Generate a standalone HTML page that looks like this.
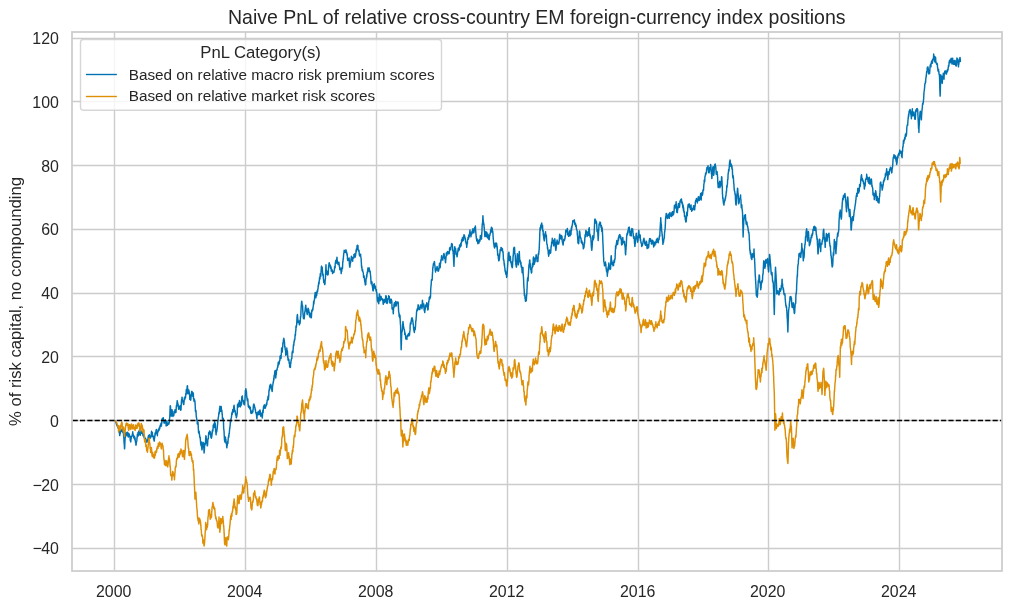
<!DOCTYPE html>
<html lang="en"><head><meta charset="utf-8"><title>Naive PnL</title>
<style>
html,body{margin:0;padding:0;background:#fff;}
body{width:1012px;height:609px;overflow:hidden;}
svg{display:block;}
text{font-family:"Liberation Sans","DejaVu Sans",sans-serif;fill:#262626;}
.tick{font-size:16.67px;}
.leg{font-size:15.31px;}
.legt{font-size:16.67px;}
.ttl{font-size:19.53px;}
.yl{font-size:16.67px;}
</style></head><body>
<svg width="1012" height="609" viewBox="0 0 1012 609">
<rect x="0" y="0" width="1012" height="609" fill="#ffffff"/>

<g stroke="#cccccc" stroke-width="1.39" fill="none">
<line x1="114.50" y1="32.0" x2="114.50" y2="571.0"/>
<line x1="245.50" y1="32.0" x2="245.50" y2="571.0"/>
<line x1="376.50" y1="32.0" x2="376.50" y2="571.0"/>
<line x1="507.50" y1="32.0" x2="507.50" y2="571.0"/>
<line x1="638.50" y1="32.0" x2="638.50" y2="571.0"/>
<line x1="768.50" y1="32.0" x2="768.50" y2="571.0"/>
<line x1="899.50" y1="32.0" x2="899.50" y2="571.0"/>
<line x1="72.0" y1="548.50" x2="1002.0" y2="548.50"/>
<line x1="72.0" y1="484.50" x2="1002.0" y2="484.50"/>
<line x1="72.0" y1="420.50" x2="1002.0" y2="420.50"/>
<line x1="72.0" y1="356.50" x2="1002.0" y2="356.50"/>
<line x1="72.0" y1="293.50" x2="1002.0" y2="293.50"/>
<line x1="72.0" y1="229.50" x2="1002.0" y2="229.50"/>
<line x1="72.0" y1="165.50" x2="1002.0" y2="165.50"/>
<line x1="72.0" y1="101.50" x2="1002.0" y2="101.50"/>
<line x1="72.0" y1="38.50" x2="1002.0" y2="38.50"/>
</g>
<path d="M115.12,420.49 L115.25,420.84 L115.38,421.18 L115.51,421.53 L115.63,421.87 L115.76,422.22 L115.89,422.56 L116.02,422.91 L116.15,423.26 L116.28,423.60 L116.41,423.95 L116.53,424.29 L116.66,424.64 L116.79,424.98 L116.92,425.33 L117.05,425.60 L117.18,425.86 L117.30,426.13 L117.43,426.39 L117.56,426.66 L117.69,426.93 L117.81,427.19 L117.94,427.46 L118.07,427.73 L118.20,427.99 L118.32,428.26 L118.45,428.52 L118.58,428.79 L118.71,428.37 L118.83,428.81 L118.96,429.26 L119.08,432.27 L119.21,430.92 L119.33,430.57 L119.46,433.48 L119.58,434.50 L119.71,435.55 L119.83,435.01 L119.96,432.94 L120.08,433.33 L120.21,433.64 L120.33,432.14 L120.45,431.38 L120.58,431.45 L120.70,430.34 L120.82,430.37 L120.95,430.66 L121.07,430.87 L121.19,429.88 L121.31,430.37 L121.44,431.26 L121.56,431.39 L121.68,429.98 L121.80,430.65 L121.93,429.67 L122.05,430.55 L122.17,428.79 L122.30,430.73 L122.42,431.42 L122.55,430.44 L122.67,430.73 L122.80,431.51 L122.92,432.59 L123.05,431.97 L123.17,431.19 L123.30,432.17 L123.42,432.25 L123.54,434.30 L123.66,437.07 L123.79,436.58 L123.91,438.66 L124.03,442.04 L124.15,443.38 L124.28,444.02 L124.40,446.77 L124.52,448.85 L124.64,448.37 L124.75,446.22 L124.87,442.54 L124.99,440.70 L125.10,438.42 L125.22,437.78 L125.35,437.62 L125.47,435.00 L125.60,432.97 L125.72,433.75 L125.85,434.24 L125.97,432.96 L126.10,432.54 L126.22,432.72 L126.35,432.94 L126.47,433.70 L126.60,433.63 L126.73,433.89 L126.85,433.93 L126.98,435.75 L127.10,433.10 L127.23,433.30 L127.35,433.73 L127.48,432.20 L127.60,433.04 L127.73,432.55 L127.85,434.10 L127.98,434.32 L128.11,435.09 L128.23,436.59 L128.36,436.97 L128.49,435.65 L128.61,433.47 L128.74,435.70 L128.86,435.41 L128.99,434.35 L129.12,434.40 L129.24,434.01 L129.37,435.02 L129.50,435.68 L129.62,436.31 L129.75,435.96 L129.87,437.20 L130.00,436.42 L130.12,437.93 L130.25,440.60 L130.37,439.15 L130.50,436.43 L130.62,437.88 L130.75,441.93 L130.87,440.41 L131.00,438.55 L131.12,439.17 L131.24,437.86 L131.37,437.01 L131.49,436.37 L131.61,436.92 L131.74,436.20 L131.86,436.40 L131.99,436.36 L132.11,435.42 L132.24,435.19 L132.36,434.10 L132.49,434.31 L132.61,432.99 L132.74,431.71 L132.86,433.88 L132.99,434.01 L133.11,434.13 L133.24,435.02 L133.37,435.02 L133.49,435.29 L133.62,436.43 L133.74,437.38 L133.87,436.39 L133.99,438.08 L134.12,437.86 L134.24,437.00 L134.37,436.36 L134.49,436.40 L134.62,439.17 L134.74,438.50 L134.86,439.64 L134.98,437.67 L135.11,438.59 L135.23,440.72 L135.35,441.32 L135.47,441.39 L135.59,442.62 L135.72,442.96 L135.84,443.25 L135.97,445.31 L136.09,444.99 L136.22,443.59 L136.34,442.81 L136.47,442.11 L136.59,441.65 L136.72,441.01 L136.84,440.64 L136.97,437.78 L137.10,438.11 L137.22,436.54 L137.35,434.17 L137.48,434.24 L137.60,435.22 L137.73,435.10 L137.85,434.53 L137.98,432.48 L138.11,435.56 L138.23,435.96 L138.36,433.63 L138.49,432.82 L138.61,433.18 L138.74,431.33 L138.86,431.80 L138.99,431.43 L139.11,433.33 L139.24,434.87 L139.36,431.46 L139.49,431.76 L139.61,429.82 L139.74,431.56 L139.87,431.58 L139.99,432.11 L140.12,430.47 L140.24,432.73 L140.37,435.25 L140.49,433.60 L140.62,433.90 L140.74,432.78 L140.87,432.54 L140.99,430.63 L141.12,432.94 L141.25,432.12 L141.37,432.21 L141.50,433.38 L141.63,432.99 L141.75,433.16 L141.88,432.89 L142.00,433.19 L142.13,432.10 L142.26,432.00 L142.38,432.21 L142.51,432.25 L142.64,433.04 L142.76,433.36 L142.89,435.09 L143.01,435.37 L143.14,435.90 L143.26,435.72 L143.39,435.72 L143.51,434.73 L143.64,436.14 L143.76,435.31 L143.89,435.02 L144.02,436.29 L144.14,437.63 L144.27,437.87 L144.39,435.94 L144.52,437.29 L144.64,438.43 L144.77,437.31 L144.89,439.14 L145.02,438.98 L145.14,438.25 L145.27,439.17 L145.40,439.39 L145.52,440.13 L145.65,438.42 L145.78,441.33 L145.90,440.98 L146.03,439.36 L146.15,440.66 L146.28,440.64 L146.41,441.54 L146.53,441.55 L146.66,441.93 L146.79,442.24 L146.91,441.20 L147.04,442.10 L147.16,441.44 L147.29,440.24 L147.41,440.32 L147.54,440.89 L147.66,440.56 L147.79,439.37 L147.91,440.18 L148.04,437.78 L148.17,436.77 L148.29,437.20 L148.42,435.74 L148.54,436.15 L148.67,436.46 L148.79,438.05 L148.92,437.19 L149.04,436.72 L149.17,437.55 L149.29,434.61 L149.42,439.17 L149.55,438.23 L149.67,437.24 L149.80,438.41 L149.93,438.35 L150.05,435.95 L150.18,436.80 L150.30,437.96 L150.43,437.35 L150.56,436.97 L150.68,437.63 L150.81,436.40 L150.94,436.70 L151.06,436.68 L151.19,435.48 L151.31,433.31 L151.44,432.72 L151.56,431.25 L151.69,432.31 L151.81,432.22 L151.94,432.98 L152.06,432.87 L152.19,432.94 L152.32,432.36 L152.44,433.74 L152.57,436.63 L152.69,436.69 L152.82,436.37 L152.94,436.64 L153.07,436.47 L153.19,436.00 L153.32,436.66 L153.44,436.75 L153.57,439.17 L153.70,438.91 L153.82,439.09 L153.95,440.11 L154.08,439.44 L154.20,441.12 L154.33,440.01 L154.45,438.65 L154.58,437.90 L154.71,437.48 L154.83,435.33 L154.96,435.02 L155.08,432.91 L155.20,434.93 L155.33,434.96 L155.45,434.24 L155.57,433.15 L155.69,432.77 L155.81,432.61 L155.93,431.34 L156.06,430.24 L156.18,430.13 L156.30,429.57 L156.42,430.98 L156.54,432.66 L156.66,432.82 L156.79,433.60 L156.91,431.94 L157.03,432.94 L157.15,432.90 L157.27,433.55 L157.40,435.70 L157.52,432.62 L157.64,432.97 L157.76,431.48 L157.89,432.28 L158.01,430.50 L158.13,429.83 L158.25,430.10 L158.38,430.92 L158.50,431.02 L158.62,429.95 L158.74,429.20 L158.87,430.39 L158.99,430.38 L159.11,428.10 L159.23,428.66 L159.35,428.64 L159.48,429.24 L159.60,428.21 L159.72,428.75 L159.84,426.73 L159.96,426.92 L160.08,425.68 L160.21,426.01 L160.33,426.79 L160.45,425.22 L160.57,424.57 L160.69,424.04 L160.81,425.07 L160.94,425.45 L161.06,423.22 L161.18,423.26 L161.30,423.75 L161.42,426.10 L161.55,423.32 L161.67,422.08 L161.79,423.37 L161.91,421.03 L162.04,418.89 L162.16,419.08 L162.28,419.94 L162.40,418.52 L162.53,418.73 L162.65,418.38 L162.77,419.91 L162.89,419.40 L163.02,420.22 L163.14,418.48 L163.26,417.72 L163.39,417.94 L163.51,419.82 L163.64,420.95 L163.76,420.28 L163.89,421.55 L164.01,422.93 L164.14,423.13 L164.26,423.13 L164.39,423.21 L164.51,421.27 L164.64,421.87 L164.77,422.38 L164.89,421.40 L165.02,422.59 L165.14,420.93 L165.27,420.38 L165.39,419.93 L165.52,422.80 L165.64,420.83 L165.77,421.79 L165.89,423.25 L166.02,423.95 L166.15,425.91 L166.27,424.92 L166.40,422.20 L166.53,423.60 L166.65,422.35 L166.78,422.27 L166.90,421.04 L167.03,422.83 L167.16,424.36 L167.28,423.75 L167.41,425.33 L167.54,425.12 L167.66,424.56 L167.79,424.26 L167.91,423.61 L168.04,424.07 L168.16,424.11 L168.29,423.27 L168.41,424.25 L168.54,423.05 L168.66,423.06 L168.79,423.26 L168.91,424.03 L169.03,422.12 L169.15,423.24 L169.27,422.25 L169.40,420.76 L169.52,418.63 L169.64,418.19 L169.76,417.03 L169.88,413.92 L169.99,410.78 L170.10,408.41 L170.22,405.88 L170.33,405.73 L170.45,405.97 L170.56,407.89 L170.68,409.11 L170.79,409.28 L170.91,410.09 L171.02,412.03 L171.14,415.65 L171.27,416.15 L171.39,415.04 L171.52,414.36 L171.65,412.97 L171.77,411.18 L171.90,410.20 L172.02,409.73 L172.15,411.48 L172.28,410.82 L172.40,411.92 L172.53,413.57 L172.66,413.55 L172.78,415.60 L172.91,416.44 L173.03,415.75 L173.16,415.98 L173.28,415.89 L173.41,415.45 L173.53,415.06 L173.66,415.13 L173.78,415.59 L173.91,414.27 L174.04,413.82 L174.16,411.33 L174.29,411.24 L174.41,411.65 L174.54,411.43 L174.66,411.38 L174.79,411.74 L174.91,410.40 L175.04,409.64 L175.16,409.89 L175.29,410.81 L175.42,410.28 L175.55,412.66 L175.68,411.47 L175.80,411.76 L175.93,412.41 L176.06,411.16 L176.19,408.99 L176.32,406.33 L176.45,405.49 L176.58,405.92 L176.70,405.22 L176.83,404.39 L176.96,402.82 L177.09,402.51 L177.22,400.60 L177.34,401.89 L177.47,402.90 L177.59,402.03 L177.72,405.94 L177.84,405.04 L177.97,404.56 L178.09,403.91 L178.22,406.39 L178.34,406.16 L178.47,408.04 L178.60,408.88 L178.72,409.28 L178.85,407.56 L178.98,406.78 L179.10,409.09 L179.23,407.40 L179.35,406.32 L179.48,406.15 L179.61,407.29 L179.73,407.68 L179.86,408.73 L179.99,406.92 L180.11,407.84 L180.24,408.24 L180.36,405.72 L180.49,407.44 L180.61,410.17 L180.74,408.76 L180.86,408.47 L180.99,410.00 L181.11,407.63 L181.24,404.58 L181.37,402.23 L181.49,400.86 L181.62,399.47 L181.74,399.69 L181.87,399.45 L181.99,397.17 L182.12,397.33 L182.24,399.26 L182.37,400.27 L182.49,401.01 L182.62,400.43 L182.75,401.84 L182.87,400.62 L183.00,401.72 L183.13,401.69 L183.25,403.30 L183.38,404.02 L183.50,402.63 L183.63,402.89 L183.76,404.62 L183.88,403.18 L184.01,402.51 L184.14,400.73 L184.26,397.97 L184.39,398.53 L184.51,399.56 L184.64,399.90 L184.76,399.49 L184.89,398.68 L185.01,398.26 L185.14,396.53 L185.26,397.00 L185.39,397.67 L185.51,397.76 L185.63,395.87 L185.75,394.80 L185.88,393.40 L186.00,394.65 L186.12,393.72 L186.24,390.00 L186.36,389.37 L186.48,391.73 L186.61,392.48 L186.73,393.48 L186.85,393.35 L186.98,390.51 L187.10,387.89 L187.22,386.02 L187.35,385.67 L187.47,385.91 L187.59,387.91 L187.71,388.52 L187.84,390.87 L187.96,391.56 L188.08,391.68 L188.20,393.90 L188.33,393.73 L188.45,391.11 L188.57,390.75 L188.70,392.56 L188.82,390.08 L188.95,391.28 L189.08,392.51 L189.20,392.26 L189.33,391.94 L189.45,393.00 L189.58,393.94 L189.71,397.32 L189.83,399.50 L189.96,399.05 L190.09,397.13 L190.21,397.31 L190.34,399.10 L190.46,398.85 L190.59,398.50 L190.71,400.24 L190.84,399.44 L190.96,398.25 L191.09,395.57 L191.21,394.11 L191.34,396.28 L191.46,394.03 L191.58,393.71 L191.70,391.48 L191.82,391.32 L191.95,392.19 L192.07,391.53 L192.19,392.18 L192.31,392.82 L192.44,393.24 L192.56,395.37 L192.69,396.23 L192.81,395.64 L192.94,394.53 L193.06,393.20 L193.19,393.66 L193.31,393.04 L193.44,396.53 L193.56,398.84 L193.69,398.36 L193.82,398.42 L193.94,401.22 L194.07,399.18 L194.19,399.08 L194.32,400.87 L194.44,400.15 L194.57,400.02 L194.69,400.05 L194.82,401.45 L194.94,402.15 L195.07,403.20 L195.19,405.78 L195.31,407.60 L195.43,410.87 L195.56,411.66 L195.68,411.50 L195.80,410.88 L195.92,410.47 L196.04,411.50 L196.16,414.55 L196.29,416.44 L196.41,417.29 L196.53,417.50 L196.66,418.44 L196.78,419.55 L196.90,420.44 L197.03,420.17 L197.15,421.18 L197.28,423.93 L197.40,422.36 L197.53,423.41 L197.65,421.92 L197.78,423.54 L197.90,423.90 L198.03,422.46 L198.15,423.96 L198.28,427.79 L198.40,429.31 L198.53,432.25 L198.66,432.95 L198.78,430.84 L198.91,432.31 L199.04,432.54 L199.16,431.37 L199.29,433.23 L199.41,434.42 L199.54,434.51 L199.67,436.49 L199.79,436.11 L199.92,437.78 L200.05,437.21 L200.17,438.62 L200.30,437.83 L200.42,440.54 L200.55,441.58 L200.67,444.21 L200.80,443.80 L200.92,443.85 L201.05,445.68 L201.17,442.67 L201.30,441.93 L201.43,444.17 L201.55,445.65 L201.68,447.81 L201.80,448.24 L201.93,449.85 L202.05,449.71 L202.18,448.71 L202.30,447.27 L202.43,447.37 L202.55,447.47 L202.68,447.47 L202.81,443.84 L202.93,442.31 L203.06,442.76 L203.19,444.31 L203.31,444.69 L203.44,444.67 L203.56,442.72 L203.69,446.61 L203.82,446.29 L203.94,449.73 L204.07,453.00 L204.19,452.12 L204.31,450.10 L204.44,449.04 L204.56,446.23 L204.68,445.34 L204.80,444.10 L204.93,443.57 L205.05,443.61 L205.17,444.70 L205.29,443.26 L205.41,443.75 L205.53,441.77 L205.65,439.65 L205.78,437.90 L205.90,435.66 L206.02,436.07 L206.14,436.40 L206.27,439.17 L206.39,440.19 L206.52,441.62 L206.64,441.89 L206.77,441.39 L206.89,443.05 L207.02,444.47 L207.14,444.03 L207.27,445.87 L207.39,444.58 L207.52,445.39 L207.64,443.36 L207.76,441.47 L207.88,438.83 L208.00,438.94 L208.13,438.53 L208.25,438.95 L208.37,437.95 L208.49,435.02 L208.61,434.33 L208.74,432.54 L208.86,432.96 L208.98,434.40 L209.11,434.65 L209.23,433.64 L209.35,432.94 L209.48,433.02 L209.60,430.87 L209.73,431.63 L209.85,432.45 L209.98,432.27 L210.10,432.26 L210.23,433.04 L210.35,432.48 L210.48,431.92 L210.60,433.52 L210.73,434.37 L210.85,437.19 L210.98,436.40 L211.11,434.58 L211.23,436.43 L211.36,438.29 L211.49,437.87 L211.61,436.47 L211.74,436.98 L211.86,435.19 L211.99,435.30 L212.12,432.92 L212.24,433.17 L212.37,430.87 L212.50,429.97 L212.62,431.43 L212.75,430.49 L212.87,430.94 L213.00,429.49 L213.12,427.70 L213.25,425.08 L213.37,425.90 L213.50,425.23 L213.62,426.83 L213.75,424.64 L213.87,423.99 L214.00,423.75 L214.12,425.30 L214.24,427.41 L214.37,426.18 L214.49,424.30 L214.61,421.60 L214.74,423.05 L214.86,422.57 L214.98,423.67 L215.10,425.57 L215.22,424.09 L215.34,423.73 L215.46,426.96 L215.58,429.46 L215.70,431.63 L215.82,432.25 L215.95,432.74 L216.07,434.83 L216.20,432.87 L216.33,432.58 L216.45,431.69 L216.58,431.87 L216.70,431.58 L216.83,431.07 L216.96,429.57 L217.08,429.24 L217.21,428.10 L217.34,426.60 L217.46,425.22 L217.59,424.80 L217.71,422.72 L217.84,420.98 L217.96,421.13 L218.09,419.54 L218.21,417.89 L218.34,417.76 L218.46,416.83 L218.59,415.65 L218.71,415.22 L218.83,412.82 L218.95,412.71 L219.07,413.78 L219.20,413.83 L219.32,411.01 L219.44,410.67 L219.56,408.73 L219.68,408.14 L219.81,408.02 L219.93,406.13 L220.05,407.65 L220.18,407.27 L220.30,408.06 L220.42,408.64 L220.55,410.17 L220.67,411.50 L220.80,409.61 L220.92,409.76 L221.05,406.97 L221.17,406.47 L221.30,407.53 L221.42,408.87 L221.55,410.71 L221.67,410.30 L221.80,410.83 L221.92,411.07 L222.05,412.88 L222.18,414.74 L222.30,413.97 L222.43,418.80 L222.55,418.51 L222.68,417.73 L222.80,418.26 L222.93,419.00 L223.05,419.45 L223.18,418.30 L223.30,420.01 L223.43,419.80 L223.55,424.26 L223.68,428.53 L223.80,429.20 L223.92,430.26 L224.05,431.30 L224.17,434.03 L224.29,436.50 L224.42,439.25 L224.54,440.55 L224.67,440.59 L224.79,441.94 L224.92,439.60 L225.04,438.80 L225.17,438.59 L225.29,437.88 L225.42,437.08 L225.54,438.93 L225.67,440.12 L225.79,440.73 L225.92,439.17 L226.04,442.67 L226.17,443.63 L226.29,443.33 L226.41,443.35 L226.54,443.16 L226.66,446.50 L226.78,447.26 L226.91,447.82 L227.03,445.39 L227.15,446.06 L227.28,444.31 L227.40,442.46 L227.53,442.97 L227.65,441.48 L227.77,442.28 L227.90,443.47 L228.02,440.73 L228.15,440.23 L228.27,437.78 L228.40,437.10 L228.52,437.73 L228.65,435.29 L228.78,437.13 L228.90,436.11 L229.03,433.91 L229.15,433.15 L229.28,433.62 L229.41,431.16 L229.53,430.56 L229.66,428.10 L229.79,428.50 L229.91,427.48 L230.04,425.67 L230.16,425.84 L230.29,422.87 L230.41,421.11 L230.54,422.37 L230.66,420.97 L230.79,421.57 L230.91,420.60 L231.04,418.42 L231.17,418.00 L231.29,418.03 L231.42,417.39 L231.54,416.19 L231.67,415.05 L231.79,412.97 L231.92,413.03 L232.04,413.48 L232.17,414.40 L232.29,411.88 L232.42,412.88 L232.55,412.32 L232.68,409.85 L232.80,409.44 L232.93,410.00 L233.06,410.16 L233.19,410.60 L233.31,411.34 L233.44,412.01 L233.57,411.42 L233.70,408.07 L233.82,406.50 L233.95,406.44 L234.08,405.27 L234.20,406.48 L234.33,407.84 L234.45,408.20 L234.57,411.02 L234.70,409.99 L234.82,411.53 L234.94,411.18 L235.07,410.42 L235.19,411.50 L235.32,411.79 L235.44,414.07 L235.57,413.61 L235.69,414.78 L235.82,414.77 L235.94,415.57 L236.07,416.19 L236.19,415.79 L236.32,417.79 L236.44,417.23 L236.57,417.03 L236.69,416.30 L236.81,415.69 L236.93,414.66 L237.06,413.19 L237.18,414.34 L237.30,410.78 L237.42,407.85 L237.54,404.58 L237.67,405.33 L237.80,405.25 L237.93,406.28 L238.05,407.13 L238.18,406.36 L238.31,404.79 L238.44,402.98 L238.57,405.50 L238.70,406.35 L238.83,406.68 L238.95,405.76 L239.08,405.03 L239.21,404.10 L239.34,403.20 L239.47,400.53 L239.59,401.03 L239.72,401.09 L239.84,402.05 L239.97,402.91 L240.09,404.64 L240.22,405.20 L240.34,406.85 L240.47,403.97 L240.59,403.06 L240.72,405.97 L240.85,404.38 L240.97,404.05 L241.10,405.06 L241.23,403.92 L241.35,404.95 L241.48,403.08 L241.60,400.55 L241.73,398.81 L241.86,396.63 L241.98,396.66 L242.11,396.28 L242.24,396.99 L242.36,395.86 L242.49,399.56 L242.61,399.70 L242.74,399.90 L242.86,400.79 L242.99,400.73 L243.11,400.14 L243.24,400.53 L243.36,402.03 L243.49,403.20 L243.62,404.00 L243.74,402.78 L243.87,401.26 L243.99,403.50 L244.12,402.72 L244.24,402.90 L244.37,403.43 L244.49,404.88 L244.62,402.59 L244.74,401.48 L244.87,400.43 L244.99,399.47 L245.12,395.66 L245.24,394.98 L245.36,390.52 L245.49,390.37 L245.61,390.55 L245.73,390.81 L245.86,388.63 L245.98,389.37 L246.10,390.18 L246.22,390.50 L246.34,391.15 L246.46,391.98 L246.59,394.19 L246.71,397.28 L246.83,396.42 L246.95,397.67 L247.08,399.17 L247.20,399.72 L247.33,400.69 L247.45,398.95 L247.58,400.52 L247.70,398.69 L247.83,399.24 L247.95,401.37 L248.08,404.20 L248.20,405.18 L248.33,406.66 L248.46,406.05 L248.59,405.61 L248.71,407.40 L248.84,407.61 L248.97,407.65 L249.10,405.96 L249.22,406.37 L249.35,407.45 L249.48,406.59 L249.61,406.12 L249.73,408.46 L249.86,408.91 L249.99,408.73 L250.11,407.71 L250.23,407.39 L250.35,407.57 L250.47,409.94 L250.59,409.63 L250.71,412.57 L250.83,411.83 L250.95,411.86 L251.07,413.52 L251.19,413.41 L251.31,412.51 L251.43,412.54 L251.56,413.37 L251.68,411.26 L251.80,411.15 L251.92,411.21 L252.04,410.88 L252.16,412.09 L252.29,411.54 L252.41,411.26 L252.53,411.53 L252.65,412.73 L252.78,411.08 L252.90,411.78 L253.03,409.20 L253.15,409.59 L253.28,407.08 L253.41,405.51 L253.53,404.65 L253.66,406.07 L253.78,405.93 L253.91,404.03 L254.04,406.00 L254.16,405.92 L254.29,405.06 L254.42,405.88 L254.55,406.22 L254.67,407.72 L254.80,407.19 L254.93,407.91 L255.05,408.98 L255.18,409.57 L255.30,409.98 L255.42,409.48 L255.54,411.15 L255.67,411.78 L255.79,412.90 L255.91,412.87 L256.03,413.33 L256.15,412.38 L256.27,412.94 L256.40,414.42 L256.52,414.99 L256.64,416.60 L256.76,417.47 L256.88,418.79 L257.00,418.01 L257.12,415.28 L257.25,415.35 L257.37,414.60 L257.49,412.77 L257.61,413.13 L257.73,412.96 L257.85,413.04 L257.98,412.08 L258.10,411.82 L258.22,411.64 L258.34,413.52 L258.46,413.14 L258.58,413.67 L258.70,414.70 L258.83,412.92 L258.95,411.29 L259.07,414.76 L259.19,412.92 L259.31,414.24 L259.43,413.63 L259.56,413.15 L259.68,411.01 L259.80,410.34 L259.92,411.94 L260.04,410.06 L260.16,410.86 L260.28,411.27 L260.41,413.99 L260.53,413.34 L260.65,415.04 L260.77,416.23 L260.89,415.84 L261.01,413.59 L261.14,415.62 L261.26,413.77 L261.38,413.12 L261.50,414.31 L261.62,415.60 L261.74,414.23 L261.86,413.97 L261.99,413.40 L262.11,414.77 L262.23,417.93 L262.35,415.24 L262.47,416.26 L262.59,412.18 L262.72,411.98 L262.84,410.26 L262.96,412.73 L263.08,412.73 L263.20,410.85 L263.32,409.30 L263.44,407.64 L263.55,407.02 L263.67,405.92 L263.79,405.93 L263.91,407.12 L264.03,407.19 L264.16,406.35 L264.28,404.98 L264.41,404.77 L264.54,407.01 L264.66,407.37 L264.79,407.29 L264.92,408.29 L265.05,407.20 L265.17,406.47 L265.30,407.98 L265.43,407.50 L265.55,406.82 L265.68,407.18 L265.80,406.32 L265.93,405.33 L266.06,404.64 L266.18,405.39 L266.31,405.40 L266.43,403.72 L266.56,403.24 L266.69,403.08 L266.81,404.56 L266.94,401.98 L267.07,401.40 L267.19,400.02 L267.32,400.09 L267.45,399.66 L267.58,400.61 L267.70,400.27 L267.83,398.50 L267.96,396.81 L268.08,396.40 L268.21,395.97 L268.33,398.24 L268.46,399.54 L268.59,397.00 L268.71,396.51 L268.84,393.75 L268.96,390.55 L269.09,390.59 L269.21,390.69 L269.33,388.64 L269.45,390.22 L269.56,388.25 L269.68,386.03 L269.80,386.27 L269.92,385.92 L270.04,385.06 L270.17,385.59 L270.29,386.52 L270.42,386.96 L270.54,387.35 L270.67,385.42 L270.80,384.23 L270.92,385.68 L271.05,385.36 L271.17,386.72 L271.30,389.01 L271.43,387.57 L271.55,386.99 L271.68,388.84 L271.81,388.82 L271.94,390.35 L272.06,391.46 L272.19,391.52 L272.32,390.41 L272.44,388.31 L272.57,385.85 L272.70,385.44 L272.82,385.01 L272.95,383.70 L273.07,383.78 L273.20,381.90 L273.33,382.33 L273.45,381.32 L273.58,380.21 L273.70,379.14 L273.83,377.94 L273.95,379.94 L274.07,376.40 L274.19,375.28 L274.30,375.60 L274.42,375.20 L274.54,373.44 L274.66,374.42 L274.78,371.62 L274.90,371.10 L275.02,373.11 L275.14,372.39 L275.25,370.42 L275.37,372.85 L275.49,375.12 L275.61,377.36 L275.73,377.94 L275.86,376.74 L275.98,374.00 L276.11,374.89 L276.24,374.52 L276.37,374.08 L276.49,370.00 L276.62,369.65 L276.75,370.22 L276.87,370.42 L277.00,370.04 L277.13,369.18 L277.25,367.87 L277.38,367.82 L277.50,367.48 L277.63,366.95 L277.76,365.67 L277.88,367.09 L278.01,364.66 L278.13,363.77 L278.26,362.13 L278.39,362.66 L278.51,363.73 L278.64,364.54 L278.77,364.70 L278.89,361.94 L279.02,363.88 L279.15,363.72 L279.28,362.71 L279.40,361.87 L279.53,360.55 L279.66,360.79 L279.78,360.88 L279.91,360.07 L280.03,356.27 L280.16,355.89 L280.29,356.20 L280.41,356.59 L280.54,356.05 L280.66,356.33 L280.79,357.39 L280.92,356.66 L281.04,358.55 L281.17,355.81 L281.30,354.02 L281.43,352.70 L281.55,349.30 L281.68,347.86 L281.81,349.45 L281.93,351.03 L282.06,351.07 L282.18,352.10 L282.30,351.13 L282.41,349.17 L282.53,348.20 L282.65,346.72 L282.76,346.42 L282.88,343.10 L283.00,343.16 L283.12,342.17 L283.24,342.95 L283.36,340.50 L283.48,339.56 L283.59,339.29 L283.71,340.14 L283.83,338.12 L283.95,340.00 L284.07,340.60 L284.19,339.83 L284.31,341.42 L284.42,341.51 L284.54,343.02 L284.66,346.10 L284.78,347.08 L284.90,346.32 L285.02,346.65 L285.14,348.34 L285.26,349.64 L285.38,349.42 L285.49,349.42 L285.61,351.22 L285.73,355.30 L285.85,352.65 L285.97,353.38 L286.09,352.86 L286.21,353.67 L286.33,354.60 L286.44,354.43 L286.56,352.81 L286.68,350.68 L286.80,347.91 L286.92,350.47 L287.04,351.10 L287.16,351.28 L287.27,351.82 L287.39,350.93 L287.51,352.25 L287.63,354.94 L287.75,357.39 L287.88,356.66 L288.00,359.88 L288.13,360.23 L288.25,359.03 L288.38,358.75 L288.51,358.82 L288.63,360.20 L288.76,360.18 L288.88,359.53 L289.01,360.55 L289.14,363.24 L289.26,362.39 L289.39,363.11 L289.52,363.31 L289.64,366.99 L289.77,364.52 L289.90,366.10 L290.03,364.46 L290.15,363.76 L290.28,363.72 L290.41,367.42 L290.53,365.79 L290.66,362.64 L290.78,363.80 L290.91,362.06 L291.04,361.14 L291.16,360.50 L291.29,360.04 L291.41,359.21 L291.54,358.97 L291.66,358.49 L291.78,358.64 L291.90,357.06 L292.01,355.04 L292.13,352.60 L292.25,352.39 L292.37,351.33 L292.49,351.07 L292.61,351.11 L292.73,352.70 L292.85,352.30 L292.97,352.63 L293.08,350.32 L293.20,348.17 L293.32,347.07 L293.44,344.74 L293.56,346.18 L293.68,344.89 L293.80,345.49 L293.91,342.68 L294.03,341.70 L294.15,341.75 L294.27,341.91 L294.39,340.00 L294.51,339.39 L294.63,339.95 L294.75,340.06 L294.88,338.42 L295.00,336.86 L295.12,334.50 L295.24,334.60 L295.36,335.78 L295.48,334.32 L295.60,331.27 L295.73,330.78 L295.85,330.97 L295.97,326.54 L296.09,325.97 L296.21,327.27 L296.33,326.77 L296.46,325.89 L296.58,324.82 L296.70,324.63 L296.82,321.75 L296.95,318.99 L297.07,317.92 L297.19,315.38 L297.31,316.40 L297.43,314.49 L297.55,316.19 L297.66,318.00 L297.78,318.74 L297.90,319.63 L298.02,322.49 L298.14,321.70 L298.27,321.58 L298.39,321.22 L298.52,321.76 L298.65,321.51 L298.77,322.67 L298.90,322.91 L299.03,322.07 L299.16,321.09 L299.28,323.84 L299.41,324.86 L299.54,323.96 L299.67,323.41 L299.80,322.71 L299.93,323.15 L300.06,323.32 L300.18,321.93 L300.31,320.23 L300.44,318.18 L300.57,315.90 L300.70,317.21 L300.83,315.38 L300.96,311.26 L301.09,308.72 L301.22,306.26 L301.35,305.31 L301.48,302.72 L301.60,302.04 L301.73,301.17 L301.86,301.48 L301.99,303.01 L302.12,305.46 L302.25,305.89 L302.38,305.14 L302.50,305.42 L302.63,306.57 L302.76,310.18 L302.88,311.91 L303.01,314.35 L303.14,314.94 L303.27,316.55 L303.39,318.34 L303.52,318.54 L303.65,318.46 L303.77,318.78 L303.90,317.44 L304.02,317.69 L304.15,318.79 L304.28,317.76 L304.40,316.63 L304.53,315.09 L304.65,313.12 L304.78,312.21 L304.91,311.70 L305.03,311.33 L305.16,310.34 L305.29,308.31 L305.41,307.09 L305.54,307.59 L305.67,306.04 L305.80,305.21 L305.92,307.48 L306.05,309.05 L306.18,308.40 L306.30,309.49 L306.43,308.89 L306.55,311.37 L306.68,310.86 L306.81,311.26 L306.93,313.41 L307.06,312.57 L307.18,314.61 L307.31,313.79 L307.44,313.44 L307.56,312.38 L307.69,311.59 L307.82,311.14 L307.94,310.37 L308.07,308.33 L308.20,308.84 L308.33,309.14 L308.45,310.22 L308.58,311.42 L308.71,309.58 L308.83,311.28 L308.96,313.01 L309.08,312.26 L309.21,313.63 L309.34,315.59 L309.46,314.83 L309.59,312.94 L309.71,312.43 L309.84,316.17 L309.97,317.12 L310.09,316.11 L310.22,316.41 L310.35,315.70 L310.48,315.79 L310.60,316.55 L310.73,313.72 L310.86,314.84 L310.98,317.38 L311.11,317.75 L311.24,316.75 L311.36,317.74 L311.49,315.54 L311.61,313.37 L311.74,311.00 L311.87,310.31 L311.99,310.35 L312.12,309.74 L312.24,310.00 L312.37,310.63 L312.50,310.85 L312.62,309.30 L312.75,308.48 L312.88,309.71 L313.00,307.85 L313.13,307.05 L313.26,306.03 L313.39,305.33 L313.51,303.43 L313.64,301.15 L313.77,303.61 L313.89,303.90 L314.02,301.95 L314.14,300.89 L314.27,300.82 L314.40,299.36 L314.52,299.21 L314.65,297.39 L314.77,295.92 L314.90,294.82 L315.03,295.01 L315.15,292.50 L315.28,293.34 L315.41,294.50 L315.53,295.95 L315.66,295.41 L315.79,296.68 L315.92,297.78 L316.04,296.20 L316.17,294.03 L316.30,294.14 L316.42,292.33 L316.55,293.15 L316.67,295.51 L316.80,294.19 L316.93,292.73 L317.05,292.19 L317.18,292.57 L317.30,290.51 L317.43,291.66 L317.56,291.60 L317.68,291.10 L317.81,288.97 L317.94,288.81 L318.06,288.57 L318.19,285.55 L318.32,286.98 L318.45,285.17 L318.57,284.27 L318.70,282.17 L318.83,282.69 L318.95,284.25 L319.08,283.16 L319.20,280.93 L319.33,280.32 L319.46,278.55 L319.58,277.53 L319.71,277.36 L319.83,277.27 L319.96,279.01 L320.08,276.34 L320.20,275.52 L320.32,273.54 L320.44,274.09 L320.55,276.20 L320.67,275.32 L320.79,276.28 L320.91,274.27 L321.04,272.00 L321.16,270.18 L321.29,267.94 L321.41,266.54 L321.54,266.11 L321.67,267.56 L321.79,268.39 L321.92,268.91 L322.04,268.23 L322.17,267.15 L322.30,268.64 L322.42,270.27 L322.55,272.06 L322.68,274.01 L322.81,275.29 L322.93,274.14 L323.06,274.08 L323.19,274.41 L323.31,278.14 L323.44,279.01 L323.57,280.00 L323.69,282.05 L323.82,282.58 L323.94,282.12 L324.07,281.80 L324.20,280.50 L324.32,280.99 L324.45,282.59 L324.57,283.43 L324.70,284.55 L324.83,283.54 L324.95,284.27 L325.08,281.43 L325.21,279.67 L325.34,278.64 L325.46,278.35 L325.59,273.09 L325.72,270.41 L325.84,268.15 L325.97,264.78 L326.10,267.81 L326.22,270.00 L326.35,271.36 L326.47,271.04 L326.60,271.14 L326.73,271.70 L326.85,274.21 L326.98,274.45 L327.10,273.55 L327.23,273.48 L327.36,271.56 L327.48,272.69 L327.61,274.94 L327.74,273.17 L327.87,273.32 L327.99,274.08 L328.12,274.69 L328.25,273.41 L328.37,270.52 L328.50,268.74 L328.63,265.80 L328.75,265.69 L328.88,266.31 L329.00,263.33 L329.13,262.83 L329.26,262.79 L329.38,264.05 L329.51,265.48 L329.63,266.14 L329.76,264.78 L329.89,264.43 L330.01,266.21 L330.14,265.54 L330.27,265.63 L330.39,267.88 L330.52,268.20 L330.65,266.50 L330.78,266.25 L330.90,267.26 L331.03,267.15 L331.16,269.06 L331.28,271.14 L331.41,270.61 L331.53,270.28 L331.66,270.48 L331.79,269.21 L331.91,270.06 L332.04,270.17 L332.16,271.57 L332.29,271.11 L332.42,270.49 L332.54,273.54 L332.67,272.92 L332.80,272.70 L332.93,272.28 L333.05,272.44 L333.18,271.77 L333.31,272.28 L333.43,271.89 L333.56,271.90 L333.69,271.87 L333.81,272.29 L333.94,272.40 L334.06,270.88 L334.19,270.89 L334.32,270.21 L334.44,269.54 L334.57,266.69 L334.69,267.07 L334.82,266.36 L334.95,267.82 L335.07,267.85 L335.20,265.50 L335.33,262.81 L335.45,263.53 L335.58,261.51 L335.71,261.59 L335.84,260.35 L335.96,262.35 L336.09,261.62 L336.21,262.51 L336.33,263.16 L336.45,261.38 L336.56,259.79 L336.68,260.65 L336.80,259.50 L336.92,257.19 L337.04,257.67 L337.17,260.84 L337.29,260.48 L337.42,262.07 L337.54,261.56 L337.67,263.10 L337.80,262.49 L337.92,264.01 L338.05,264.46 L338.17,263.94 L338.30,263.99 L338.43,263.94 L338.55,263.11 L338.68,262.38 L338.81,262.99 L338.94,262.26 L339.06,263.56 L339.19,264.98 L339.32,266.32 L339.44,266.36 L339.57,267.15 L339.70,267.52 L339.82,269.71 L339.95,269.03 L340.07,268.92 L340.20,269.01 L340.33,269.23 L340.45,268.63 L340.58,268.19 L340.70,269.98 L340.83,269.53 L340.96,270.22 L341.08,272.43 L341.21,273.61 L341.33,270.63 L341.46,271.13 L341.59,271.23 L341.71,271.42 L341.84,268.68 L341.96,269.16 L342.09,267.15 L342.22,267.14 L342.34,266.84 L342.47,268.52 L342.60,266.24 L342.73,262.42 L342.85,262.08 L342.98,261.50 L343.11,259.22 L343.23,259.29 L343.36,258.46 L343.48,256.12 L343.60,255.05 L343.72,253.85 L343.84,253.10 L343.95,252.76 L344.07,251.22 L344.19,250.35 L344.31,250.55 L344.44,251.15 L344.56,251.48 L344.69,251.76 L344.81,252.32 L344.94,250.43 L345.07,251.34 L345.19,250.65 L345.32,251.48 L345.44,250.19 L345.57,252.13 L345.70,252.44 L345.82,250.60 L345.95,250.91 L346.08,249.88 L346.20,252.30 L346.33,252.95 L346.46,251.87 L346.59,252.16 L346.71,252.11 L346.84,253.72 L346.97,254.48 L347.09,255.44 L347.22,254.21 L347.34,255.55 L347.47,258.66 L347.60,259.79 L347.72,260.02 L347.85,260.52 L347.97,259.51 L348.10,260.04 L348.23,259.05 L348.35,259.61 L348.48,259.58 L348.61,258.95 L348.74,260.23 L348.86,258.71 L348.99,259.15 L349.12,257.86 L349.24,260.83 L349.37,263.99 L349.50,264.65 L349.62,266.72 L349.75,267.03 L349.87,267.28 L350.00,266.22 L350.13,264.52 L350.25,264.21 L350.38,262.99 L350.50,261.91 L350.63,262.41 L350.76,262.12 L350.88,259.89 L351.01,259.47 L351.14,258.32 L351.26,257.79 L351.39,256.19 L351.52,257.68 L351.65,260.13 L351.77,258.50 L351.90,259.25 L352.03,259.60 L352.15,257.69 L352.28,257.37 L352.40,258.82 L352.53,259.50 L352.66,261.23 L352.78,259.19 L352.91,257.72 L353.03,257.65 L353.16,257.67 L353.29,258.02 L353.41,257.82 L353.54,257.58 L353.67,257.08 L353.80,258.00 L353.92,254.59 L354.05,257.07 L354.18,256.67 L354.30,255.05 L354.43,256.09 L354.56,254.09 L354.68,254.51 L354.81,253.86 L354.93,254.56 L355.06,255.51 L355.19,257.15 L355.31,256.38 L355.44,255.87 L355.56,255.74 L355.69,253.72 L355.82,253.58 L355.94,252.81 L356.07,250.05 L356.20,250.74 L356.32,251.64 L356.45,248.91 L356.58,248.74 L356.71,249.48 L356.83,249.66 L356.96,247.39 L357.09,245.67 L357.21,245.69 L357.34,245.18 L357.46,245.34 L357.59,245.37 L357.72,246.25 L357.84,245.66 L357.97,245.60 L358.09,249.77 L358.22,249.76 L358.35,250.69 L358.47,251.01 L358.60,251.24 L358.73,249.94 L358.86,250.58 L358.98,250.44 L359.11,251.47 L359.24,254.17 L359.36,254.34 L359.49,255.30 L359.62,253.90 L359.74,254.03 L359.87,256.10 L359.99,256.00 L360.12,255.12 L360.25,255.37 L360.37,255.10 L360.50,254.75 L360.62,254.22 L360.75,256.88 L360.87,256.99 L360.99,257.73 L361.11,258.24 L361.23,261.21 L361.34,262.12 L361.46,265.17 L361.58,266.68 L361.70,267.94 L361.83,266.40 L361.95,268.46 L362.08,269.62 L362.20,270.60 L362.33,270.87 L362.46,270.74 L362.58,269.46 L362.71,271.16 L362.83,271.96 L362.96,271.90 L363.09,271.65 L363.21,272.41 L363.34,272.89 L363.47,275.72 L363.60,277.36 L363.72,277.16 L363.85,276.27 L363.98,276.56 L364.10,275.93 L364.23,276.64 L364.35,277.81 L364.47,279.30 L364.59,280.49 L364.72,280.87 L364.84,282.31 L364.96,281.74 L365.08,282.27 L365.20,284.00 L365.32,285.02 L365.45,283.94 L365.57,283.02 L365.69,281.48 L365.81,284.55 L365.94,280.51 L366.06,278.38 L366.19,278.91 L366.32,278.42 L366.44,278.25 L366.57,275.63 L366.70,274.69 L366.83,276.86 L366.95,274.86 L367.08,273.48 L367.21,272.46 L367.33,271.85 L367.46,271.76 L367.58,273.04 L367.71,271.23 L367.84,268.71 L367.96,268.15 L368.09,267.84 L368.21,269.15 L368.34,269.53 L368.46,268.58 L368.58,269.24 L368.70,270.64 L368.81,270.92 L368.93,270.35 L369.05,271.16 L369.17,270.57 L369.29,267.94 L369.42,270.73 L369.54,269.99 L369.67,270.53 L369.79,271.10 L369.92,271.64 L370.05,272.25 L370.17,271.29 L370.30,272.99 L370.42,274.02 L370.55,275.06 L370.68,276.68 L370.80,278.34 L370.93,280.33 L371.06,283.00 L371.19,283.79 L371.31,281.88 L371.44,282.35 L371.57,282.54 L371.69,282.81 L371.82,282.17 L371.95,281.86 L372.07,283.83 L372.20,286.04 L372.32,285.42 L372.45,287.05 L372.58,287.71 L372.70,288.08 L372.83,289.90 L372.95,290.72 L373.08,290.87 L373.21,290.86 L373.33,288.08 L373.46,287.20 L373.59,286.52 L373.72,284.54 L373.84,284.69 L373.97,284.97 L374.10,284.06 L374.22,283.74 L374.35,284.55 L374.48,286.36 L374.60,285.71 L374.73,286.54 L374.85,288.31 L374.98,288.64 L375.11,287.97 L375.23,287.30 L375.36,287.24 L375.48,286.21 L375.61,289.29 L375.74,288.81 L375.86,289.61 L375.99,290.14 L376.12,291.29 L376.25,291.05 L376.37,289.58 L376.50,292.08 L376.63,292.25 L376.75,292.69 L376.88,293.24 L377.01,295.36 L377.13,296.81 L377.26,298.81 L377.38,300.33 L377.51,300.95 L377.64,301.71 L377.76,301.12 L377.89,298.92 L378.01,299.01 L378.14,297.98 L378.27,300.77 L378.39,302.16 L378.52,303.04 L378.65,301.59 L378.77,303.66 L378.90,300.66 L379.03,298.32 L379.16,296.56 L379.28,294.56 L379.41,294.03 L379.54,294.37 L379.66,297.03 L379.79,298.46 L379.91,300.19 L380.04,300.84 L380.17,300.72 L380.29,299.88 L380.42,297.92 L380.54,296.83 L380.67,296.40 L380.80,298.47 L380.92,297.24 L381.05,296.44 L381.18,297.78 L381.31,297.40 L381.43,298.90 L381.56,299.38 L381.69,299.41 L381.81,298.65 L381.94,299.57 L382.07,299.24 L382.19,299.06 L382.32,298.85 L382.44,299.75 L382.57,300.60 L382.70,298.94 L382.82,299.37 L382.95,300.55 L383.07,302.60 L383.20,304.31 L383.33,304.11 L383.45,302.08 L383.58,300.56 L383.71,301.31 L383.84,299.88 L383.96,300.78 L384.09,302.01 L384.22,300.10 L384.34,300.21 L384.47,299.57 L384.60,301.87 L384.72,302.57 L384.85,301.45 L384.97,301.57 L385.10,299.89 L385.23,299.25 L385.35,299.10 L385.48,298.87 L385.60,298.85 L385.73,297.19 L385.86,295.65 L385.98,296.13 L386.11,295.89 L386.24,295.91 L386.37,299.76 L386.49,302.30 L386.62,303.03 L386.75,302.06 L386.87,301.28 L387.00,302.73 L387.13,303.47 L387.25,302.38 L387.38,301.86 L387.50,301.50 L387.63,302.24 L387.76,299.00 L387.88,298.51 L388.01,298.36 L388.13,298.94 L388.26,298.77 L388.39,297.73 L388.51,297.39 L388.64,295.78 L388.77,296.49 L388.89,297.19 L389.02,298.33 L389.15,297.47 L389.28,296.37 L389.40,298.88 L389.53,299.57 L389.66,301.92 L389.78,302.51 L389.91,300.54 L390.03,301.62 L390.16,303.29 L390.29,302.68 L390.41,300.08 L390.54,300.97 L390.66,300.78 L390.79,301.15 L390.92,299.10 L391.04,301.30 L391.17,299.16 L391.30,299.57 L391.43,302.34 L391.55,301.46 L391.68,300.52 L391.81,301.49 L391.93,305.29 L392.06,309.05 L392.19,307.85 L392.31,308.82 L392.44,309.22 L392.56,309.19 L392.69,309.28 L392.82,307.92 L392.94,308.62 L393.07,309.67 L393.19,312.94 L393.32,313.79 L393.45,310.11 L393.57,308.12 L393.70,308.20 L393.82,307.92 L393.95,305.04 L394.08,304.48 L394.20,303.62 L394.33,303.19 L394.45,302.65 L394.58,303.52 L394.71,305.59 L394.83,306.61 L394.96,305.21 L395.09,304.14 L395.22,303.34 L395.34,303.36 L395.47,302.88 L395.60,302.50 L395.72,301.35 L395.85,302.73 L395.98,303.93 L396.10,305.28 L396.23,305.22 L396.35,305.89 L396.48,304.72 L396.61,303.41 L396.73,302.73 L396.86,303.57 L396.98,303.43 L397.11,301.94 L397.24,302.21 L397.36,302.93 L397.49,303.30 L397.62,302.55 L397.75,302.79 L397.87,302.37 L398.00,302.08 L398.13,302.11 L398.25,303.28 L398.38,305.89 L398.51,309.23 L398.63,311.32 L398.76,312.01 L398.88,312.83 L399.01,313.71 L399.14,316.50 L399.26,314.01 L399.39,315.60 L399.51,314.15 L399.64,315.38 L399.76,318.04 L399.88,317.67 L400.00,315.46 L400.12,318.08 L400.23,320.97 L400.35,322.51 L400.47,325.08 L400.59,324.86 L400.73,331.38 L400.87,338.62 L401.01,344.43 L401.15,349.75 L401.28,346.99 L401.40,344.02 L401.53,338.51 L401.65,335.85 L401.78,332.36 L401.90,331.21 L402.02,331.61 L402.14,331.49 L402.25,331.14 L402.37,329.09 L402.49,328.85 L402.61,325.99 L402.73,324.46 L402.85,322.96 L402.97,321.44 L403.09,322.83 L403.21,323.50 L403.32,324.40 L403.44,325.98 L403.56,327.24 L403.68,326.83 L403.80,327.82 L403.92,328.61 L404.03,328.80 L404.15,329.52 L404.27,329.92 L404.38,329.93 L404.50,330.36 L404.62,331.57 L404.75,334.58 L404.87,333.69 L405.00,334.62 L405.13,332.86 L405.25,335.23 L405.38,335.00 L405.51,335.41 L405.64,337.35 L405.76,338.90 L405.89,337.11 L406.02,337.62 L406.14,337.07 L406.27,337.67 L406.39,337.64 L406.52,338.39 L406.65,338.55 L406.77,338.12 L406.90,339.47 L407.02,337.14 L407.15,336.32 L407.28,335.57 L407.40,335.92 L407.53,335.88 L407.66,336.23 L407.78,336.11 L407.91,336.02 L408.04,334.34 L408.17,334.83 L408.29,335.79 L408.42,335.53 L408.55,334.45 L408.67,333.38 L408.80,335.45 L408.92,335.50 L409.05,335.83 L409.18,335.23 L409.30,334.35 L409.43,332.97 L409.55,334.85 L409.68,332.36 L409.80,331.85 L409.92,330.91 L410.04,329.65 L410.15,326.62 L410.27,324.04 L410.39,324.45 L410.51,322.61 L410.63,322.88 L410.76,323.20 L410.88,323.40 L411.01,323.85 L411.14,321.64 L411.26,320.42 L411.39,320.75 L411.52,318.47 L411.65,320.13 L411.77,318.80 L411.90,318.13 L412.03,317.66 L412.15,319.07 L412.28,318.99 L412.40,319.58 L412.53,318.96 L412.66,321.48 L412.78,320.19 L412.91,321.72 L413.03,322.95 L413.16,324.46 L413.28,323.68 L413.40,325.68 L413.52,327.59 L413.63,328.40 L413.75,329.43 L413.87,329.82 L413.99,331.29 L414.11,330.78 L414.24,331.74 L414.36,332.51 L414.49,330.82 L414.62,327.49 L414.75,327.55 L414.87,327.55 L415.00,329.40 L415.13,329.70 L415.25,329.24 L415.38,327.62 L415.50,326.36 L415.62,324.44 L415.73,321.82 L415.85,320.52 L415.97,320.81 L416.08,319.80 L416.20,317.24 L416.32,316.55 L416.44,314.40 L416.56,311.60 L416.68,311.60 L416.79,310.19 L416.91,311.03 L417.03,310.78 L417.15,309.02 L417.27,308.65 L417.39,310.59 L417.51,310.53 L417.63,309.29 L417.75,308.59 L417.86,307.68 L417.98,306.28 L418.10,304.73 L418.22,305.49 L418.35,306.63 L418.47,305.78 L418.60,306.49 L418.73,307.35 L418.86,309.27 L418.98,308.66 L419.11,307.83 L419.24,308.04 L419.36,307.81 L419.49,307.86 L419.62,309.61 L419.74,309.04 L419.87,309.33 L419.99,308.01 L420.12,307.80 L420.25,306.90 L420.37,305.88 L420.50,305.58 L420.62,304.98 L420.75,305.49 L420.88,307.12 L421.00,305.66 L421.13,307.56 L421.26,305.10 L421.38,305.98 L421.51,307.49 L421.64,307.16 L421.77,307.40 L421.89,306.89 L422.02,308.65 L422.15,304.33 L422.27,302.97 L422.40,300.32 L422.52,300.53 L422.65,302.24 L422.78,303.81 L422.90,304.67 L423.03,304.96 L423.15,303.89 L423.28,305.49 L423.41,306.68 L423.53,305.90 L423.66,304.52 L423.79,304.03 L423.91,305.84 L424.04,307.88 L424.17,310.42 L424.30,309.72 L424.42,309.59 L424.55,311.81 L424.68,311.81 L424.80,312.55 L424.93,310.48 L425.05,309.69 L425.18,309.37 L425.31,308.60 L425.43,307.75 L425.56,305.25 L425.68,307.16 L425.81,307.07 L425.94,304.74 L426.06,305.84 L426.19,305.57 L426.32,306.18 L426.44,305.57 L426.57,304.16 L426.70,302.78 L426.83,302.90 L426.95,303.60 L427.08,303.91 L427.21,304.76 L427.33,306.36 L427.46,306.73 L427.58,308.07 L427.71,309.55 L427.84,309.93 L427.96,309.82 L428.09,309.22 L428.21,307.59 L428.34,305.49 L428.46,305.56 L428.58,303.85 L428.70,301.41 L428.81,301.85 L428.93,301.46 L429.05,299.85 L429.17,299.52 L429.29,297.58 L429.42,297.10 L429.54,298.60 L429.67,299.07 L429.79,297.74 L429.92,297.73 L430.05,298.37 L430.17,297.26 L430.30,295.75 L430.42,297.34 L430.55,296.00 L430.68,290.81 L430.81,287.59 L430.94,287.28 L431.07,284.74 L431.19,285.21 L431.31,281.46 L431.43,279.90 L431.54,280.73 L431.66,279.39 L431.78,280.38 L431.90,280.24 L432.02,280.00 L432.15,280.21 L432.27,277.48 L432.40,274.80 L432.52,272.90 L432.65,271.15 L432.77,267.68 L432.89,268.17 L433.01,267.30 L433.12,265.91 L433.24,265.57 L433.36,263.86 L433.48,264.32 L433.60,263.24 L433.73,264.31 L433.85,263.22 L433.98,262.94 L434.10,263.54 L434.23,262.36 L434.36,261.56 L434.48,261.59 L434.61,263.18 L434.73,264.30 L434.86,265.61 L434.98,266.21 L435.10,267.61 L435.22,269.88 L435.34,270.29 L435.45,271.07 L435.57,272.04 L435.69,269.52 L435.81,269.57 L435.94,269.67 L436.06,270.23 L436.19,269.33 L436.32,270.18 L436.44,268.85 L436.57,268.15 L436.70,269.95 L436.83,267.66 L436.95,267.08 L437.08,266.40 L437.20,267.34 L437.31,267.67 L437.43,269.61 L437.55,269.21 L437.67,268.48 L437.78,270.17 L437.90,269.60 L438.02,271.15 L438.15,271.25 L438.27,270.39 L438.40,269.99 L438.53,269.92 L438.65,270.59 L438.78,269.80 L438.91,269.57 L439.04,267.69 L439.16,267.36 L439.29,264.82 L439.42,264.41 L439.54,263.45 L439.67,265.92 L439.79,267.30 L439.92,266.74 L440.05,267.66 L440.17,267.67 L440.30,265.76 L440.42,262.12 L440.55,263.24 L440.68,263.20 L440.80,260.00 L440.93,260.29 L441.06,260.95 L441.19,259.46 L441.31,259.95 L441.44,257.06 L441.57,256.18 L441.69,255.65 L441.82,256.13 L441.94,256.75 L442.06,257.13 L442.18,257.97 L442.29,257.16 L442.41,259.24 L442.53,258.86 L442.65,260.01 L442.77,260.08 L442.89,258.41 L443.01,257.87 L443.13,257.13 L443.25,257.60 L443.36,257.72 L443.48,255.61 L443.60,254.95 L443.72,253.75 L443.84,253.83 L443.96,253.51 L444.07,255.01 L444.19,255.44 L444.31,254.73 L444.43,255.76 L444.54,257.21 L444.66,258.50 L444.78,257.26 L444.90,256.87 L445.02,259.10 L445.13,258.45 L445.25,258.39 L445.37,261.89 L445.49,262.74 L445.61,262.45 L445.73,259.53 L445.85,259.64 L445.97,257.46 L446.09,257.12 L446.20,255.65 L446.32,253.08 L446.44,255.00 L446.56,254.55 L446.69,255.11 L446.81,255.43 L446.94,253.76 L447.07,253.20 L447.19,252.04 L447.32,252.66 L447.45,252.56 L447.58,251.39 L447.70,252.95 L447.83,252.96 L447.96,253.85 L448.08,253.05 L448.21,253.87 L448.33,252.15 L448.46,253.04 L448.59,252.04 L448.71,252.55 L448.84,252.44 L448.96,253.01 L449.09,253.75 L449.22,253.39 L449.34,253.04 L449.47,250.75 L449.60,247.91 L449.73,249.33 L449.85,249.83 L449.98,247.55 L450.11,249.85 L450.23,248.60 L450.36,249.01 L450.48,249.31 L450.60,249.18 L450.71,249.73 L450.83,247.60 L450.95,247.27 L451.06,246.65 L451.18,246.50 L451.30,245.85 L451.42,244.84 L451.54,243.70 L451.66,244.75 L451.77,243.46 L451.89,243.80 L452.01,244.12 L452.13,243.85 L452.25,244.27 L452.37,245.83 L452.49,245.95 L452.61,247.23 L452.73,250.63 L452.84,250.02 L452.96,250.44 L453.08,250.24 L453.20,253.75 L453.33,254.46 L453.46,257.06 L453.60,260.92 L453.73,262.35 L453.86,264.76 L453.99,266.40 L454.12,261.40 L454.25,258.12 L454.38,255.60 L454.52,251.87 L454.65,248.91 L454.78,246.64 L454.91,249.13 L455.03,248.35 L455.16,250.05 L455.29,250.09 L455.41,248.43 L455.54,248.26 L455.67,250.01 L455.80,251.30 L455.92,250.70 L456.05,253.75 L456.18,254.36 L456.30,254.33 L456.43,253.67 L456.55,254.30 L456.68,253.84 L456.81,255.44 L456.93,255.93 L457.06,256.82 L457.18,256.47 L457.31,254.55 L457.44,254.71 L457.56,252.81 L457.69,252.12 L457.82,251.55 L457.94,249.96 L458.07,250.61 L458.20,248.14 L458.33,249.60 L458.45,248.26 L458.58,249.01 L458.71,250.67 L458.83,249.43 L458.96,248.37 L459.08,249.55 L459.21,249.73 L459.34,249.76 L459.46,247.22 L459.59,244.94 L459.71,245.58 L459.84,247.43 L459.97,246.39 L460.09,245.13 L460.22,245.33 L460.35,245.86 L460.48,246.53 L460.60,245.84 L460.73,243.14 L460.86,245.01 L460.98,244.25 L461.11,245.85 L461.24,242.73 L461.36,242.79 L461.49,241.67 L461.61,239.77 L461.74,240.62 L461.87,241.91 L461.99,240.68 L462.12,241.10 L462.24,239.21 L462.37,237.94 L462.50,237.86 L462.62,237.65 L462.75,238.76 L462.88,237.40 L463.00,238.95 L463.13,240.50 L463.26,240.46 L463.39,239.12 L463.51,236.19 L463.64,236.36 L463.77,235.61 L463.89,235.95 L464.02,234.74 L464.14,234.95 L464.27,235.08 L464.40,235.30 L464.52,235.89 L464.65,236.49 L464.77,237.99 L464.90,237.15 L465.02,238.59 L465.14,239.27 L465.26,239.19 L465.38,238.33 L465.49,240.75 L465.61,241.54 L465.73,241.33 L465.85,241.90 L465.97,242.92 L466.09,243.23 L466.21,242.40 L466.33,243.62 L466.44,244.41 L466.56,245.05 L466.68,247.38 L466.80,246.64 L466.92,244.46 L467.04,243.77 L467.16,243.98 L467.27,243.89 L467.39,243.96 L467.51,240.12 L467.63,239.88 L467.75,239.53 L467.88,239.53 L468.00,237.70 L468.13,237.47 L468.25,237.90 L468.38,239.14 L468.51,238.56 L468.63,235.88 L468.76,235.05 L468.88,235.00 L469.01,234.78 L469.13,237.07 L469.25,236.53 L469.37,234.91 L469.49,233.80 L469.60,234.41 L469.72,233.07 L469.84,231.42 L469.96,230.04 L470.09,232.03 L470.21,232.73 L470.34,232.67 L470.47,234.18 L470.60,235.48 L470.72,234.56 L470.85,236.06 L470.98,236.76 L471.10,234.40 L471.23,233.20 L471.36,233.71 L471.48,234.51 L471.61,234.29 L471.73,233.12 L471.86,233.61 L471.99,231.33 L472.11,232.24 L472.24,232.20 L472.36,232.33 L472.49,231.62 L472.62,232.85 L472.74,229.86 L472.87,228.83 L472.99,229.72 L473.12,228.91 L473.25,230.99 L473.37,231.68 L473.50,230.79 L473.62,232.40 L473.75,232.41 L473.88,232.77 L474.00,231.53 L474.13,230.31 L474.26,230.85 L474.38,230.57 L474.51,229.15 L474.64,227.57 L474.77,228.04 L474.89,229.98 L475.02,228.46 L475.14,230.13 L475.26,227.02 L475.38,225.95 L475.50,227.62 L475.61,230.51 L475.73,231.37 L475.85,232.87 L475.97,233.99 L476.09,236.42 L476.21,236.06 L476.33,238.00 L476.45,238.51 L476.56,239.15 L476.68,240.23 L476.80,241.04 L476.92,241.11 L477.05,240.44 L477.17,238.85 L477.30,240.49 L477.42,241.10 L477.55,240.21 L477.68,242.01 L477.80,243.39 L477.93,243.71 L478.05,242.67 L478.18,242.69 L478.31,242.43 L478.43,243.26 L478.56,242.00 L478.69,240.22 L478.81,242.25 L478.94,243.08 L479.07,242.47 L479.20,240.22 L479.32,239.85 L479.45,240.32 L479.57,240.64 L479.69,241.05 L479.81,240.42 L479.92,241.25 L480.04,239.75 L480.16,238.48 L480.28,237.12 L480.40,235.57 L480.52,239.02 L480.63,237.61 L480.75,238.77 L480.87,238.30 L480.99,237.49 L481.10,238.47 L481.22,237.22 L481.34,237.94 L481.46,239.09 L481.58,237.03 L481.70,235.72 L481.81,232.67 L481.93,231.39 L482.05,227.48 L482.17,225.81 L482.29,223.72 L482.42,225.06 L482.54,223.37 L482.67,221.32 L482.79,218.99 L482.92,215.81 L483.04,217.56 L483.16,220.22 L483.28,220.44 L483.39,222.11 L483.51,222.35 L483.63,223.60 L483.75,224.93 L483.87,223.72 L483.99,224.71 L484.11,227.99 L484.23,227.46 L484.35,229.50 L484.46,231.06 L484.58,231.84 L484.70,233.92 L484.82,236.36 L484.94,236.60 L485.06,232.57 L485.18,234.34 L485.29,233.21 L485.41,234.12 L485.53,233.47 L485.65,232.20 L485.77,231.62 L485.89,235.14 L486.01,236.50 L486.13,235.28 L486.25,234.84 L486.36,235.60 L486.48,235.63 L486.60,234.99 L486.72,233.99 L486.84,232.30 L486.96,233.08 L487.08,234.33 L487.20,237.10 L487.31,236.13 L487.43,236.77 L487.55,236.48 L487.67,237.94 L487.80,237.70 L487.92,236.71 L488.05,234.32 L488.17,235.18 L488.30,235.28 L488.43,236.69 L488.55,235.84 L488.68,239.22 L488.80,238.16 L488.93,238.74 L489.06,238.74 L489.18,239.67 L489.31,238.89 L489.44,237.10 L489.56,235.21 L489.69,235.75 L489.82,235.33 L489.95,235.23 L490.07,233.57 L490.20,233.20 L490.32,233.09 L490.44,233.52 L490.56,231.15 L490.67,229.71 L490.79,231.64 L490.91,230.71 L491.03,230.19 L491.15,229.25 L491.28,228.00 L491.40,227.31 L491.53,228.58 L491.65,228.44 L491.78,231.94 L491.91,230.68 L492.03,228.83 L492.16,229.07 L492.28,228.20 L492.41,230.83 L492.53,231.02 L492.65,232.48 L492.77,231.33 L492.88,232.98 L493.00,234.60 L493.12,237.03 L493.24,238.08 L493.36,239.53 L493.48,240.57 L493.60,242.64 L493.72,242.90 L493.84,244.45 L493.95,244.49 L494.07,246.26 L494.19,246.70 L494.31,246.64 L494.44,245.91 L494.56,248.08 L494.69,246.16 L494.81,244.35 L494.94,245.39 L495.07,244.24 L495.19,243.79 L495.32,243.31 L495.44,246.57 L495.57,245.85 L495.70,244.78 L495.82,244.16 L495.95,244.37 L496.08,244.96 L496.20,242.88 L496.33,243.38 L496.46,245.93 L496.59,243.43 L496.71,244.11 L496.84,245.06 L496.96,246.83 L497.08,248.14 L497.20,246.52 L497.31,249.71 L497.43,250.83 L497.55,252.12 L497.67,255.34 L497.79,253.75 L497.91,253.54 L498.03,254.23 L498.15,255.08 L498.26,255.78 L498.38,258.42 L498.50,258.69 L498.62,259.94 L498.74,260.87 L498.86,258.76 L498.98,257.62 L499.09,260.33 L499.21,259.86 L499.33,259.66 L499.44,257.78 L499.56,257.22 L499.68,255.34 L499.80,253.62 L499.92,253.46 L500.04,251.44 L500.15,249.71 L500.27,250.62 L500.39,250.35 L500.51,250.15 L500.63,250.59 L500.76,250.13 L500.88,249.90 L501.01,247.41 L501.14,248.69 L501.26,248.69 L501.39,248.98 L501.52,247.80 L501.65,248.92 L501.77,250.06 L501.90,250.59 L502.03,249.10 L502.15,248.61 L502.28,249.22 L502.40,248.75 L502.53,249.92 L502.66,251.93 L502.78,251.57 L502.91,251.97 L503.03,251.70 L503.16,253.75 L503.28,255.43 L503.40,259.49 L503.52,259.97 L503.63,259.18 L503.75,260.21 L503.87,260.36 L503.99,261.09 L504.11,263.24 L504.23,263.81 L504.35,265.74 L504.47,263.84 L504.59,266.22 L504.70,267.36 L504.82,268.00 L504.94,268.28 L505.06,271.15 L505.18,270.32 L505.30,271.89 L505.42,271.07 L505.53,270.99 L505.65,271.33 L505.77,273.93 L505.89,274.13 L506.01,274.31 L506.13,274.21 L506.25,273.80 L506.37,272.98 L506.49,275.42 L506.60,277.40 L506.72,276.47 L506.84,276.69 L506.96,275.10 L507.08,274.20 L507.20,272.97 L507.32,270.95 L507.44,267.70 L507.55,266.57 L507.67,265.23 L507.79,262.83 L507.91,261.66 L508.03,258.65 L508.15,256.65 L508.26,254.17 L508.38,253.14 L508.50,254.19 L508.62,253.07 L508.73,253.41 L508.85,252.17 L508.97,252.36 L509.09,254.47 L509.21,255.94 L509.33,258.59 L509.44,260.64 L509.56,260.28 L509.68,257.58 L509.80,258.50 L509.92,258.00 L510.04,257.18 L510.16,256.26 L510.27,256.48 L510.39,257.29 L510.51,258.38 L510.63,262.22 L510.75,261.66 L510.87,262.62 L510.99,261.91 L511.11,261.54 L511.23,262.60 L511.34,264.14 L511.46,263.38 L511.58,265.89 L511.70,265.61 L511.82,266.62 L511.94,266.27 L512.06,267.21 L512.17,267.69 L512.29,267.02 L512.41,267.38 L512.53,265.28 L512.65,263.24 L512.77,260.93 L512.89,260.94 L513.01,258.10 L513.12,255.46 L513.24,255.87 L513.36,254.10 L513.48,252.26 L513.60,249.01 L513.72,248.32 L513.84,248.34 L513.96,247.49 L514.08,247.74 L514.19,247.41 L514.31,248.05 L514.43,248.39 L514.55,247.43 L514.67,249.52 L514.78,252.88 L514.90,254.21 L515.02,253.48 L515.14,254.66 L515.25,255.31 L515.37,259.72 L515.49,261.66 L515.61,261.24 L515.73,262.05 L515.85,265.09 L515.97,264.59 L516.08,265.00 L516.20,266.06 L516.32,266.93 L516.44,267.19 L516.56,266.27 L516.68,263.26 L516.80,261.38 L516.91,259.46 L517.03,257.95 L517.15,256.44 L517.27,255.33 L517.39,253.75 L517.51,254.34 L517.63,255.98 L517.75,258.35 L517.87,260.80 L517.98,260.39 L518.10,261.87 L518.22,264.03 L518.34,264.82 L518.46,264.10 L518.58,262.46 L518.70,261.62 L518.82,258.21 L518.93,257.48 L519.05,255.48 L519.17,253.14 L519.29,251.38 L519.41,254.08 L519.53,256.73 L519.65,258.43 L519.76,260.97 L519.88,261.79 L520.00,261.48 L520.12,260.33 L520.24,261.66 L520.36,261.69 L520.48,261.97 L520.60,262.29 L520.72,264.16 L520.83,263.14 L520.95,262.32 L521.07,265.14 L521.19,266.40 L521.31,267.21 L521.43,265.68 L521.54,265.75 L521.66,266.48 L521.78,267.59 L521.89,269.06 L522.01,269.97 L522.13,272.73 L522.25,270.46 L522.37,269.40 L522.49,267.81 L522.61,268.18 L522.72,267.74 L522.84,268.13 L522.96,267.55 L523.08,271.94 L523.20,274.73 L523.32,275.54 L523.44,277.35 L523.56,278.64 L523.67,281.48 L523.79,284.61 L523.91,286.96 L524.03,288.54 L524.16,289.12 L524.28,292.76 L524.41,295.75 L524.53,293.28 L524.66,294.86 L524.79,294.81 L524.92,295.40 L525.04,298.77 L525.17,298.33 L525.30,298.02 L525.43,301.19 L525.55,300.41 L525.68,299.96 L525.80,301.37 L525.93,300.55 L526.06,299.85 L526.19,299.43 L526.33,300.58 L526.46,297.65 L526.59,295.78 L526.72,294.86 L526.85,293.21 L526.98,289.46 L527.12,287.20 L527.25,283.62 L527.38,280.21 L527.51,279.05 L527.63,277.74 L527.75,280.75 L527.87,280.25 L527.99,280.78 L528.10,280.80 L528.22,277.71 L528.34,274.64 L528.46,274.31 L528.59,271.38 L528.71,269.21 L528.84,267.33 L528.96,264.66 L529.09,264.82 L529.22,264.52 L529.34,263.41 L529.47,262.82 L529.59,260.25 L529.72,260.08 L529.84,259.96 L529.96,263.09 L530.08,263.21 L530.19,263.49 L530.31,266.09 L530.43,267.99 L530.55,267.73 L530.67,269.57 L530.79,269.46 L530.91,269.37 L531.03,270.10 L531.14,270.83 L531.26,272.09 L531.38,272.64 L531.50,272.97 L531.62,272.73 L531.74,271.86 L531.86,267.92 L531.98,267.61 L532.10,267.66 L532.21,267.70 L532.33,264.62 L532.45,264.58 L532.57,263.24 L532.69,263.49 L532.81,266.75 L532.93,265.82 L533.05,265.41 L533.16,262.52 L533.28,258.33 L533.40,257.53 L533.52,256.92 L533.64,258.62 L533.76,259.78 L533.88,257.84 L534.00,259.09 L534.11,261.36 L534.23,264.23 L534.35,263.70 L534.47,263.24 L534.59,262.60 L534.71,262.04 L534.83,260.15 L534.94,259.52 L535.06,261.95 L535.18,260.82 L535.30,258.58 L535.42,258.50 L535.54,257.77 L535.65,258.65 L535.77,257.60 L535.89,257.31 L536.01,256.13 L536.12,254.77 L536.24,255.22 L536.36,255.34 L536.48,256.06 L536.60,257.56 L536.72,257.24 L536.84,258.06 L536.95,259.13 L537.07,261.53 L537.19,259.76 L537.31,260.08 L537.43,260.68 L537.55,259.89 L537.67,260.00 L537.78,260.92 L537.90,261.56 L538.02,259.22 L538.14,257.58 L538.26,253.75 L538.38,253.89 L538.50,253.44 L538.62,254.52 L538.74,253.85 L538.85,251.57 L538.97,252.28 L539.09,249.75 L539.21,249.01 L539.34,245.16 L539.46,242.65 L539.59,240.32 L539.71,236.18 L539.84,231.62 L539.96,230.21 L540.08,228.09 L540.20,228.04 L540.32,227.21 L540.43,227.77 L540.55,229.96 L540.67,227.45 L540.79,225.30 L540.91,226.01 L541.03,226.62 L541.15,226.21 L541.26,223.95 L541.38,227.46 L541.50,227.64 L541.62,226.11 L541.74,222.92 L541.86,225.65 L541.98,226.92 L542.10,227.75 L542.22,227.17 L542.33,227.85 L542.45,228.15 L542.57,225.58 L542.69,230.04 L542.81,231.28 L542.93,231.45 L543.05,230.77 L543.16,230.59 L543.28,234.52 L543.40,235.69 L543.52,234.51 L543.64,236.36 L543.76,237.62 L543.88,238.92 L543.99,239.33 L544.11,239.68 L544.23,240.56 L544.35,240.86 L544.46,239.52 L544.58,238.74 L544.70,238.16 L544.82,235.39 L544.94,234.61 L545.06,233.59 L545.17,233.99 L545.29,233.62 L545.41,232.62 L545.53,231.62 L545.65,233.72 L545.77,236.51 L545.89,236.56 L546.00,235.99 L546.12,236.48 L546.24,234.85 L546.36,235.29 L546.48,237.94 L546.60,239.98 L546.72,242.78 L546.84,243.58 L546.95,244.49 L547.07,244.39 L547.19,244.39 L547.31,245.48 L547.43,247.43 L547.55,248.99 L547.67,247.21 L547.79,248.86 L547.90,249.84 L548.02,250.01 L548.14,251.18 L548.26,253.38 L548.38,254.55 L548.50,252.63 L548.62,256.27 L548.74,254.48 L548.86,254.18 L548.97,254.97 L549.09,252.86 L549.21,252.68 L549.33,250.59 L549.46,250.63 L549.58,249.99 L549.71,252.78 L549.83,251.30 L549.96,252.40 L550.09,252.85 L550.21,250.54 L550.34,253.30 L550.46,252.92 L550.59,252.96 L550.71,252.52 L550.83,250.54 L550.95,248.74 L551.07,247.95 L551.18,246.01 L551.30,245.41 L551.42,246.39 L551.54,244.27 L551.66,242.05 L551.78,241.80 L551.90,242.28 L552.01,243.12 L552.13,241.56 L552.25,238.29 L552.37,239.42 L552.49,240.32 L552.62,242.30 L552.74,240.91 L552.87,241.60 L552.99,242.90 L553.12,240.32 L553.25,241.68 L553.37,243.55 L553.50,244.26 L553.62,244.92 L553.75,245.85 L553.87,245.24 L553.99,243.03 L554.11,241.52 L554.23,241.02 L554.34,239.61 L554.46,240.75 L554.58,239.94 L554.70,239.53 L554.82,238.78 L554.94,240.96 L555.06,241.66 L555.17,245.35 L555.29,244.67 L555.41,246.75 L555.53,247.85 L555.65,249.01 L555.77,250.21 L555.89,250.40 L556.01,248.14 L556.12,248.92 L556.24,246.93 L556.36,246.90 L556.48,243.44 L556.60,241.90 L556.73,242.42 L556.85,242.89 L556.98,241.65 L557.11,240.00 L557.24,240.90 L557.36,242.63 L557.49,243.60 L557.62,244.05 L557.74,242.93 L557.87,243.48 L558.00,243.00 L558.12,242.30 L558.25,242.81 L558.37,243.31 L558.50,244.13 L558.63,244.06 L558.75,243.20 L558.88,243.21 L559.00,243.06 L559.13,241.11 L559.26,240.73 L559.38,238.57 L559.51,235.98 L559.64,234.96 L559.76,234.17 L559.89,235.20 L560.02,234.86 L560.15,235.66 L560.27,237.69 L560.40,237.94 L560.53,238.50 L560.65,237.61 L560.78,238.76 L560.90,238.88 L561.03,239.02 L561.16,237.54 L561.28,236.32 L561.41,235.45 L561.53,235.63 L561.66,237.15 L561.79,235.95 L561.91,236.30 L562.04,236.73 L562.16,240.65 L562.29,241.22 L562.42,241.34 L562.54,243.19 L562.67,242.54 L562.79,244.11 L562.92,242.69 L563.05,245.05 L563.17,244.62 L563.30,243.68 L563.43,241.53 L563.56,240.96 L563.68,240.70 L563.81,239.34 L563.94,240.59 L564.06,239.77 L564.19,239.53 L564.32,239.34 L564.44,240.60 L564.57,239.51 L564.69,239.04 L564.82,238.86 L564.95,239.12 L565.07,236.07 L565.20,237.06 L565.32,236.32 L565.45,234.78 L565.58,234.43 L565.70,231.53 L565.83,230.19 L565.96,230.14 L566.09,231.68 L566.21,231.27 L566.34,231.50 L566.47,230.80 L566.59,231.67 L566.72,230.83 L566.85,231.65 L566.97,231.39 L567.10,230.28 L567.22,229.13 L567.35,228.46 L567.48,230.22 L567.60,234.73 L567.73,234.66 L567.85,233.86 L567.98,234.78 L568.11,234.76 L568.23,233.36 L568.36,235.27 L568.49,235.78 L568.62,236.38 L568.74,235.79 L568.87,235.29 L569.00,235.93 L569.12,233.38 L569.25,231.62 L569.38,232.28 L569.50,230.85 L569.62,233.61 L569.75,233.32 L569.88,233.29 L570.00,234.27 L570.13,235.82 L570.25,235.27 L570.38,233.74 L570.50,231.98 L570.63,231.81 L570.76,230.53 L570.88,233.25 L571.01,234.46 L571.13,229.69 L571.26,227.94 L571.39,227.96 L571.51,230.63 L571.64,227.45 L571.77,226.40 L571.89,227.57 L572.02,226.18 L572.15,225.82 L572.28,224.69 L572.40,225.14 L572.53,223.20 L572.66,222.95 L572.78,220.70 L572.91,221.74 L573.03,222.28 L573.16,221.94 L573.29,221.71 L573.41,221.47 L573.54,220.69 L573.66,220.62 L573.79,220.83 L573.92,221.01 L574.04,220.48 L574.17,220.20 L574.30,219.85 L574.42,220.74 L574.55,221.22 L574.68,224.16 L574.81,224.19 L574.93,224.57 L575.06,223.99 L575.19,224.45 L575.31,224.17 L575.44,223.33 L575.56,223.87 L575.69,226.34 L575.82,225.49 L575.94,224.93 L576.07,225.20 L576.19,225.86 L576.32,227.94 L576.45,228.37 L576.57,229.49 L576.70,229.73 L576.83,229.85 L576.96,230.51 L577.08,230.30 L577.21,232.20 L577.34,234.92 L577.46,235.51 L577.59,235.85 L577.71,238.83 L577.83,239.74 L577.95,242.94 L578.07,240.22 L578.18,241.19 L578.30,241.01 L578.42,241.47 L578.54,243.75 L578.66,243.62 L578.78,241.80 L578.90,241.48 L579.01,238.38 L579.13,237.16 L579.25,235.36 L579.37,231.48 L579.49,231.11 L579.61,231.01 L579.73,232.39 L579.84,232.17 L579.96,233.21 L580.08,234.84 L580.19,235.64 L580.31,235.81 L580.43,237.43 L580.55,238.04 L580.67,237.81 L580.79,238.20 L580.90,238.42 L581.02,238.29 L581.14,239.84 L581.26,242.52 L581.38,242.17 L581.51,242.60 L581.63,241.93 L581.76,240.72 L581.89,242.84 L582.01,242.53 L582.14,243.58 L582.27,242.35 L582.40,242.08 L582.52,243.32 L582.65,244.55 L582.78,244.65 L582.90,244.99 L583.03,245.07 L583.15,246.21 L583.28,248.28 L583.41,248.83 L583.53,248.46 L583.66,246.86 L583.78,245.99 L583.91,245.34 L584.03,247.25 L584.15,245.13 L584.27,244.02 L584.38,242.60 L584.50,243.73 L584.62,242.76 L584.74,240.24 L584.86,237.43 L584.98,237.42 L585.10,234.79 L585.22,235.84 L585.34,236.84 L585.45,234.87 L585.57,233.98 L585.69,233.57 L585.81,231.11 L585.93,230.46 L586.05,230.62 L586.17,231.58 L586.28,232.97 L586.40,231.44 L586.52,232.77 L586.64,233.62 L586.76,234.27 L586.88,233.42 L587.00,234.58 L587.12,236.45 L587.24,235.61 L587.35,235.14 L587.47,232.77 L587.59,231.99 L587.71,232.69 L587.84,232.60 L587.96,233.13 L588.09,233.04 L588.21,233.23 L588.34,234.18 L588.47,235.28 L588.59,232.72 L588.72,232.49 L588.84,228.64 L588.97,228.74 L589.09,228.21 L589.21,227.62 L589.33,229.94 L589.44,230.64 L589.56,232.39 L589.68,233.46 L589.80,235.95 L589.92,235.85 L590.04,235.11 L590.16,234.59 L590.28,237.50 L590.39,236.52 L590.51,236.17 L590.63,237.63 L590.75,238.49 L590.87,237.43 L590.99,240.52 L591.11,241.90 L591.23,244.58 L591.35,246.13 L591.46,247.91 L591.58,247.65 L591.70,250.29 L591.82,250.08 L591.94,248.37 L592.06,248.03 L592.18,245.76 L592.30,244.10 L592.41,242.30 L592.53,240.70 L592.65,239.69 L592.77,235.85 L592.89,235.97 L593.01,239.59 L593.13,237.79 L593.25,237.76 L593.36,239.67 L593.48,238.02 L593.60,237.68 L593.72,237.43 L593.84,237.97 L593.96,235.22 L594.07,234.49 L594.19,232.06 L594.31,230.50 L594.42,227.39 L594.54,223.83 L594.66,221.62 L594.78,219.55 L594.90,219.11 L595.02,219.06 L595.13,219.40 L595.25,221.25 L595.37,222.96 L595.49,221.26 L595.61,220.04 L595.73,222.11 L595.85,221.82 L595.97,221.08 L596.09,222.31 L596.20,221.25 L596.32,222.29 L596.44,221.67 L596.56,223.20 L596.68,223.96 L596.80,226.02 L596.92,228.41 L597.03,231.54 L597.15,231.42 L597.27,231.86 L597.39,230.90 L597.51,229.53 L597.64,230.42 L597.76,232.20 L597.89,235.45 L598.01,236.45 L598.14,240.59 L598.26,238.49 L598.38,237.34 L598.50,234.65 L598.62,230.61 L598.73,230.41 L598.85,227.67 L598.97,226.83 L599.09,223.99 L599.21,224.78 L599.33,224.57 L599.45,224.10 L599.57,223.90 L599.68,224.82 L599.80,223.19 L599.92,221.87 L600.04,223.20 L600.16,222.79 L600.28,223.63 L600.40,222.39 L600.51,222.69 L600.63,224.75 L600.75,225.45 L600.87,226.31 L600.99,226.36 L601.11,227.72 L601.23,226.54 L601.35,225.56 L601.47,227.33 L601.58,226.17 L601.70,229.15 L601.82,231.52 L601.94,231.11 L602.06,229.57 L602.18,227.71 L602.30,229.53 L602.41,230.81 L602.53,234.03 L602.65,236.07 L602.77,239.58 L602.89,242.17 L603.02,244.50 L603.14,247.85 L603.27,250.32 L603.39,253.49 L603.52,256.40 L603.64,257.69 L603.76,261.13 L603.88,261.99 L604.00,261.98 L604.11,262.74 L604.23,263.70 L604.35,264.51 L604.47,265.89 L604.59,264.41 L604.71,265.01 L604.83,265.35 L604.94,263.42 L605.06,263.86 L605.18,264.85 L605.30,263.97 L605.42,261.94 L605.54,263.16 L605.65,263.70 L605.77,264.79 L605.89,264.00 L606.01,267.47 L606.12,267.85 L606.24,269.21 L606.36,269.05 L606.48,271.28 L606.60,270.21 L606.72,270.48 L606.84,269.16 L606.95,272.53 L607.07,272.68 L607.19,272.61 L607.31,276.17 L607.43,274.21 L607.55,272.68 L607.67,272.84 L607.78,272.21 L607.90,271.34 L608.02,270.93 L608.14,267.01 L608.26,267.47 L608.38,268.44 L608.50,270.10 L608.62,266.45 L608.74,264.47 L608.85,262.89 L608.97,264.37 L609.09,264.31 L609.21,265.89 L609.33,267.30 L609.45,267.24 L609.57,266.29 L609.68,266.32 L609.80,269.02 L609.92,268.67 L610.04,267.07 L610.16,268.26 L610.28,268.02 L610.40,269.21 L610.52,268.81 L610.63,268.03 L610.75,263.52 L610.87,260.92 L610.99,258.31 L611.11,256.40 L611.23,255.75 L611.35,257.42 L611.47,259.72 L611.59,260.47 L611.70,260.67 L611.82,261.53 L611.94,262.64 L612.06,264.31 L612.18,262.76 L612.29,264.33 L612.41,263.99 L612.53,263.37 L612.65,263.92 L612.76,262.58 L612.88,263.38 L613.00,265.89 L613.12,265.62 L613.24,265.04 L613.36,263.54 L613.48,264.70 L613.59,265.37 L613.71,262.47 L613.83,262.92 L613.95,261.15 L614.07,260.11 L614.19,260.56 L614.31,260.21 L614.42,262.32 L614.54,261.16 L614.66,259.96 L614.78,259.22 L614.90,259.57 L615.02,258.97 L615.14,256.11 L615.26,253.73 L615.38,250.21 L615.49,248.54 L615.61,245.76 L615.73,247.30 L615.85,248.50 L615.97,246.46 L616.09,245.87 L616.21,245.66 L616.33,244.15 L616.44,242.84 L616.56,242.92 L616.68,241.78 L616.80,240.59 L616.92,240.67 L617.04,242.47 L617.16,242.24 L617.27,242.89 L617.39,243.34 L617.51,244.43 L617.63,244.29 L617.75,243.75 L617.87,241.77 L617.99,241.03 L618.11,240.17 L618.23,238.77 L618.34,238.02 L618.46,240.16 L618.58,240.17 L618.70,236.64 L618.83,237.72 L618.95,237.24 L619.08,235.19 L619.20,236.33 L619.33,235.55 L619.46,236.25 L619.58,234.75 L619.71,235.50 L619.83,234.44 L619.96,235.06 L620.08,236.69 L620.20,235.67 L620.32,236.69 L620.43,237.86 L620.55,238.30 L620.67,236.43 L620.79,237.33 L620.91,237.43 L621.03,239.39 L621.15,238.31 L621.27,239.98 L621.38,240.51 L621.50,244.30 L621.62,243.28 L621.74,244.92 L621.86,244.55 L621.98,242.60 L622.10,243.38 L622.22,243.52 L622.34,244.26 L622.45,241.41 L622.57,239.12 L622.69,239.25 L622.81,237.43 L622.93,239.40 L623.04,241.84 L623.16,241.86 L623.28,242.10 L623.40,242.33 L623.51,242.14 L623.63,242.29 L623.75,242.17 L623.87,242.95 L623.99,242.69 L624.11,242.19 L624.23,241.98 L624.34,241.35 L624.46,241.44 L624.58,242.37 L624.70,245.34 L624.82,244.87 L624.94,244.73 L625.06,246.36 L625.17,248.13 L625.29,249.79 L625.41,254.05 L625.53,253.30 L625.65,254.82 L625.77,251.78 L625.89,250.04 L626.01,249.41 L626.12,246.13 L626.24,246.19 L626.36,243.72 L626.48,240.98 L626.60,237.43 L626.72,236.19 L626.84,234.90 L626.96,235.72 L627.08,233.32 L627.19,233.32 L627.31,234.16 L627.43,233.53 L627.55,234.27 L627.67,232.40 L627.79,232.03 L627.91,230.64 L628.02,232.63 L628.14,231.31 L628.26,229.97 L628.38,229.59 L628.50,227.94 L628.62,227.47 L628.74,227.71 L628.86,228.69 L628.98,227.67 L629.09,227.55 L629.21,227.11 L629.33,227.84 L629.45,228.74 L629.57,229.58 L629.69,230.23 L629.81,232.94 L629.92,232.06 L630.04,234.56 L630.16,235.58 L630.28,233.80 L630.40,234.27 L630.52,233.00 L630.63,233.48 L630.75,231.38 L630.87,233.01 L630.99,232.59 L631.11,235.47 L631.22,235.13 L631.34,235.85 L631.46,232.51 L631.58,230.83 L631.70,229.39 L631.82,228.57 L631.93,230.40 L632.05,231.12 L632.17,230.68 L632.29,228.74 L632.41,229.07 L632.53,229.37 L632.65,228.93 L632.76,230.56 L632.88,231.21 L633.00,232.64 L633.12,233.04 L633.24,234.27 L633.36,236.61 L633.48,237.06 L633.60,238.28 L633.72,237.11 L633.83,236.90 L633.95,236.37 L634.07,237.04 L634.19,237.43 L634.32,238.74 L634.44,241.43 L634.57,243.82 L634.69,243.94 L634.82,246.13 L634.94,246.39 L635.06,243.85 L635.18,243.99 L635.30,243.60 L635.41,242.50 L635.53,241.78 L635.65,239.37 L635.77,239.01 L635.89,236.70 L636.01,234.79 L636.13,235.13 L636.25,233.25 L636.36,235.58 L636.48,235.65 L636.60,236.50 L636.72,237.43 L636.84,236.77 L636.96,236.69 L637.08,237.21 L637.19,237.10 L637.31,239.11 L637.43,240.39 L637.55,240.57 L637.67,242.17 L637.79,241.06 L637.91,240.90 L638.03,239.91 L638.14,238.35 L638.26,235.87 L638.38,233.69 L638.50,232.54 L638.62,231.90 L638.74,230.33 L638.86,231.08 L638.98,233.16 L639.10,234.24 L639.21,234.04 L639.33,233.96 L639.45,237.51 L639.57,236.64 L639.69,236.49 L639.81,237.90 L639.92,235.49 L640.04,236.69 L640.16,234.88 L640.27,236.53 L640.39,240.41 L640.51,239.01 L640.63,239.83 L640.75,241.23 L640.87,241.37 L640.99,243.02 L641.10,242.96 L641.22,243.11 L641.34,242.91 L641.46,243.75 L641.58,244.68 L641.70,246.29 L641.82,246.43 L641.93,245.28 L642.05,244.91 L642.17,244.51 L642.29,244.27 L642.41,245.34 L642.53,244.57 L642.65,244.11 L642.77,243.59 L642.88,242.88 L643.00,241.66 L643.12,242.05 L643.24,241.34 L643.36,240.59 L643.48,239.57 L643.60,239.12 L643.72,238.80 L643.84,240.05 L643.95,238.17 L644.07,239.64 L644.19,240.28 L644.31,239.80 L644.43,239.99 L644.55,242.02 L644.67,243.65 L644.78,242.32 L644.90,242.73 L645.02,242.83 L645.14,244.07 L645.26,244.55 L645.38,245.06 L645.50,244.24 L645.62,243.76 L645.74,245.32 L645.85,244.88 L645.97,244.10 L646.09,244.04 L646.21,242.17 L646.33,241.21 L646.45,242.37 L646.56,242.76 L646.68,242.02 L646.80,244.46 L646.91,246.56 L647.03,248.04 L647.15,248.50 L647.27,248.11 L647.39,247.20 L647.51,248.24 L647.62,246.17 L647.74,246.40 L647.86,246.30 L647.98,244.64 L648.10,245.34 L648.22,244.48 L648.34,246.61 L648.46,247.79 L648.58,247.32 L648.69,246.41 L648.81,245.09 L648.93,243.72 L649.05,243.75 L649.17,240.55 L649.29,240.59 L649.41,240.27 L649.52,238.82 L649.64,238.57 L649.76,240.40 L649.88,239.54 L650.00,240.59 L650.13,240.34 L650.25,239.66 L650.38,241.16 L650.50,238.71 L650.63,240.15 L650.76,240.30 L650.88,239.79 L651.01,240.05 L651.13,240.34 L651.26,242.17 L651.39,243.58 L651.51,244.13 L651.64,244.11 L651.77,243.11 L651.89,243.65 L652.02,240.45 L652.15,242.03 L652.28,242.31 L652.40,240.34 L652.53,241.38 L652.66,241.35 L652.78,241.90 L652.91,240.66 L653.03,240.83 L653.16,242.22 L653.29,243.28 L653.41,244.84 L653.54,245.03 L653.66,246.96 L653.79,246.13 L653.92,245.75 L654.04,242.56 L654.17,242.53 L654.30,242.18 L654.42,242.30 L654.55,243.45 L654.68,245.60 L654.81,244.39 L654.93,244.44 L655.06,242.17 L655.19,243.44 L655.31,244.00 L655.44,243.44 L655.56,243.88 L655.69,243.85 L655.82,241.80 L655.94,241.58 L656.07,241.98 L656.19,241.89 L656.32,240.59 L656.45,239.54 L656.57,242.21 L656.70,242.04 L656.83,242.25 L656.96,239.83 L657.08,240.22 L657.21,240.03 L657.34,238.33 L657.46,239.54 L657.59,239.01 L657.72,240.06 L657.84,240.85 L657.97,240.08 L658.09,240.64 L658.22,242.69 L658.35,241.36 L658.47,240.14 L658.60,239.08 L658.72,240.25 L658.85,239.80 L658.97,239.09 L659.09,239.53 L659.21,236.90 L659.33,237.79 L659.44,236.72 L659.56,235.38 L659.68,236.34 L659.80,235.85 L659.92,232.38 L660.04,230.61 L660.16,227.87 L660.27,226.53 L660.39,224.20 L660.51,222.05 L660.63,221.65 L660.75,217.67 L660.87,220.23 L660.99,222.10 L661.11,224.71 L661.23,223.69 L661.34,224.58 L661.46,226.21 L661.58,230.63 L661.70,231.11 L661.82,231.08 L661.94,232.31 L662.06,234.23 L662.17,234.90 L662.29,236.50 L662.41,235.79 L662.53,239.56 L662.65,240.59 L662.77,240.74 L662.89,244.36 L663.01,243.57 L663.12,241.87 L663.24,240.51 L663.36,242.74 L663.48,242.46 L663.60,241.38 L663.72,240.17 L663.84,238.94 L663.96,239.14 L664.08,238.96 L664.19,238.30 L664.31,237.80 L664.43,235.55 L664.55,232.69 L664.67,231.91 L664.78,231.29 L664.90,230.19 L665.02,229.25 L665.14,228.77 L665.25,225.90 L665.37,224.12 L665.49,221.62 L665.61,218.06 L665.73,217.72 L665.85,216.36 L665.97,215.86 L666.08,215.66 L666.20,213.38 L666.32,214.36 L666.44,213.72 L666.57,214.99 L666.69,217.18 L666.82,216.44 L666.95,215.51 L667.08,215.65 L667.20,217.05 L667.33,218.50 L667.46,215.74 L667.58,217.58 L667.71,216.88 L667.84,217.79 L667.96,216.25 L668.09,215.30 L668.21,216.04 L668.34,213.88 L668.47,215.22 L668.59,214.74 L668.72,215.36 L668.84,215.80 L668.97,215.30 L669.10,216.15 L669.22,218.38 L669.35,218.31 L669.48,215.07 L669.61,214.30 L669.73,213.07 L669.86,213.38 L669.99,212.53 L670.11,214.50 L670.24,214.51 L670.37,215.55 L670.49,215.31 L670.62,214.34 L670.74,214.46 L670.87,214.96 L671.00,215.84 L671.12,216.34 L671.25,216.19 L671.37,216.49 L671.50,216.09 L671.63,214.31 L671.75,212.70 L671.88,212.92 L672.01,213.46 L672.13,212.73 L672.26,212.10 L672.39,212.39 L672.52,211.77 L672.64,215.57 L672.77,215.30 L672.90,214.41 L673.02,211.78 L673.15,211.87 L673.27,213.07 L673.40,212.81 L673.53,214.29 L673.65,213.30 L673.78,212.98 L673.90,212.54 L674.03,211.34 L674.16,209.30 L674.28,207.97 L674.41,205.37 L674.54,206.35 L674.66,206.08 L674.79,205.90 L674.92,205.09 L675.05,206.34 L675.17,205.15 L675.30,207.39 L675.42,207.91 L675.54,206.01 L675.66,204.79 L675.77,204.70 L675.89,205.44 L676.01,203.42 L676.13,201.80 L676.25,204.23 L676.38,206.04 L676.50,207.83 L676.63,211.01 L676.75,212.19 L676.88,212.14 L677.01,210.38 L677.13,212.12 L677.26,211.16 L677.38,212.64 L677.51,210.55 L677.63,209.78 L677.75,209.63 L677.87,207.81 L677.99,206.95 L678.10,205.70 L678.22,205.75 L678.34,203.92 L678.46,203.44 L678.58,204.58 L678.70,205.76 L678.82,207.59 L678.93,207.44 L679.05,206.17 L679.17,205.90 L679.29,206.15 L679.41,205.81 L679.53,207.16 L679.65,205.66 L679.77,204.77 L679.88,202.11 L680.00,200.93 L680.12,202.00 L680.24,201.46 L680.36,201.86 L680.48,201.50 L680.60,201.86 L680.71,199.79 L680.83,199.57 L680.95,199.54 L681.06,200.16 L681.18,201.10 L681.30,199.49 L681.42,199.00 L681.54,199.57 L681.66,202.79 L681.77,202.89 L681.89,202.47 L682.01,202.14 L682.13,201.82 L682.25,204.23 L682.37,203.48 L682.49,202.93 L682.61,204.76 L682.73,206.32 L682.84,207.80 L682.96,207.05 L683.08,205.04 L683.20,205.81 L683.32,209.37 L683.44,210.08 L683.56,210.91 L683.67,207.72 L683.79,211.25 L683.91,212.17 L684.03,211.02 L684.15,212.13 L684.27,211.76 L684.39,213.04 L684.51,216.38 L684.62,215.73 L684.74,216.37 L684.86,216.29 L684.98,215.82 L685.10,216.88 L685.22,219.10 L685.34,219.83 L685.46,219.39 L685.58,220.22 L685.69,220.68 L685.81,221.91 L685.93,221.30 L686.05,221.62 L686.17,221.84 L686.29,219.87 L686.41,219.18 L686.52,217.17 L686.64,215.26 L686.76,212.26 L686.88,214.10 L687.00,213.72 L687.12,214.75 L687.24,215.76 L687.35,213.82 L687.47,212.24 L687.59,211.44 L687.71,208.61 L687.82,206.83 L687.94,207.39 L688.06,205.04 L688.18,204.36 L688.30,204.75 L688.41,205.15 L688.53,205.64 L688.65,205.14 L688.77,206.89 L688.89,204.23 L689.01,205.47 L689.13,204.10 L689.25,203.80 L689.37,204.38 L689.48,207.23 L689.60,206.67 L689.72,205.40 L689.84,207.39 L689.96,207.19 L690.08,207.12 L690.20,207.78 L690.32,209.05 L690.43,209.18 L690.55,206.24 L690.67,205.87 L690.79,205.81 L690.91,205.31 L691.03,204.99 L691.15,206.92 L691.26,208.32 L691.38,208.16 L691.50,209.98 L691.62,211.23 L691.74,210.55 L691.87,210.88 L691.99,209.81 L692.12,209.34 L692.24,210.45 L692.37,209.50 L692.50,208.51 L692.62,209.73 L692.75,209.07 L692.87,209.40 L693.00,209.76 L693.13,209.12 L693.25,209.21 L693.38,208.20 L693.51,206.73 L693.63,205.69 L693.76,206.84 L693.89,207.68 L694.02,207.19 L694.14,208.43 L694.27,208.97 L694.39,206.35 L694.51,207.23 L694.63,209.85 L694.75,209.17 L694.86,205.81 L694.98,206.68 L695.10,206.33 L695.22,205.02 L695.34,202.15 L695.46,201.89 L695.58,201.36 L695.69,200.81 L695.81,200.12 L695.93,201.30 L696.05,200.61 L696.17,201.07 L696.30,199.20 L696.42,198.57 L696.55,199.27 L696.67,198.78 L696.80,199.54 L696.93,200.18 L697.05,201.15 L697.18,201.41 L697.30,202.99 L697.43,201.86 L697.55,200.14 L697.67,201.03 L697.79,199.28 L697.90,200.18 L698.02,199.48 L698.14,197.98 L698.26,196.92 L698.38,197.91 L698.50,197.85 L698.62,196.71 L698.74,197.75 L698.86,199.09 L698.97,200.61 L699.09,198.92 L699.21,199.82 L699.33,200.28 L699.45,199.36 L699.57,198.14 L699.69,198.19 L699.81,197.51 L699.92,196.86 L700.04,198.98 L700.16,198.47 L700.28,196.32 L700.40,195.61 L700.52,195.12 L700.64,193.47 L700.75,195.48 L700.87,198.53 L700.99,198.21 L701.11,199.97 L701.23,199.49 L701.35,197.52 L701.47,194.12 L701.58,193.00 L701.70,193.63 L701.82,194.30 L701.93,193.97 L702.05,192.57 L702.17,193.16 L702.29,195.34 L702.41,194.14 L702.53,194.33 L702.64,194.10 L702.76,193.06 L702.88,191.31 L703.00,190.02 L703.12,190.00 L703.24,189.72 L703.37,189.29 L703.49,190.41 L703.61,188.85 L703.74,186.53 L703.86,184.32 L703.98,184.23 L704.11,182.89 L704.23,180.04 L704.35,180.68 L704.47,181.95 L704.59,181.58 L704.70,181.84 L704.82,179.34 L704.94,176.82 L705.06,176.42 L705.18,176.09 L705.30,175.44 L705.42,174.67 L705.54,173.43 L705.65,174.99 L705.77,173.45 L705.89,172.88 L706.01,173.89 L706.13,172.13 L706.25,172.24 L706.37,172.00 L706.49,172.75 L706.61,169.37 L706.72,168.88 L706.84,167.74 L706.96,169.13 L707.08,168.97 L707.20,167.21 L707.32,167.42 L707.43,167.28 L707.55,167.66 L707.67,168.13 L707.78,168.17 L707.90,166.40 L708.02,165.81 L708.14,167.22 L708.26,168.71 L708.38,170.17 L708.50,171.30 L708.61,171.75 L708.73,172.65 L708.85,172.34 L708.97,172.13 L709.09,172.81 L709.21,172.08 L709.33,171.90 L709.44,170.87 L709.56,168.37 L709.68,167.53 L709.80,169.41 L709.92,168.97 L710.04,168.30 L710.16,169.48 L710.28,169.08 L710.39,168.50 L710.51,166.64 L710.63,164.57 L710.75,165.38 L710.87,165.81 L710.99,167.65 L711.11,170.37 L711.23,171.54 L711.35,173.35 L711.46,173.97 L711.58,174.59 L711.70,175.37 L711.82,178.46 L711.94,178.33 L712.06,175.88 L712.18,174.36 L712.30,173.43 L712.41,171.26 L712.53,171.08 L712.65,168.93 L712.77,167.39 L712.89,168.47 L713.01,167.51 L713.13,166.67 L713.25,167.04 L713.36,170.16 L713.48,172.48 L713.60,174.62 L713.72,175.30 L713.84,173.89 L713.96,173.16 L714.07,172.74 L714.19,169.91 L714.31,168.16 L714.42,166.34 L714.54,167.33 L714.66,165.81 L714.78,164.46 L714.90,165.32 L715.02,164.47 L715.13,165.48 L715.25,163.93 L715.37,166.23 L715.49,165.87 L715.61,165.81 L715.73,167.02 L715.85,168.48 L715.97,170.04 L716.09,171.12 L716.20,174.32 L716.32,172.81 L716.44,172.70 L716.56,173.72 L716.68,172.85 L716.80,174.10 L716.92,174.15 L717.03,173.46 L717.15,171.68 L717.27,173.64 L717.39,174.13 L717.51,176.88 L717.64,177.08 L717.76,181.62 L717.89,183.70 L718.01,184.76 L718.14,187.15 L718.26,187.55 L718.38,187.36 L718.50,185.64 L718.62,185.41 L718.73,183.91 L718.85,184.27 L718.97,182.67 L719.09,183.20 L719.21,183.07 L719.33,184.79 L719.45,184.16 L719.57,182.75 L719.68,181.28 L719.80,182.06 L719.92,187.80 L720.04,186.36 L720.16,184.50 L720.28,185.56 L720.40,185.42 L720.51,186.11 L720.63,185.50 L720.75,185.12 L720.87,184.16 L720.99,181.62 L721.11,182.26 L721.23,181.29 L721.35,182.49 L721.47,179.15 L721.58,176.68 L721.70,176.80 L721.82,177.24 L721.94,180.04 L722.07,182.39 L722.19,186.70 L722.32,187.71 L722.44,194.36 L722.57,194.27 L722.69,197.73 L722.81,198.63 L722.93,197.57 L723.05,198.19 L723.16,200.76 L723.28,201.93 L723.40,202.15 L723.52,203.75 L723.64,203.47 L723.76,204.43 L723.88,205.08 L724.00,204.16 L724.11,202.83 L724.23,202.60 L724.35,202.10 L724.47,202.17 L724.59,200.66 L724.71,200.70 L724.83,199.46 L724.94,200.10 L725.06,200.33 L725.18,199.87 L725.30,197.61 L725.42,199.01 L725.54,197.48 L725.65,196.46 L725.77,195.97 L725.89,196.14 L726.01,195.03 L726.12,193.95 L726.24,191.65 L726.36,192.69 L726.48,191.48 L726.60,190.31 L726.72,186.96 L726.84,185.62 L726.95,186.28 L727.07,187.17 L727.19,185.23 L727.31,184.78 L727.43,184.37 L727.55,181.19 L727.67,179.42 L727.78,179.12 L727.90,179.35 L728.02,176.14 L728.14,173.40 L728.26,173.72 L728.38,172.34 L728.50,171.99 L728.62,169.58 L728.74,170.32 L728.85,170.01 L728.97,171.08 L729.09,168.97 L729.21,167.39 L729.33,165.72 L729.45,164.03 L729.57,162.20 L729.68,162.38 L729.80,161.07 L729.92,160.95 L730.04,159.91 L730.16,160.28 L730.28,161.76 L730.40,163.21 L730.52,164.75 L730.63,164.93 L730.75,166.25 L730.87,166.27 L730.99,165.54 L731.11,164.23 L731.23,164.14 L731.35,164.48 L731.47,166.68 L731.59,166.03 L731.70,168.01 L731.82,165.90 L731.94,165.79 L732.06,168.97 L732.18,169.68 L732.29,169.62 L732.41,169.41 L732.53,173.61 L732.65,176.47 L732.76,176.91 L732.88,177.48 L733.00,175.30 L733.12,175.81 L733.24,178.67 L733.36,176.82 L733.48,179.04 L733.59,180.66 L733.71,183.57 L733.83,183.63 L733.95,184.78 L734.07,187.32 L734.19,188.68 L734.31,190.36 L734.42,190.64 L734.54,191.11 L734.66,191.04 L734.78,191.92 L734.90,192.69 L735.02,194.53 L735.14,193.82 L735.26,194.09 L735.38,196.19 L735.49,199.96 L735.61,200.95 L735.73,202.42 L735.85,204.55 L735.97,204.37 L736.09,205.14 L736.21,204.03 L736.33,202.55 L736.44,199.98 L736.56,199.02 L736.68,197.13 L736.80,195.85 L736.92,194.03 L737.04,194.89 L737.16,193.72 L737.27,191.02 L737.39,190.36 L737.51,188.24 L737.63,188.35 L737.75,189.53 L737.87,191.99 L737.99,193.50 L738.11,194.09 L738.23,195.16 L738.34,199.77 L738.46,202.93 L738.58,203.29 L738.70,203.75 L738.82,203.54 L738.94,202.95 L739.05,202.39 L739.17,202.53 L739.29,200.37 L739.40,198.59 L739.52,199.26 L739.64,199.01 L739.76,198.45 L739.88,198.10 L740.00,198.76 L740.12,198.95 L740.23,197.83 L740.35,196.05 L740.47,196.91 L740.59,195.06 L740.71,199.29 L740.83,199.19 L740.95,199.83 L741.07,202.76 L741.18,206.18 L741.30,207.75 L741.42,205.62 L741.54,206.92 L741.66,204.74 L741.78,204.71 L741.90,206.51 L742.01,208.23 L742.13,209.05 L742.25,210.04 L742.37,211.54 L742.49,211.66 L742.62,215.42 L742.74,221.32 L742.87,226.24 L742.99,232.14 L743.12,236.96 L743.25,233.17 L743.37,229.99 L743.50,226.64 L743.62,224.65 L743.75,221.15 L743.87,220.37 L743.99,219.69 L744.11,218.26 L744.23,218.42 L744.34,217.33 L744.46,215.41 L744.58,216.14 L744.70,217.98 L744.82,215.79 L744.94,217.06 L745.06,217.31 L745.17,215.89 L745.29,214.93 L745.41,214.63 L745.53,217.69 L745.65,217.98 L745.77,220.62 L745.89,220.32 L746.01,222.26 L746.12,223.86 L746.24,223.46 L746.36,223.18 L746.48,224.35 L746.60,222.73 L746.72,223.18 L746.84,221.91 L746.96,222.40 L747.08,223.46 L747.19,224.87 L747.31,225.90 L747.43,226.13 L747.55,225.89 L747.67,226.18 L747.79,226.79 L747.91,227.65 L748.02,228.39 L748.14,230.06 L748.26,230.58 L748.38,229.87 L748.50,232.21 L748.62,232.71 L748.74,231.97 L748.86,232.24 L748.98,233.29 L749.09,234.50 L749.21,236.29 L749.33,240.38 L749.45,240.12 L749.60,244.23 L749.72,248.09 L749.84,250.01 L749.96,251.28 L750.08,249.94 L750.19,251.25 L750.31,253.82 L750.43,254.09 L750.55,253.72 L750.67,252.56 L750.79,253.39 L750.91,254.04 L751.02,256.80 L751.14,256.74 L751.26,258.43 L751.38,257.38 L751.50,257.67 L751.62,259.17 L751.74,258.80 L751.86,259.52 L751.98,257.82 L752.09,256.57 L752.21,255.85 L752.33,254.33 L752.45,253.72 L752.57,255.49 L752.69,254.96 L752.81,255.09 L752.92,257.00 L753.04,256.83 L753.16,256.43 L753.28,255.57 L753.40,256.88 L753.53,255.36 L753.65,255.39 L753.78,255.44 L753.90,250.67 L754.03,248.97 L754.16,253.65 L754.28,255.91 L754.41,257.96 L754.53,258.24 L754.66,261.62 L754.79,263.40 L754.92,266.79 L755.04,269.50 L755.17,273.28 L755.30,275.85 L755.42,276.77 L755.54,279.65 L755.66,281.09 L755.77,283.81 L755.89,284.40 L756.01,287.89 L756.13,290.09 L756.25,293.24 L756.37,295.56 L756.49,294.71 L756.60,292.50 L756.72,295.21 L756.84,295.82 L756.96,296.54 L757.07,296.68 L757.19,297.19 L757.31,296.31 L757.43,296.22 L757.55,294.54 L757.66,290.30 L757.78,289.81 L757.90,288.92 L758.02,286.80 L758.14,283.75 L758.26,281.03 L758.38,281.82 L758.50,280.08 L758.62,280.80 L758.73,279.56 L758.85,279.84 L758.97,277.68 L759.09,275.06 L759.21,276.31 L759.33,275.48 L759.45,275.19 L759.57,277.35 L759.68,280.98 L759.80,282.75 L759.92,282.04 L760.04,282.17 L760.16,282.29 L760.28,281.97 L760.40,285.10 L760.51,287.53 L760.63,287.01 L760.75,289.73 L760.87,288.32 L760.99,286.92 L761.11,287.62 L761.23,284.95 L761.35,282.95 L761.47,283.87 L761.58,282.07 L761.70,282.68 L761.82,282.40 L761.94,280.59 L762.06,280.66 L762.18,281.39 L762.30,281.71 L762.41,279.76 L762.53,280.24 L762.65,276.26 L762.77,275.02 L762.89,274.27 L763.01,273.74 L763.12,273.80 L763.24,270.15 L763.36,267.57 L763.48,265.57 L763.60,263.10 L763.71,261.78 L763.83,260.83 L763.95,261.73 L764.07,261.24 L764.19,265.56 L764.31,263.95 L764.42,263.66 L764.54,265.76 L764.66,266.87 L764.78,267.94 L764.90,268.29 L765.02,266.67 L765.14,265.45 L765.25,265.64 L765.37,266.49 L765.49,263.41 L765.61,261.36 L765.73,260.04 L765.85,261.22 L765.97,259.50 L766.09,260.74 L766.20,259.77 L766.32,260.76 L766.44,261.07 L766.56,263.05 L766.68,261.62 L766.80,262.33 L766.92,261.88 L767.04,260.86 L767.15,262.08 L767.27,260.69 L767.39,261.62 L767.51,260.14 L767.63,258.46 L767.75,260.76 L767.87,265.05 L767.99,267.04 L768.11,267.10 L768.22,268.91 L768.34,269.84 L768.46,270.27 L768.58,271.90 L768.70,270.58 L768.82,269.63 L768.94,266.18 L769.06,266.34 L769.17,263.87 L769.29,259.63 L769.41,256.41 L769.53,254.51 L769.65,254.55 L769.76,256.01 L769.88,255.98 L770.00,258.56 L770.12,259.97 L770.24,260.80 L770.35,263.31 L770.47,263.20 L770.59,264.32 L770.71,266.45 L770.83,268.29 L770.94,269.70 L771.06,272.22 L771.18,272.83 L771.30,274.13 L771.42,274.27 L771.54,274.77 L771.66,273.78 L771.78,272.78 L771.89,273.35 L772.01,272.55 L772.13,274.16 L772.25,276.06 L772.37,277.43 L772.49,279.72 L772.61,281.68 L772.73,280.91 L772.85,280.68 L772.96,282.39 L773.08,282.19 L773.20,282.53 L773.32,283.75 L773.44,287.63 L773.56,288.96 L773.68,292.46 L773.80,297.08 L773.91,301.06 L774.03,306.55 L774.15,309.39 L774.27,314.58 L774.40,310.29 L774.52,304.04 L774.65,298.17 L774.77,292.33 L774.90,282.17 L775.03,278.23 L775.15,276.71 L775.28,271.99 L775.40,269.40 L775.53,267.15 L775.66,270.27 L775.79,271.50 L775.91,274.08 L776.04,275.46 L776.17,279.01 L776.30,280.84 L776.42,282.81 L776.55,286.04 L776.67,290.99 L776.80,294.03 L776.92,293.69 L777.04,292.55 L777.16,293.67 L777.27,292.44 L777.39,291.80 L777.51,291.12 L777.63,292.33 L777.75,290.87 L777.87,290.78 L777.99,292.09 L778.11,293.19 L778.23,292.23 L778.34,292.07 L778.46,292.24 L778.58,293.34 L778.70,293.24 L778.82,294.87 L778.94,294.20 L779.05,294.81 L779.17,294.22 L779.29,293.52 L779.40,293.48 L779.52,291.98 L779.64,288.50 L779.76,289.50 L779.88,288.90 L780.00,291.08 L780.12,290.27 L780.23,290.88 L780.35,291.33 L780.47,290.98 L780.59,290.87 L780.71,290.11 L780.83,289.84 L780.95,289.67 L781.07,289.21 L781.18,288.68 L781.30,285.16 L781.42,286.51 L781.54,286.92 L781.66,285.76 L781.78,285.18 L781.90,282.85 L782.01,279.41 L782.13,279.33 L782.25,282.14 L782.37,282.90 L782.49,283.75 L782.61,284.85 L782.73,286.64 L782.85,287.58 L782.97,287.47 L783.08,287.67 L783.20,289.61 L783.32,290.07 L783.44,288.50 L783.56,289.76 L783.68,290.58 L783.80,292.91 L783.91,293.57 L784.03,294.11 L784.15,294.48 L784.27,293.93 L784.39,294.82 L784.51,294.48 L784.63,293.44 L784.75,293.66 L784.87,294.15 L784.98,294.99 L785.10,296.26 L785.22,299.58 L785.34,299.57 L785.46,302.08 L785.58,302.77 L785.69,303.63 L785.81,305.42 L785.93,304.95 L786.04,305.54 L786.16,307.15 L786.28,305.89 L786.40,306.07 L786.52,306.92 L786.64,308.33 L786.75,310.83 L786.87,310.54 L786.99,313.87 L787.11,316.27 L787.23,318.54 L787.36,319.05 L787.49,322.66 L787.61,324.78 L787.74,328.94 L787.87,331.98 L788.00,328.13 L788.12,323.63 L788.25,320.04 L788.37,317.69 L788.50,312.21 L788.62,310.63 L788.74,309.72 L788.86,308.88 L788.98,307.68 L789.09,307.37 L789.21,306.90 L789.33,303.50 L789.45,304.31 L789.57,301.19 L789.69,301.58 L789.81,301.43 L789.92,297.85 L790.04,296.80 L790.16,297.45 L790.28,298.13 L790.40,297.19 L790.52,296.84 L790.63,299.16 L790.75,297.82 L790.87,296.50 L790.99,298.24 L791.11,297.29 L791.22,298.73 L791.34,297.98 L791.46,298.51 L791.58,301.46 L791.70,302.74 L791.82,304.99 L791.93,306.12 L792.05,306.88 L792.17,307.33 L792.29,307.47 L792.41,306.90 L792.53,306.40 L792.65,307.54 L792.76,306.82 L792.88,305.37 L793.00,304.94 L793.12,305.78 L793.24,302.73 L793.36,305.36 L793.48,304.63 L793.60,303.92 L793.72,307.76 L793.83,309.61 L793.95,309.25 L794.07,310.79 L794.19,313.00 L794.31,312.95 L794.43,313.46 L794.55,312.97 L794.66,312.70 L794.78,310.18 L794.90,307.82 L795.02,307.10 L795.14,304.31 L795.26,304.15 L795.38,302.97 L795.50,303.50 L795.62,303.65 L795.73,302.03 L795.85,297.32 L795.97,294.30 L796.09,293.24 L796.21,294.23 L796.33,292.48 L796.45,291.49 L796.57,289.68 L796.68,284.31 L796.80,283.35 L796.92,281.24 L797.04,277.43 L797.16,276.64 L797.27,274.84 L797.39,277.09 L797.51,272.36 L797.63,269.55 L797.75,267.88 L797.86,265.63 L797.98,264.78 L798.10,264.63 L798.22,263.92 L798.34,262.65 L798.45,260.36 L798.57,259.25 L798.69,259.10 L798.81,257.91 L798.93,253.72 L799.05,255.43 L799.17,254.19 L799.29,254.81 L799.40,253.56 L799.52,254.46 L799.64,253.44 L799.76,254.89 L799.88,256.09 L800.00,256.02 L800.12,252.88 L800.24,254.15 L800.36,253.62 L800.47,255.75 L800.59,257.06 L800.71,257.36 L800.83,256.88 L800.95,253.95 L801.07,254.15 L801.19,253.66 L801.31,251.59 L801.42,250.24 L801.54,249.70 L801.66,247.66 L801.78,243.44 L801.90,246.87 L802.02,247.62 L802.14,247.98 L802.25,249.21 L802.37,249.10 L802.49,248.83 L802.61,250.32 L802.73,250.55 L802.86,252.47 L802.98,254.36 L803.11,258.38 L803.23,259.36 L803.36,260.83 L803.48,258.56 L803.60,258.63 L803.72,257.75 L803.84,256.73 L803.95,257.75 L804.07,256.60 L804.19,255.44 L804.31,252.13 L804.43,249.36 L804.55,248.26 L804.67,247.99 L804.78,246.10 L804.90,244.40 L805.02,245.02 L805.14,243.85 L805.26,242.65 L805.38,240.40 L805.50,237.14 L805.62,236.52 L805.74,236.67 L805.85,236.29 L805.97,236.58 L806.09,232.14 L806.21,231.58 L806.34,230.22 L806.46,230.90 L806.59,228.84 L806.71,228.77 L806.84,230.00 L806.97,232.78 L807.09,234.92 L807.22,236.67 L807.34,239.35 L807.47,241.07 L807.59,237.66 L807.71,236.66 L807.83,237.08 L807.94,235.79 L808.06,235.42 L808.18,235.25 L808.30,233.49 L808.42,231.58 L808.54,232.29 L808.66,234.41 L808.78,236.90 L808.89,237.44 L809.01,238.85 L809.13,242.09 L809.25,243.00 L809.37,245.81 L809.49,245.49 L809.61,244.26 L809.73,244.65 L809.85,244.66 L809.96,243.76 L810.08,243.08 L810.20,242.80 L810.32,242.65 L810.44,241.95 L810.56,241.61 L810.67,239.65 L810.79,240.34 L810.91,238.91 L811.02,237.38 L811.14,237.85 L811.26,237.91 L811.38,235.52 L811.50,235.64 L811.62,236.80 L811.74,237.65 L811.85,235.52 L811.97,234.69 L812.09,233.77 L812.21,234.74 L812.33,235.25 L812.45,235.08 L812.57,234.37 L812.68,232.62 L812.80,233.41 L812.92,229.77 L813.04,229.85 L813.16,230.00 L813.29,229.66 L813.41,228.90 L813.54,228.34 L813.66,228.49 L813.79,226.84 L813.91,228.56 L814.03,229.30 L814.15,230.16 L814.26,227.29 L814.38,226.22 L814.50,226.64 L814.62,226.47 L814.74,228.42 L814.87,226.66 L815.00,228.54 L815.12,229.87 L815.25,230.41 L815.38,230.00 L815.50,228.96 L815.62,227.85 L815.73,227.41 L815.85,227.93 L815.97,229.36 L816.09,230.84 L816.20,232.83 L816.32,234.74 L816.44,234.53 L816.56,234.54 L816.68,236.72 L816.80,236.37 L816.91,238.48 L817.03,239.28 L817.15,238.16 L817.27,239.49 L817.40,243.25 L817.53,245.61 L817.65,245.84 L817.78,249.67 L817.91,253.72 L818.03,253.92 L818.14,253.57 L818.26,251.70 L818.38,248.53 L818.50,247.44 L818.62,247.84 L818.73,246.79 L818.85,244.23 L818.97,242.59 L819.09,239.65 L819.21,240.52 L819.33,241.75 L819.44,239.44 L819.56,239.23 L819.68,241.75 L819.80,239.49 L819.92,241.92 L820.04,243.90 L820.16,245.48 L820.27,246.57 L820.39,247.68 L820.51,248.96 L820.63,251.62 L820.75,250.55 L820.87,247.61 L820.99,244.38 L821.11,244.14 L821.23,244.97 L821.34,243.44 L821.46,243.47 L821.58,243.21 L821.70,244.23 L821.82,244.32 L821.94,243.98 L822.06,242.18 L822.17,240.76 L822.29,241.06 L822.41,240.37 L822.53,241.24 L822.65,239.49 L822.77,239.38 L822.89,237.72 L823.01,236.89 L823.12,233.16 L823.24,232.68 L823.36,230.06 L823.48,230.25 L823.60,230.00 L823.72,229.25 L823.84,231.35 L823.96,233.49 L824.08,235.96 L824.19,237.74 L824.31,237.38 L824.43,239.45 L824.55,237.91 L824.68,239.31 L824.80,241.59 L824.93,241.26 L825.05,244.71 L825.18,247.39 L825.30,246.45 L825.42,242.81 L825.54,241.14 L825.65,241.45 L825.77,241.56 L825.89,239.57 L826.01,237.06 L826.13,236.32 L826.25,235.24 L826.37,233.54 L826.49,235.96 L826.61,236.44 L826.72,237.41 L826.84,237.54 L826.96,239.30 L827.08,241.07 L827.20,240.03 L827.32,238.63 L827.43,237.26 L827.55,237.64 L827.67,237.00 L827.78,234.57 L827.90,235.53 L828.02,234.74 L828.14,234.36 L828.26,235.23 L828.38,234.86 L828.50,234.91 L828.61,233.75 L828.73,233.51 L828.85,233.68 L828.97,233.16 L829.10,235.14 L829.22,237.02 L829.35,238.76 L829.47,241.19 L829.60,242.65 L829.72,243.90 L829.84,243.79 L829.96,245.63 L830.08,246.29 L830.19,245.92 L830.31,247.00 L830.43,246.05 L830.55,250.55 L830.67,250.93 L830.79,252.05 L830.91,255.23 L831.02,255.79 L831.14,255.87 L831.26,255.86 L831.38,258.67 L831.50,258.46 L831.63,261.46 L831.75,263.04 L831.88,263.62 L832.01,265.89 L832.13,266.63 L832.26,267.00 L832.39,266.06 L832.52,264.89 L832.64,265.96 L832.77,263.99 L832.89,260.92 L833.01,257.88 L833.13,256.79 L833.25,253.93 L833.36,252.66 L833.48,255.01 L833.60,254.00 L833.72,255.30 L833.85,252.82 L833.97,248.65 L834.10,245.20 L834.22,241.62 L834.35,239.49 L834.47,241.19 L834.59,242.21 L834.71,242.47 L834.83,242.20 L834.94,242.43 L835.06,242.01 L835.18,241.73 L835.30,245.81 L835.43,248.55 L835.55,248.69 L835.68,250.25 L835.80,252.24 L835.93,253.72 L836.05,250.94 L836.17,249.54 L836.29,247.85 L836.40,246.62 L836.52,246.24 L836.64,243.63 L836.76,242.01 L836.88,239.49 L837.00,238.06 L837.12,237.05 L837.24,237.05 L837.36,236.01 L837.47,234.45 L837.59,233.20 L837.71,233.12 L837.83,234.74 L837.95,236.09 L838.07,233.61 L838.18,232.83 L838.30,233.24 L838.42,232.33 L838.53,231.76 L838.65,230.15 L838.77,230.00 L838.89,226.63 L839.01,222.28 L839.13,219.79 L839.25,217.98 L839.37,217.06 L839.49,213.97 L839.61,212.76 L839.73,212.23 L839.84,212.15 L839.96,212.19 L840.08,211.88 L840.20,210.08 L840.32,211.69 L840.44,213.55 L840.56,214.63 L840.67,216.00 L840.79,215.57 L840.91,216.90 L841.03,217.25 L841.15,217.98 L841.27,219.14 L841.38,218.33 L841.50,217.64 L841.62,215.69 L841.74,212.61 L841.86,209.89 L841.97,208.33 L842.09,206.92 L842.21,203.87 L842.33,202.32 L842.45,201.67 L842.57,199.92 L842.68,198.76 L842.80,198.26 L842.92,199.22 L843.04,199.01 L843.16,199.70 L843.28,196.54 L843.40,196.92 L843.51,195.36 L843.63,195.35 L843.75,196.67 L843.87,196.61 L843.99,195.85 L844.11,197.17 L844.23,195.73 L844.35,196.31 L844.47,196.03 L844.58,195.74 L844.70,194.14 L844.82,193.79 L844.94,193.48 L845.06,194.73 L845.18,196.44 L845.30,195.87 L845.41,198.39 L845.53,199.33 L845.65,200.93 L845.77,201.36 L845.89,202.17 L846.02,203.51 L846.14,207.38 L846.27,208.49 L846.39,209.69 L846.52,211.66 L846.64,208.67 L846.76,205.95 L846.88,204.85 L847.00,203.86 L847.11,203.49 L847.23,202.71 L847.35,200.19 L847.47,197.43 L847.59,199.32 L847.71,196.94 L847.83,197.66 L847.94,199.08 L848.06,201.16 L848.18,203.49 L848.30,205.44 L848.42,208.50 L848.54,207.63 L848.66,208.77 L848.78,210.75 L848.89,209.27 L849.01,209.79 L849.13,212.88 L849.25,213.53 L849.37,216.40 L849.51,214.46 L849.64,213.24 L849.78,211.56 L849.92,209.49 L850.03,211.84 L850.13,212.13 L850.24,215.81 L850.36,216.82 L850.48,217.06 L850.60,218.98 L850.72,218.45 L850.83,222.54 L850.95,227.02 L851.07,229.94 L851.19,230.04 L851.31,229.27 L851.43,228.26 L851.54,226.19 L851.66,224.43 L851.78,223.67 L851.89,221.65 L852.01,220.26 L852.13,218.97 L852.25,217.39 L852.37,217.07 L852.49,216.64 L852.61,218.93 L852.72,219.25 L852.84,219.95 L852.96,220.41 L853.08,220.55 L853.20,220.49 L853.32,220.17 L853.44,217.19 L853.56,217.07 L853.67,216.06 L853.79,215.49 L853.91,214.04 L854.03,212.65 L854.15,212.02 L854.27,210.76 L854.39,210.18 L854.50,209.85 L854.62,209.19 L854.74,208.70 L854.86,207.26 L854.98,206.32 L855.10,205.99 L855.22,204.59 L855.34,204.20 L855.45,203.12 L855.57,203.31 L855.69,200.84 L855.81,200.04 L855.93,200.00 L856.05,197.89 L856.17,197.00 L856.29,196.37 L856.40,195.11 L856.52,195.26 L856.64,194.63 L856.76,193.22 L856.88,193.24 L857.00,193.19 L857.12,196.39 L857.24,193.74 L857.36,193.40 L857.47,192.77 L857.59,192.20 L857.71,188.96 L857.83,188.50 L857.95,188.31 L858.07,189.82 L858.18,188.92 L858.30,191.74 L858.42,192.23 L858.53,192.11 L858.65,193.06 L858.77,191.66 L858.89,190.43 L859.01,191.36 L859.13,191.09 L859.25,191.34 L859.36,188.47 L859.48,186.77 L859.60,184.62 L859.72,186.92 L859.84,186.00 L859.96,186.99 L860.08,185.90 L860.19,186.56 L860.31,185.11 L860.43,183.74 L860.55,182.81 L860.67,182.17 L860.79,179.27 L860.91,179.03 L861.03,177.54 L861.14,176.39 L861.26,175.77 L861.38,174.99 L861.50,174.66 L861.62,175.85 L861.74,177.46 L861.86,179.92 L861.98,179.17 L862.10,179.16 L862.21,178.90 L862.33,178.46 L862.45,179.43 L862.57,180.59 L862.69,180.05 L862.81,179.85 L862.93,181.12 L863.05,180.57 L863.16,181.67 L863.28,181.33 L863.40,181.62 L863.52,183.75 L863.64,182.52 L863.76,182.50 L863.88,183.67 L864.00,183.38 L864.11,184.66 L864.23,187.59 L864.35,189.03 L864.47,188.50 L864.59,187.08 L864.71,187.00 L864.83,185.93 L864.94,184.56 L865.06,185.19 L865.18,185.73 L865.30,183.20 L865.42,182.17 L865.55,179.85 L865.67,179.77 L865.80,179.33 L865.92,179.63 L866.05,178.65 L866.18,178.40 L866.30,178.39 L866.43,177.38 L866.55,177.61 L866.68,174.27 L866.80,176.67 L866.92,175.94 L867.04,176.50 L867.15,177.87 L867.27,179.08 L867.39,178.27 L867.51,179.34 L867.63,177.43 L867.75,178.04 L867.87,178.32 L867.99,181.22 L868.11,181.72 L868.22,181.62 L868.34,181.56 L868.46,181.31 L868.58,182.17 L868.70,181.77 L868.82,183.24 L868.94,180.84 L869.06,180.92 L869.17,178.37 L869.29,177.29 L869.41,178.09 L869.53,179.01 L869.65,180.53 L869.76,180.17 L869.88,181.84 L870.00,184.25 L870.12,182.81 L870.24,182.49 L870.35,183.01 L870.47,183.75 L870.59,183.57 L870.71,182.71 L870.83,181.24 L870.94,181.34 L871.06,179.78 L871.18,178.96 L871.30,179.00 L871.42,179.01 L871.54,180.67 L871.66,182.39 L871.78,183.83 L871.89,186.35 L872.01,185.09 L872.13,185.89 L872.25,186.69 L872.37,186.92 L872.50,187.41 L872.62,188.40 L872.75,188.45 L872.87,191.66 L873.00,194.82 L873.12,193.72 L873.24,194.63 L873.36,195.28 L873.48,195.13 L873.59,194.43 L873.71,194.65 L873.83,194.41 L873.95,193.24 L874.07,195.57 L874.19,196.96 L874.31,199.61 L874.42,199.05 L874.54,199.17 L874.66,196.19 L874.78,196.78 L874.90,196.40 L875.02,196.08 L875.14,196.33 L875.26,195.37 L875.38,195.48 L875.49,193.45 L875.61,190.71 L875.73,191.44 L875.85,191.66 L875.97,193.15 L876.09,193.23 L876.21,195.10 L876.33,196.44 L876.44,200.45 L876.56,197.43 L876.68,196.33 L876.80,197.98 L876.92,198.54 L877.04,198.55 L877.16,197.88 L877.27,196.58 L877.39,198.33 L877.51,199.42 L877.63,199.44 L877.75,199.57 L877.87,202.11 L877.99,201.06 L878.11,199.80 L878.23,199.93 L878.34,198.83 L878.46,200.27 L878.58,201.49 L878.70,202.73 L878.82,202.71 L878.94,202.21 L879.05,203.05 L879.17,200.56 L879.29,198.78 L879.40,197.70 L879.52,196.12 L879.64,196.40 L879.76,193.45 L879.88,192.92 L880.00,191.36 L880.12,187.73 L880.23,183.02 L880.35,184.07 L880.47,183.04 L880.59,182.17 L880.71,182.44 L880.83,182.07 L880.95,184.78 L881.07,184.13 L881.18,184.49 L881.30,185.41 L881.42,185.15 L881.54,185.34 L881.67,185.16 L881.79,185.03 L881.92,187.62 L882.04,188.22 L882.17,190.08 L882.29,189.36 L882.41,189.07 L882.53,188.68 L882.64,187.02 L882.76,187.48 L882.88,186.02 L883.00,184.89 L883.12,185.34 L883.24,184.44 L883.36,182.08 L883.48,180.99 L883.60,181.29 L883.71,181.94 L883.83,181.87 L883.95,180.17 L884.07,180.59 L884.19,179.73 L884.31,178.84 L884.43,179.66 L884.55,179.69 L884.66,179.89 L884.78,178.30 L884.90,177.47 L885.02,177.43 L885.14,177.20 L885.26,177.02 L885.38,173.71 L885.50,175.79 L885.61,175.94 L885.73,173.91 L885.85,174.57 L885.97,173.48 L886.09,172.68 L886.21,174.60 L886.33,172.83 L886.44,171.19 L886.56,169.75 L886.68,168.69 L886.80,172.78 L886.92,171.90 L887.04,171.16 L887.16,172.01 L887.28,173.63 L887.39,175.95 L887.51,175.41 L887.63,178.67 L887.75,179.54 L887.87,179.01 L887.99,176.71 L888.11,176.11 L888.22,174.88 L888.34,173.05 L888.46,172.01 L888.57,173.90 L888.69,174.60 L888.81,172.69 L888.93,172.47 L889.05,174.55 L889.17,173.85 L889.28,172.10 L889.40,171.52 L889.52,170.45 L889.64,169.16 L889.76,169.53 L889.88,168.93 L890.00,168.93 L890.12,169.88 L890.24,169.63 L890.35,168.13 L890.47,167.33 L890.59,168.94 L890.71,167.94 L890.83,167.58 L890.95,169.33 L891.07,169.24 L891.18,169.14 L891.30,170.66 L891.42,171.65 L891.54,172.07 L891.66,172.69 L891.78,172.96 L891.90,172.22 L892.02,170.09 L892.13,168.34 L892.25,169.31 L892.37,167.82 L892.49,167.12 L892.61,166.36 L892.73,164.28 L892.85,163.12 L892.97,160.45 L893.09,158.71 L893.20,158.89 L893.32,157.29 L893.44,157.98 L893.56,156.88 L893.68,156.99 L893.80,156.56 L893.92,154.78 L894.03,155.64 L894.15,156.96 L894.27,156.79 L894.39,156.21 L894.51,155.30 L894.63,155.79 L894.75,157.05 L894.86,158.08 L894.98,158.26 L895.10,158.11 L895.22,158.11 L895.33,157.72 L895.45,156.09 L895.57,159.15 L895.69,158.37 L895.81,157.41 L895.92,159.66 L896.04,160.66 L896.16,161.71 L896.28,161.32 L896.40,161.62 L896.52,161.68 L896.64,164.42 L896.76,164.15 L896.88,163.35 L896.99,163.26 L897.11,162.33 L897.23,160.28 L897.35,156.88 L897.47,157.90 L897.59,156.28 L897.71,158.23 L897.83,157.85 L897.94,157.54 L898.06,156.24 L898.18,155.10 L898.30,154.51 L898.42,154.93 L898.54,154.27 L898.66,154.06 L898.77,153.31 L898.89,153.99 L899.01,154.50 L899.13,155.12 L899.25,153.72 L899.37,153.11 L899.49,151.80 L899.61,153.21 L899.73,150.10 L899.84,152.61 L899.96,152.65 L900.08,152.23 L900.20,152.92 L900.32,152.29 L900.44,151.54 L900.56,151.80 L900.67,152.33 L900.79,151.36 L900.91,153.27 L901.03,151.23 L901.15,152.13 L901.27,153.07 L901.38,152.28 L901.50,154.04 L901.62,156.41 L901.74,154.89 L901.86,156.29 L901.97,156.76 L902.09,157.67 L902.22,153.43 L902.35,152.28 L902.47,151.88 L902.60,150.29 L902.73,147.39 L902.85,146.74 L902.97,146.98 L903.09,146.52 L903.20,144.49 L903.32,142.71 L903.44,140.50 L903.56,140.36 L903.68,142.65 L903.80,143.20 L903.91,141.65 L904.03,140.14 L904.15,140.16 L904.27,139.84 L904.38,140.31 L904.50,139.67 L904.62,137.91 L904.74,137.40 L904.86,138.47 L904.98,137.54 L905.10,139.03 L905.22,136.56 L905.34,134.86 L905.46,134.62 L905.58,133.93 L905.69,134.63 L905.81,134.52 L905.93,134.86 L906.04,136.35 L906.16,134.20 L906.28,133.28 L906.40,135.15 L906.52,133.87 L906.64,131.61 L906.75,129.65 L906.87,127.27 L906.99,126.24 L907.11,125.76 L907.23,125.38 L907.35,125.51 L907.47,124.41 L907.59,124.61 L907.70,125.22 L907.82,122.44 L907.94,120.21 L908.06,119.95 L908.18,117.47 L908.30,118.07 L908.42,116.40 L908.54,114.70 L908.65,114.03 L908.77,116.31 L908.89,113.94 L909.01,113.02 L909.13,111.15 L909.25,111.54 L909.37,110.96 L909.49,110.49 L909.61,110.73 L909.72,110.03 L909.84,109.69 L909.96,110.00 L910.08,109.57 L910.20,110.29 L910.32,110.17 L910.44,111.81 L910.56,113.05 L910.67,113.92 L910.79,114.14 L910.91,114.55 L911.03,114.31 L911.15,116.17 L911.27,116.50 L911.39,118.69 L911.50,115.85 L911.62,113.19 L911.74,113.06 L911.86,112.30 L911.98,111.15 L912.10,111.05 L912.22,111.42 L912.33,108.67 L912.45,112.68 L912.57,112.95 L912.68,113.39 L912.80,115.40 L912.92,115.89 L913.04,114.93 L913.16,114.48 L913.28,114.13 L913.39,113.47 L913.51,113.57 L913.63,113.70 L913.75,112.53 L913.87,111.94 L913.99,112.71 L914.11,115.28 L914.23,115.01 L914.35,114.62 L914.46,115.09 L914.58,117.26 L914.70,117.98 L914.82,119.05 L914.94,118.53 L915.06,118.54 L915.18,119.29 L915.30,118.61 L915.41,117.35 L915.53,115.90 L915.65,112.30 L915.77,110.36 L915.89,109.95 L916.01,111.12 L916.13,111.59 L916.25,110.08 L916.36,109.42 L916.48,109.89 L916.60,109.86 L916.72,108.77 L916.84,110.66 L916.96,108.86 L917.08,110.33 L917.19,109.89 L917.31,108.60 L917.43,108.83 L917.55,111.03 L917.67,109.57 L917.80,112.19 L917.92,115.03 L918.05,117.27 L918.17,119.54 L918.30,122.21 L918.43,124.52 L918.55,128.53 L918.68,126.88 L918.80,129.26 L918.93,132.49 L919.06,127.53 L919.19,125.77 L919.31,124.47 L919.44,121.32 L919.57,119.05 L919.69,117.57 L919.81,115.22 L919.92,113.80 L920.04,112.20 L920.16,112.77 L920.27,111.22 L920.39,111.43 L920.51,111.94 L920.63,114.16 L920.75,114.84 L920.87,116.15 L920.99,115.71 L921.10,114.97 L921.22,117.73 L921.34,119.79 L921.46,119.05 L921.59,114.96 L921.71,114.34 L921.84,111.82 L921.96,110.48 L922.09,109.57 L922.22,108.01 L922.35,107.88 L922.47,104.94 L922.60,103.53 L922.73,103.24 L922.85,104.47 L922.97,103.86 L923.09,103.96 L923.20,102.21 L923.32,102.82 L923.44,100.43 L923.56,99.33 L923.68,98.50 L923.80,95.73 L923.91,93.40 L924.03,91.45 L924.15,91.21 L924.27,90.53 L924.38,89.47 L924.50,88.43 L924.62,87.43 L924.74,85.47 L924.86,84.35 L924.98,83.37 L925.10,83.70 L925.21,83.45 L925.33,83.50 L925.45,81.25 L925.57,82.69 L925.69,80.84 L925.81,78.51 L925.93,77.56 L926.05,76.92 L926.16,75.64 L926.28,76.61 L926.40,74.85 L926.52,73.20 L926.65,71.49 L926.77,73.31 L926.90,72.89 L927.02,72.42 L927.15,70.04 L927.27,68.37 L927.39,67.12 L927.51,67.10 L927.62,67.79 L927.74,68.74 L927.86,67.20 L927.98,66.95 L928.10,68.46 L928.22,68.88 L928.34,69.58 L928.46,70.90 L928.58,71.24 L928.69,70.98 L928.81,74.00 L928.93,71.66 L929.05,71.62 L929.17,72.48 L929.29,72.61 L929.41,72.60 L929.52,72.07 L929.64,73.53 L929.76,71.11 L929.88,69.57 L930.00,67.67 L930.12,66.28 L930.24,65.08 L930.36,65.10 L930.48,65.96 L930.59,64.38 L930.71,63.96 L930.83,66.29 L930.95,66.88 L931.07,63.75 L931.19,63.75 L931.31,62.88 L931.42,61.96 L931.54,61.44 L931.66,61.58 L931.78,60.98 L931.90,61.34 L932.02,61.63 L932.14,62.64 L932.26,63.20 L932.38,61.84 L932.49,59.65 L932.61,61.98 L932.73,60.63 L932.85,58.97 L932.97,59.46 L933.09,60.06 L933.20,58.91 L933.32,59.74 L933.44,58.12 L933.55,56.71 L933.67,53.96 L933.79,55.81 L933.91,56.65 L934.03,58.31 L934.15,56.85 L934.26,58.21 L934.38,56.49 L934.50,56.29 L934.62,57.90 L934.74,60.55 L934.86,61.97 L934.98,61.19 L935.10,58.70 L935.22,58.48 L935.33,57.15 L935.45,57.41 L935.57,57.33 L935.69,58.97 L935.81,60.63 L935.93,61.25 L936.05,62.68 L936.16,63.08 L936.28,63.26 L936.40,63.28 L936.52,63.76 L936.64,63.72 L936.76,64.49 L936.88,63.21 L937.00,63.29 L937.12,64.79 L937.23,64.45 L937.35,63.77 L937.47,66.88 L937.59,66.88 L937.71,69.26 L937.83,69.18 L937.95,69.87 L938.07,71.07 L938.18,70.23 L938.30,69.19 L938.42,69.32 L938.54,69.25 L938.66,71.48 L938.78,72.06 L938.90,72.38 L939.01,73.91 L939.13,74.12 L939.25,74.09 L939.37,75.69 L939.49,76.36 L939.62,79.52 L939.74,85.64 L939.87,90.29 L939.99,92.22 L940.12,96.13 L940.25,93.24 L940.37,89.01 L940.50,83.87 L940.62,79.92 L940.75,74.78 L940.87,75.25 L940.99,76.70 L941.11,76.35 L941.23,79.72 L941.34,77.16 L941.46,76.01 L941.58,78.14 L941.70,79.53 L941.83,81.57 L941.95,81.96 L942.08,82.99 L942.20,83.42 L942.33,82.69 L942.45,79.55 L942.57,78.45 L942.69,78.31 L942.81,77.93 L942.92,75.97 L943.04,76.54 L943.16,75.25 L943.28,73.20 L943.40,74.35 L943.52,75.33 L943.64,74.80 L943.75,74.55 L943.87,75.83 L943.99,79.26 L944.11,76.97 L944.23,74.78 L944.35,73.61 L944.47,72.81 L944.59,73.67 L944.70,71.27 L944.82,71.42 L944.94,71.66 L945.06,72.67 L945.18,71.62 L945.30,71.11 L945.42,71.37 L945.54,71.24 L945.65,71.14 L945.77,71.06 L945.89,72.61 L946.01,72.87 L946.13,73.20 L946.25,74.03 L946.37,73.70 L946.49,74.04 L946.61,72.09 L946.72,72.24 L946.84,72.33 L946.96,71.52 L947.08,70.83 L947.20,69.91 L947.32,71.68 L947.43,71.69 L947.55,70.95 L947.67,70.28 L947.78,69.19 L947.90,69.67 L948.02,70.04 L948.14,68.56 L948.26,67.19 L948.38,67.15 L948.50,65.21 L948.61,66.76 L948.73,66.52 L948.85,65.38 L948.97,65.30 L949.09,62.22 L949.21,62.31 L949.33,60.86 L949.44,61.48 L949.56,62.00 L949.68,60.30 L949.80,61.60 L949.92,60.55 L950.04,60.13 L950.16,61.49 L950.28,62.72 L950.39,61.84 L950.51,62.03 L950.63,61.20 L950.75,59.92 L950.87,58.97 L950.99,60.05 L951.11,58.21 L951.23,59.08 L951.35,58.57 L951.46,58.76 L951.58,60.94 L951.70,62.08 L951.82,62.13 L951.94,63.92 L952.06,61.24 L952.18,60.71 L952.30,61.39 L952.41,59.05 L952.53,59.09 L952.65,58.17 L952.77,59.76 L952.89,61.22 L953.01,62.26 L953.13,60.55 L953.25,60.49 L953.36,62.99 L953.48,64.36 L953.60,63.71 L953.72,63.72 L953.84,62.40 L953.96,63.61 L954.07,63.34 L954.19,62.48 L954.31,62.21 L954.42,64.29 L954.54,63.27 L954.66,60.55 L954.78,63.37 L954.90,62.74 L955.02,62.10 L955.13,60.53 L955.25,62.04 L955.37,62.93 L955.49,63.91 L955.61,64.51 L955.73,65.37 L955.85,65.59 L955.97,65.01 L956.09,66.02 L956.20,65.99 L956.32,64.92 L956.44,65.05 L956.56,62.13 L956.68,61.85 L956.80,60.48 L956.92,58.01 L957.03,58.31 L957.15,60.49 L957.27,61.71 L957.39,62.05 L957.51,60.55 L957.63,59.27 L957.75,59.41 L957.87,59.10 L957.99,60.02 L958.10,62.94 L958.22,64.65 L958.34,65.75 L958.46,66.88 L958.58,64.29 L958.70,64.72 L958.82,64.43 L958.93,62.91 L959.05,62.28 L959.17,61.47 L959.29,61.74 L959.41,60.55 L959.54,60.91 L959.66,59.82 L959.79,58.02 L959.91,58.75 L960.04,57.39 L960.15,58.92 L960.25,59.03 L960.36,62.13" fill="none" stroke="#0173b2" stroke-width="1.45" stroke-linejoin="round" stroke-linecap="butt"/>
<path d="M115.12,420.49 L115.25,420.69 L115.38,420.89 L115.51,421.08 L115.63,421.28 L115.76,421.48 L115.89,421.68 L116.02,421.88 L116.15,422.07 L116.28,422.27 L116.41,422.47 L116.53,422.67 L116.66,422.86 L116.79,423.06 L116.92,423.26 L117.05,423.70 L117.17,424.14 L117.30,424.58 L117.42,425.02 L117.55,425.46 L117.67,425.90 L117.80,426.34 L117.92,426.78 L118.05,427.22 L118.17,427.66 L118.30,428.10 L118.43,429.19 L118.55,432.01 L118.68,429.83 L118.80,427.53 L118.93,425.54 L119.05,426.71 L119.18,426.92 L119.30,428.42 L119.43,429.43 L119.55,429.75 L119.68,430.17 L119.81,429.56 L119.93,430.35 L120.06,428.45 L120.19,427.49 L120.31,427.44 L120.44,429.49 L120.56,428.08 L120.69,426.24 L120.82,425.10 L120.94,426.03 L121.07,425.33 L121.19,426.49 L121.31,423.33 L121.44,424.23 L121.56,425.00 L121.68,422.46 L121.80,422.03 L121.93,423.05 L122.05,422.54 L122.17,423.26 L122.29,426.95 L122.41,427.80 L122.53,427.90 L122.66,427.34 L122.78,428.69 L122.90,428.90 L123.02,429.14 L123.14,429.48 L123.27,431.23 L123.39,430.65 L123.52,429.46 L123.64,427.04 L123.77,429.53 L123.89,430.49 L124.02,433.40 L124.14,434.26 L124.27,434.12 L124.39,435.64 L124.52,436.40 L124.64,433.61 L124.76,431.33 L124.88,432.62 L125.00,432.01 L125.13,431.48 L125.25,430.01 L125.37,427.99 L125.49,428.10 L125.61,427.52 L125.74,426.06 L125.86,425.44 L125.98,423.77 L126.11,423.59 L126.23,424.68 L126.35,423.11 L126.48,424.60 L126.60,423.26 L126.73,424.26 L126.85,423.92 L126.98,424.42 L127.10,425.27 L127.23,425.48 L127.35,425.32 L127.48,425.20 L127.60,424.88 L127.73,423.56 L127.85,424.00 L127.98,425.33 L128.11,426.11 L128.23,426.54 L128.36,429.42 L128.49,429.41 L128.61,428.35 L128.74,430.43 L128.86,428.57 L128.99,429.44 L129.12,427.71 L129.24,427.74 L129.37,424.64 L129.50,425.95 L129.62,425.83 L129.75,424.61 L129.87,426.97 L130.00,428.09 L130.12,428.25 L130.25,427.33 L130.37,427.37 L130.50,427.24 L130.62,428.31 L130.75,429.48 L130.88,428.50 L131.00,427.69 L131.13,426.90 L131.25,425.00 L131.38,424.13 L131.50,423.93 L131.63,424.79 L131.75,426.50 L131.88,425.33 L132.00,426.00 L132.13,425.33 L132.26,428.17 L132.38,428.15 L132.51,428.87 L132.64,427.64 L132.76,426.59 L132.89,426.90 L133.01,426.43 L133.14,426.95 L133.27,424.88 L133.39,425.81 L133.52,424.64 L133.65,427.29 L133.77,427.23 L133.90,429.04 L134.02,427.49 L134.15,428.39 L134.27,427.52 L134.40,427.20 L134.52,427.56 L134.65,427.46 L134.77,428.14 L134.90,429.48 L135.03,430.49 L135.15,430.49 L135.28,428.78 L135.40,427.82 L135.53,427.68 L135.65,424.94 L135.78,426.08 L135.90,425.88 L136.03,425.67 L136.15,427.07 L136.28,428.10 L136.41,428.32 L136.53,426.89 L136.66,427.24 L136.79,427.63 L136.91,426.36 L137.04,427.69 L137.16,428.30 L137.29,425.57 L137.42,425.66 L137.54,423.87 L137.67,425.33 L137.80,426.29 L137.92,424.67 L138.05,423.35 L138.17,423.36 L138.30,422.90 L138.42,424.83 L138.55,425.70 L138.67,425.19 L138.80,425.84 L138.92,422.97 L139.05,423.26 L139.17,424.95 L139.30,425.22 L139.42,424.78 L139.54,426.07 L139.67,429.23 L139.79,430.02 L139.91,429.03 L140.04,431.50 L140.16,429.48 L140.29,429.84 L140.41,428.73 L140.54,429.67 L140.66,428.20 L140.79,429.67 L140.91,429.75 L141.04,427.10 L141.16,424.11 L141.29,423.36 L141.41,424.79 L141.54,424.64 L141.67,424.87 L141.79,424.69 L141.92,425.82 L142.04,426.47 L142.17,426.98 L142.29,425.79 L142.42,427.53 L142.54,429.51 L142.67,427.89 L142.79,431.14 L142.92,432.25 L143.05,431.91 L143.17,429.66 L143.30,430.87 L143.43,431.95 L143.55,431.46 L143.68,429.37 L143.80,431.21 L143.93,430.74 L144.06,430.42 L144.18,434.59 L144.31,437.78 L144.44,439.84 L144.58,440.00 L144.70,441.99 L144.83,440.03 L144.95,441.29 L145.07,441.39 L145.20,440.77 L145.32,439.75 L145.44,441.58 L145.57,442.82 L145.69,444.15 L145.82,446.47 L145.94,446.51 L146.07,446.03 L146.19,444.81 L146.32,445.54 L146.44,447.75 L146.57,448.73 L146.69,450.78 L146.82,450.37 L146.94,450.92 L147.07,451.07 L147.20,449.10 L147.32,451.32 L147.45,452.19 L147.58,450.87 L147.70,449.55 L147.83,449.19 L147.95,446.96 L148.08,447.26 L148.21,445.23 L148.33,444.44 L148.46,442.77 L148.59,442.55 L148.71,441.18 L148.84,439.48 L148.96,438.60 L149.09,438.11 L149.21,438.13 L149.34,438.65 L149.46,441.14 L149.59,442.66 L149.71,442.74 L149.84,444.15 L149.97,444.26 L150.09,447.25 L150.22,449.03 L150.34,448.24 L150.47,450.29 L150.59,452.43 L150.72,449.84 L150.84,449.87 L150.97,450.27 L151.09,448.70 L151.22,448.30 L151.35,447.43 L151.47,448.52 L151.60,449.33 L151.73,453.28 L151.85,453.16 L151.98,455.12 L152.10,455.64 L152.23,456.41 L152.36,455.25 L152.48,453.08 L152.61,452.45 L152.74,453.20 L152.86,455.05 L152.99,455.58 L153.11,455.97 L153.24,454.56 L153.36,456.34 L153.49,457.88 L153.61,456.88 L153.74,456.53 L153.86,454.90 L153.99,456.60 L154.12,457.15 L154.24,457.01 L154.37,457.56 L154.49,458.15 L154.62,457.59 L154.74,455.91 L154.87,454.18 L154.99,451.83 L155.12,452.45 L155.24,455.44 L155.37,453.14 L155.50,453.21 L155.63,453.64 L155.75,452.19 L155.88,452.35 L156.01,450.75 L156.14,452.25 L156.26,451.33 L156.39,451.35 L156.52,452.15 L156.65,451.45 L156.77,448.92 L156.90,448.08 L157.03,448.99 L157.16,448.44 L157.29,448.32 L157.41,446.42 L157.54,446.18 L157.67,446.73 L157.80,446.34 L157.92,448.48 L158.05,447.77 L158.18,445.92 L158.31,443.30 L158.43,444.42 L158.56,443.91 L158.69,444.84 L158.82,444.47 L158.94,445.67 L159.07,446.39 L159.20,444.89 L159.32,444.27 L159.45,444.74 L159.57,442.08 L159.70,443.05 L159.83,443.70 L159.95,444.03 L160.08,442.77 L160.21,443.88 L160.33,443.08 L160.46,443.86 L160.58,443.77 L160.71,444.59 L160.83,444.63 L160.96,445.72 L161.08,448.01 L161.21,446.95 L161.33,448.90 L161.46,446.92 L161.59,444.21 L161.71,444.25 L161.84,444.47 L161.96,445.27 L162.09,443.25 L162.21,443.38 L162.34,443.76 L162.46,445.66 L162.59,445.72 L162.71,446.64 L162.84,445.53 L162.96,446.62 L163.09,447.36 L163.21,449.65 L163.33,449.66 L163.46,449.88 L163.58,452.00 L163.70,455.76 L163.83,457.62 L163.95,459.37 L164.08,459.08 L164.20,460.72 L164.33,461.62 L164.45,464.13 L164.58,464.75 L164.70,463.65 L164.83,463.05 L164.95,461.89 L165.08,460.38 L165.20,462.26 L165.33,463.52 L165.46,462.19 L165.58,464.93 L165.71,465.60 L165.84,464.65 L165.96,465.51 L166.09,465.76 L166.21,465.05 L166.34,462.77 L166.47,463.16 L166.59,463.89 L166.72,460.75 L166.84,462.15 L166.96,463.64 L167.09,463.65 L167.21,464.46 L167.33,464.73 L167.45,464.25 L167.58,464.42 L167.70,466.90 L167.82,465.59 L167.95,465.35 L168.07,465.03 L168.20,463.51 L168.33,462.36 L168.45,459.90 L168.58,458.19 L168.70,457.65 L168.83,457.53 L168.96,455.75 L169.08,459.31 L169.21,457.98 L169.33,458.81 L169.45,459.16 L169.58,459.28 L169.70,461.69 L169.82,461.71 L169.94,464.17 L170.07,466.37 L170.19,465.61 L170.31,467.67 L170.44,468.49 L170.56,473.88 L170.69,475.06 L170.82,475.49 L170.94,474.61 L171.07,474.56 L171.19,475.47 L171.32,475.82 L171.45,475.86 L171.57,476.62 L171.70,478.04 L171.82,480.11 L171.95,477.93 L172.07,477.30 L172.20,476.13 L172.32,474.20 L172.44,472.60 L172.57,471.49 L172.69,472.58 L172.82,472.43 L172.94,471.82 L173.07,472.99 L173.19,473.71 L173.32,473.75 L173.44,474.61 L173.57,473.84 L173.69,475.03 L173.82,476.00 L173.94,475.79 L174.07,474.48 L174.19,476.88 L174.32,477.35 L174.44,479.75 L174.56,477.15 L174.68,476.59 L174.81,474.28 L174.93,472.91 L175.05,472.32 L175.17,469.52 L175.29,467.67 L175.42,467.02 L175.54,466.30 L175.67,466.24 L175.80,466.75 L175.92,467.01 L176.05,466.50 L176.17,465.16 L176.30,462.76 L176.43,460.90 L176.55,459.32 L176.68,459.37 L176.81,459.24 L176.93,457.93 L177.06,459.13 L177.18,458.41 L177.31,457.74 L177.43,457.80 L177.56,458.80 L177.68,455.90 L177.81,454.75 L177.93,455.35 L178.06,455.22 L178.19,454.13 L178.31,453.48 L178.44,455.43 L178.56,454.89 L178.69,455.94 L178.81,457.08 L178.94,456.56 L179.06,457.23 L179.19,456.71 L179.31,455.96 L179.44,454.52 L179.57,455.38 L179.69,454.51 L179.82,453.44 L179.95,451.60 L180.07,453.72 L180.20,454.39 L180.32,453.89 L180.45,452.63 L180.58,450.24 L180.70,450.31 L180.83,450.37 L180.96,448.94 L181.08,450.97 L181.21,452.49 L181.33,451.66 L181.46,451.37 L181.58,451.27 L181.71,451.95 L181.83,452.22 L181.96,450.48 L182.08,452.94 L182.21,453.83 L182.34,455.09 L182.46,456.35 L182.59,455.63 L182.71,455.65 L182.84,456.20 L182.96,456.80 L183.09,456.14 L183.21,454.86 L183.34,454.47 L183.46,452.95 L183.59,451.76 L183.71,450.37 L183.83,451.84 L183.95,451.81 L184.06,452.41 L184.18,453.69 L184.30,455.47 L184.42,459.37 L184.54,458.63 L184.66,455.70 L184.78,454.86 L184.90,453.03 L185.03,452.55 L185.15,450.61 L185.27,448.63 L185.39,446.92 L185.51,445.20 L185.63,441.87 L185.75,440.10 L185.88,439.21 L186.00,439.96 L186.12,438.69 L186.24,437.32 L186.36,437.23 L186.48,436.56 L186.60,437.32 L186.72,436.72 L186.83,435.29 L186.95,435.70 L187.07,436.37 L187.19,434.33 L187.31,436.57 L187.43,436.34 L187.55,437.87 L187.68,438.71 L187.80,440.45 L187.92,441.83 L188.04,443.64 L188.16,445.53 L188.29,447.16 L188.41,448.44 L188.54,448.65 L188.66,447.87 L188.79,450.51 L188.91,453.39 L189.04,453.74 L189.16,455.46 L189.29,454.37 L189.41,453.23 L189.54,453.83 L189.67,455.52 L189.79,453.81 L189.92,452.38 L190.04,454.26 L190.17,451.40 L190.29,451.98 L190.42,452.34 L190.54,451.76 L190.67,451.72 L190.79,454.96 L190.92,453.14 L191.05,453.88 L191.17,454.73 L191.30,454.96 L191.43,454.32 L191.55,457.63 L191.68,459.10 L191.80,457.89 L191.93,458.10 L192.06,459.82 L192.18,461.53 L192.31,460.75 L192.44,460.83 L192.56,461.39 L192.69,462.13 L192.81,462.87 L192.94,460.61 L193.06,463.31 L193.19,463.80 L193.31,466.45 L193.44,470.52 L193.56,470.51 L193.69,469.05 L193.81,472.65 L193.92,474.85 L194.03,476.67 L194.15,477.72 L194.26,482.43 L194.38,484.27 L194.52,487.04 L194.66,491.09 L194.80,494.18 L194.94,499.05 L195.06,497.48 L195.18,495.04 L195.30,494.84 L195.41,492.97 L195.53,492.93 L195.65,493.63 L195.77,492.13 L195.89,492.87 L196.01,494.75 L196.13,497.56 L196.24,499.17 L196.36,500.97 L196.48,502.55 L196.60,504.58 L196.72,507.14 L196.85,507.89 L196.97,508.95 L197.09,510.72 L197.22,511.52 L197.34,513.42 L197.46,515.85 L197.59,517.53 L197.71,518.42 L197.83,517.30 L197.95,519.59 L198.08,520.71 L198.20,519.13 L198.32,517.92 L198.44,520.38 L198.57,522.35 L198.69,522.46 L198.81,523.95 L198.94,521.69 L199.06,521.44 L199.19,522.18 L199.31,519.42 L199.44,518.11 L199.56,518.91 L199.69,520.19 L199.81,519.13 L199.94,519.27 L200.06,521.18 L200.18,521.55 L200.30,520.64 L200.42,521.44 L200.55,521.80 L200.67,524.44 L200.79,525.55 L200.91,525.35 L201.03,529.48 L201.15,529.35 L201.27,530.53 L201.40,531.98 L201.52,533.59 L201.64,534.36 L201.76,535.70 L201.89,536.15 L202.01,534.77 L202.13,535.02 L202.25,535.64 L202.37,536.30 L202.49,537.37 L202.62,537.42 L202.74,540.10 L202.86,543.10 L202.98,541.03 L203.10,541.93 L203.22,542.13 L203.34,539.78 L203.46,541.49 L203.57,541.82 L203.69,542.48 L203.81,542.76 L203.93,545.39 L204.05,545.97 L204.17,545.26 L204.29,545.11 L204.42,543.86 L204.54,542.97 L204.66,540.87 L204.78,539.83 L204.90,537.78 L205.02,535.48 L205.14,533.78 L205.26,531.40 L205.37,530.19 L205.49,531.01 L205.61,525.36 L205.73,522.57 L205.85,523.46 L205.97,524.50 L206.09,524.32 L206.20,526.05 L206.32,527.36 L206.44,528.17 L206.56,529.48 L206.68,528.93 L206.81,526.02 L206.93,527.73 L207.05,527.57 L207.18,526.54 L207.30,527.21 L207.42,526.56 L207.55,523.88 L207.67,525.33 L207.79,521.06 L207.91,518.76 L208.03,516.91 L208.14,516.72 L208.26,516.32 L208.38,514.54 L208.50,511.50 L208.62,510.24 L208.74,511.01 L208.86,512.72 L208.98,512.76 L209.10,511.19 L209.22,511.88 L209.34,510.67 L209.46,509.42 L209.58,509.93 L209.70,511.61 L209.82,512.87 L209.94,515.10 L210.07,517.74 L210.19,519.32 L210.31,517.05 L210.43,515.65 L210.55,515.37 L210.68,514.79 L210.80,517.21 L210.92,516.67 L211.05,515.97 L211.17,516.75 L211.29,517.70 L211.42,516.89 L211.54,517.03 L211.66,513.88 L211.79,510.98 L211.91,511.02 L212.03,507.50 L212.16,507.12 L212.28,506.42 L212.40,505.83 L212.53,505.44 L212.65,504.58 L212.77,502.78 L212.90,502.51 L213.02,502.78 L213.15,505.10 L213.27,504.67 L213.39,504.80 L213.52,505.40 L213.64,508.26 L213.77,507.40 L213.89,506.66 L214.01,508.66 L214.14,506.94 L214.26,508.54 L214.38,509.08 L214.51,508.10 L214.63,508.68 L214.75,508.48 L214.88,509.86 L215.00,511.50 L215.12,514.25 L215.24,514.97 L215.36,515.84 L215.49,515.80 L215.61,516.50 L215.73,518.66 L215.85,516.79 L215.97,518.42 L216.09,517.90 L216.21,518.21 L216.34,518.85 L216.46,520.20 L216.58,520.73 L216.70,520.40 L216.83,521.03 L216.95,521.25 L217.07,521.18 L217.19,522.52 L217.31,524.76 L217.43,526.02 L217.56,527.29 L217.68,526.62 L217.80,527.51 L217.92,526.06 L218.04,528.10 L218.16,524.89 L218.28,524.70 L218.40,526.81 L218.52,524.33 L218.65,524.19 L218.77,522.79 L218.89,520.10 L219.01,517.03 L219.13,519.79 L219.25,523.68 L219.37,526.16 L219.48,526.12 L219.60,526.72 L219.72,528.41 L219.84,532.25 L219.96,530.90 L220.08,529.61 L220.20,529.50 L220.32,527.49 L220.45,525.64 L220.57,523.66 L220.69,519.52 L220.81,518.42 L220.93,519.30 L221.05,520.94 L221.17,519.66 L221.30,518.88 L221.42,520.47 L221.54,521.23 L221.66,523.41 L221.78,522.57 L221.90,522.11 L222.02,520.47 L222.15,520.15 L222.27,518.77 L222.39,518.76 L222.51,519.49 L222.64,519.67 L222.76,516.49 L222.88,517.03 L223.00,519.47 L223.12,519.90 L223.24,520.54 L223.37,522.39 L223.49,525.01 L223.61,526.23 L223.73,525.88 L223.85,528.10 L223.97,529.31 L224.08,533.58 L224.19,532.82 L224.31,537.21 L224.42,540.54 L224.54,541.93 L224.66,543.92 L224.79,543.81 L224.91,544.89 L225.03,543.65 L225.16,543.51 L225.28,541.90 L225.40,539.53 L225.53,538.91 L225.65,537.78 L225.77,539.40 L225.90,541.97 L226.02,542.59 L226.14,543.52 L226.27,544.63 L226.39,543.21 L226.51,544.43 L226.64,545.29 L226.76,546.08 L226.88,543.34 L227.00,539.41 L227.12,537.82 L227.24,536.99 L227.36,537.55 L227.48,537.82 L227.60,538.53 L227.72,537.78 L227.84,538.32 L227.97,537.02 L228.09,536.85 L228.21,537.09 L228.34,539.70 L228.46,539.01 L228.58,536.27 L228.71,537.11 L228.83,535.02 L228.95,533.78 L229.07,532.22 L229.19,529.84 L229.31,530.48 L229.44,530.13 L229.56,528.14 L229.68,527.07 L229.80,525.33 L229.92,525.37 L230.05,524.06 L230.17,522.24 L230.29,520.57 L230.42,519.19 L230.54,518.79 L230.66,516.76 L230.79,515.84 L230.91,515.65 L231.03,518.55 L231.15,519.46 L231.28,515.18 L231.40,514.23 L231.52,513.45 L231.64,513.63 L231.77,515.49 L231.89,516.24 L232.01,512.88 L232.13,512.38 L232.26,511.61 L232.38,511.25 L232.50,512.18 L232.63,509.79 L232.75,510.36 L232.87,507.22 L233.00,506.37 L233.12,505.97 L233.24,508.19 L233.37,506.38 L233.49,503.23 L233.61,503.30 L233.74,501.54 L233.86,502.79 L233.98,500.97 L234.11,498.92 L234.23,499.74 L234.35,500.89 L234.47,503.28 L234.60,502.39 L234.72,505.65 L234.84,505.89 L234.96,508.04 L235.09,507.72 L235.21,506.66 L235.33,507.35 L235.46,507.28 L235.58,509.10 L235.71,509.27 L235.84,509.93 L235.96,510.51 L236.09,514.41 L236.21,513.00 L236.34,514.38 L236.47,513.88 L236.59,513.92 L236.72,512.88 L236.84,512.70 L236.96,509.25 L237.09,505.71 L237.21,503.68 L237.33,500.36 L237.45,499.56 L237.58,499.05 L237.70,496.28 L237.82,495.59 L237.95,495.63 L238.07,496.50 L238.20,497.45 L238.33,500.91 L238.45,501.85 L238.58,501.55 L238.70,501.25 L238.83,503.80 L238.96,502.48 L239.08,502.78 L239.21,503.20 L239.33,498.98 L239.45,497.44 L239.58,497.89 L239.70,497.29 L239.82,495.17 L239.94,495.19 L240.07,494.98 L240.19,496.81 L240.31,494.90 L240.43,495.40 L240.56,496.47 L240.68,497.31 L240.80,498.45 L240.93,499.32 L241.05,499.41 L241.17,498.26 L241.30,498.53 L241.42,497.67 L241.54,495.46 L241.67,493.93 L241.79,493.82 L241.91,494.18 L242.04,491.98 L242.16,491.59 L242.28,491.87 L242.41,491.00 L242.53,487.98 L242.66,485.46 L242.78,486.92 L242.91,488.54 L243.03,489.29 L243.16,488.25 L243.28,490.59 L243.41,492.61 L243.53,492.93 L243.66,493.01 L243.78,490.74 L243.91,492.13 L244.03,488.77 L244.16,488.50 L244.28,488.30 L244.40,487.24 L244.53,488.19 L244.65,486.57 L244.77,486.18 L244.90,486.07 L245.02,485.22 L245.14,483.03 L245.26,483.07 L245.38,482.02 L245.49,480.14 L245.61,478.29 L245.73,476.84 L245.85,478.30 L245.97,479.89 L246.09,481.01 L246.22,481.02 L246.34,480.82 L246.46,479.71 L246.58,481.47 L246.71,482.96 L246.83,483.01 L246.95,482.45 L247.07,483.99 L247.19,485.26 L247.31,485.43 L247.42,487.81 L247.54,489.98 L247.66,491.88 L247.78,494.90 L247.90,494.76 L248.03,497.34 L248.15,496.71 L248.27,498.14 L248.40,499.74 L248.52,500.12 L248.64,501.34 L248.77,500.34 L248.89,499.05 L249.02,498.58 L249.14,497.40 L249.27,498.00 L249.39,497.84 L249.52,498.48 L249.64,498.71 L249.77,498.79 L249.89,498.72 L250.02,498.02 L250.14,497.19 L250.27,499.74 L250.39,498.44 L250.52,499.27 L250.64,501.71 L250.76,503.36 L250.89,506.34 L251.01,508.16 L251.13,507.53 L251.26,508.17 L251.38,507.35 L251.50,508.36 L251.63,509.98 L251.75,509.06 L251.87,509.47 L252.00,508.59 L252.12,506.32 L252.24,505.39 L252.37,502.92 L252.49,501.82 L252.61,501.26 L252.73,501.40 L252.86,502.31 L252.98,501.01 L253.10,500.49 L253.22,500.21 L253.35,500.11 L253.47,495.42 L253.59,493.52 L253.71,494.68 L253.84,493.26 L253.96,493.68 L254.08,494.89 L254.21,492.41 L254.33,492.24 L254.45,492.64 L254.58,492.74 L254.70,490.75 L254.82,492.18 L254.95,492.39 L255.07,494.47 L255.19,496.01 L255.32,496.23 L255.44,497.42 L255.56,497.45 L255.69,497.46 L255.81,496.28 L255.93,496.47 L256.05,498.06 L256.18,498.71 L256.30,499.18 L256.42,498.82 L256.54,498.60 L256.67,500.09 L256.79,498.56 L256.91,501.82 L257.03,501.37 L257.16,503.93 L257.28,505.14 L257.40,504.20 L257.53,504.82 L257.65,504.78 L257.77,505.02 L257.90,505.71 L258.02,504.58 L258.14,503.38 L258.27,502.45 L258.39,500.23 L258.51,499.50 L258.64,499.44 L258.76,499.40 L258.88,499.28 L259.01,498.37 L259.13,499.05 L259.25,496.90 L259.37,496.98 L259.50,497.15 L259.62,498.97 L259.74,500.47 L259.86,502.15 L259.99,502.77 L260.11,504.65 L260.23,503.89 L260.36,504.59 L260.48,502.33 L260.61,505.24 L260.74,507.98 L260.86,507.77 L260.99,507.21 L261.11,504.96 L261.24,503.48 L261.37,504.23 L261.49,504.61 L261.62,503.20 L261.74,502.21 L261.86,501.00 L261.99,501.31 L262.11,501.96 L262.23,501.35 L262.35,501.19 L262.48,500.87 L262.60,497.74 L262.72,497.67 L262.84,497.31 L262.97,498.06 L263.09,495.32 L263.21,496.08 L263.34,494.95 L263.46,495.05 L263.58,496.42 L263.71,494.16 L263.83,492.13 L263.96,493.30 L264.08,491.59 L264.21,490.13 L264.33,490.77 L264.46,490.33 L264.58,491.21 L264.71,491.45 L264.83,491.25 L264.96,492.41 L265.08,495.20 L265.21,494.90 L265.34,496.52 L265.46,497.66 L265.59,497.43 L265.72,497.67 L265.84,496.02 L265.97,494.80 L266.09,494.80 L266.22,494.35 L266.35,495.73 L266.47,493.60 L266.60,492.82 L266.73,491.19 L266.85,490.22 L266.98,491.03 L267.10,488.63 L267.23,489.01 L267.35,487.45 L267.48,486.25 L267.60,486.83 L267.73,485.69 L267.85,485.83 L267.98,485.22 L268.10,484.91 L268.23,484.34 L268.35,481.92 L268.47,480.83 L268.60,480.98 L268.72,481.18 L268.84,479.09 L268.97,480.37 L269.09,481.07 L269.21,479.24 L269.33,477.77 L269.46,478.39 L269.58,475.94 L269.70,474.88 L269.82,474.74 L269.95,474.51 L270.07,474.37 L270.19,474.84 L270.31,474.96 L270.44,475.50 L270.56,479.47 L270.68,478.78 L270.81,479.37 L270.93,480.73 L271.05,481.06 L271.18,483.91 L271.30,485.22 L271.42,485.02 L271.55,480.26 L271.67,480.64 L271.79,480.97 L271.92,478.73 L272.04,479.27 L272.16,478.41 L272.29,478.45 L272.41,479.68 L272.54,479.46 L272.66,477.73 L272.79,477.36 L272.91,475.28 L273.04,473.84 L273.16,472.45 L273.29,471.14 L273.41,472.36 L273.54,473.15 L273.66,471.59 L273.79,472.77 L273.92,470.15 L274.05,468.91 L274.17,468.38 L274.30,469.64 L274.43,470.27 L274.56,470.55 L274.68,471.97 L274.81,472.60 L274.94,474.11 L275.07,472.72 L275.19,470.10 L275.32,469.21 L275.45,470.00 L275.57,469.40 L275.69,469.65 L275.81,469.66 L275.93,469.41 L276.05,469.57 L276.18,467.73 L276.30,468.33 L276.43,466.09 L276.55,465.06 L276.68,462.27 L276.81,462.08 L276.93,459.11 L277.06,460.14 L277.18,457.44 L277.31,456.92 L277.44,457.04 L277.56,456.15 L277.69,458.15 L277.82,457.87 L277.94,460.16 L278.07,459.08 L278.20,458.30 L278.33,455.90 L278.45,456.96 L278.58,458.50 L278.71,458.19 L278.83,457.35 L278.96,455.50 L279.08,458.06 L279.21,458.45 L279.34,455.34 L279.46,454.31 L279.59,450.17 L279.71,451.69 L279.84,453.75 L279.97,455.26 L280.09,454.72 L280.22,453.45 L280.35,451.09 L280.48,451.34 L280.60,449.87 L280.73,448.89 L280.86,447.56 L280.98,446.68 L281.11,447.43 L281.24,448.47 L281.36,447.44 L281.49,446.22 L281.61,443.47 L281.74,440.57 L281.87,437.89 L281.99,437.85 L282.12,436.95 L282.24,437.02 L282.37,436.36 L282.50,434.78 L282.62,432.06 L282.75,430.53 L282.88,427.56 L283.00,429.24 L283.13,428.57 L283.26,427.04 L283.39,428.71 L283.51,427.16 L283.64,426.88 L283.76,428.11 L283.88,430.04 L283.99,430.99 L284.11,433.10 L284.23,436.49 L284.34,436.22 L284.46,434.65 L284.58,437.94 L284.70,439.24 L284.82,441.49 L284.94,442.17 L285.05,445.34 L285.17,448.89 L285.29,448.37 L285.41,450.35 L285.53,450.59 L285.65,448.01 L285.77,447.21 L285.89,447.60 L286.00,445.34 L286.12,443.20 L286.24,444.48 L286.36,444.12 L286.48,444.27 L286.60,444.69 L286.72,445.78 L286.84,447.92 L286.96,450.15 L287.07,452.32 L287.19,456.45 L287.31,458.63 L287.43,458.50 L287.56,457.06 L287.68,456.73 L287.81,458.22 L287.94,457.02 L288.06,456.22 L288.19,455.92 L288.32,454.68 L288.45,453.28 L288.57,452.68 L288.70,453.75 L288.83,455.37 L288.95,455.93 L289.08,457.44 L289.20,456.64 L289.33,458.95 L289.46,460.91 L289.58,462.26 L289.71,460.99 L289.83,464.71 L289.96,461.66 L290.09,460.57 L290.21,459.59 L290.34,460.81 L290.47,459.03 L290.60,459.63 L290.72,459.69 L290.85,459.56 L290.98,461.00 L291.10,463.22 L291.23,464.03 L291.36,462.56 L291.48,458.35 L291.61,459.26 L291.73,457.76 L291.86,454.14 L291.99,453.26 L292.11,454.15 L292.24,452.86 L292.36,450.18 L292.49,452.17 L292.62,451.99 L292.74,451.44 L292.87,451.81 L292.99,447.82 L293.12,446.71 L293.25,445.48 L293.37,447.56 L293.50,445.78 L293.62,444.02 L293.75,441.11 L293.88,438.85 L294.00,437.43 L294.13,436.66 L294.26,435.25 L294.38,436.86 L294.51,436.40 L294.64,436.14 L294.77,436.88 L294.89,436.62 L295.02,434.78 L295.15,432.07 L295.27,431.97 L295.40,430.24 L295.52,431.45 L295.65,429.81 L295.78,426.17 L295.90,425.64 L296.03,426.52 L296.15,425.64 L296.28,425.30 L296.40,424.01 L296.52,424.86 L296.64,423.77 L296.75,422.21 L296.87,419.86 L296.99,416.11 L297.11,416.53 L297.23,416.60 L297.36,416.25 L297.48,418.04 L297.61,419.44 L297.74,419.88 L297.87,420.40 L297.99,422.39 L298.12,421.69 L298.25,421.93 L298.37,422.78 L298.50,423.72 L298.63,424.17 L298.75,425.22 L298.88,426.69 L299.00,426.20 L299.13,427.06 L299.26,427.08 L299.38,429.89 L299.51,428.71 L299.63,429.13 L299.76,430.83 L299.88,428.99 L300.00,427.08 L300.12,424.89 L300.24,423.87 L300.35,420.82 L300.47,419.26 L300.59,417.68 L300.71,414.23 L300.83,413.80 L300.95,412.36 L301.07,411.99 L301.19,412.37 L301.30,412.05 L301.42,409.64 L301.54,409.30 L301.66,406.32 L301.79,403.69 L301.92,404.39 L302.06,402.82 L302.19,403.38 L302.32,401.56 L302.45,400.00 L302.58,400.05 L302.71,402.91 L302.85,404.22 L302.98,406.65 L303.11,408.83 L303.24,411.15 L303.36,412.18 L303.48,412.72 L303.60,413.31 L303.72,412.96 L303.83,410.66 L303.95,411.93 L304.07,415.38 L304.19,417.47 L304.31,419.23 L304.43,418.46 L304.55,415.72 L304.66,412.95 L304.78,412.55 L304.90,411.60 L305.02,409.96 L305.14,409.57 L305.26,407.21 L305.38,406.77 L305.50,405.23 L305.62,404.29 L305.73,404.76 L305.85,403.42 L305.97,404.15 L306.09,404.82 L306.22,403.95 L306.34,407.30 L306.47,405.78 L306.59,405.82 L306.72,407.00 L306.85,404.07 L306.97,405.66 L307.10,407.40 L307.22,407.42 L307.35,407.98 L307.48,407.87 L307.60,407.18 L307.73,408.25 L307.86,407.34 L307.99,406.88 L308.11,406.98 L308.24,407.74 L308.37,408.85 L308.49,406.42 L308.62,403.24 L308.75,402.38 L308.87,401.63 L309.00,399.48 L309.12,399.23 L309.25,399.41 L309.38,399.26 L309.50,400.85 L309.63,398.76 L309.75,398.11 L309.88,400.08 L310.01,399.74 L310.13,396.93 L310.26,395.94 L310.39,396.28 L310.51,397.85 L310.64,397.48 L310.77,397.81 L310.90,395.01 L311.02,393.39 L311.15,393.75 L311.27,392.10 L311.38,391.68 L311.50,388.78 L311.62,390.47 L311.74,389.95 L311.85,390.39 L311.97,387.99 L312.09,385.85 L312.21,387.50 L312.33,386.20 L312.45,384.62 L312.56,384.48 L312.68,384.40 L312.80,380.88 L312.92,378.71 L313.04,377.94 L313.16,377.34 L313.28,377.21 L313.40,376.01 L313.51,375.02 L313.63,374.71 L313.75,373.15 L313.87,371.40 L313.99,370.04 L314.12,370.03 L314.24,369.81 L314.37,369.13 L314.50,368.77 L314.62,368.68 L314.75,369.10 L314.88,369.57 L315.01,367.79 L315.13,369.09 L315.26,366.88 L315.39,367.17 L315.51,365.75 L315.64,366.08 L315.76,367.07 L315.89,364.04 L316.02,364.40 L316.14,364.31 L316.27,363.21 L316.39,363.27 L316.52,362.13 L316.65,361.30 L316.77,358.87 L316.90,358.94 L317.03,358.75 L317.15,358.76 L317.28,356.87 L317.41,358.38 L317.54,360.07 L317.66,358.96 L317.79,357.39 L317.92,356.40 L318.04,356.91 L318.17,357.88 L318.29,356.43 L318.42,353.24 L318.55,353.43 L318.67,352.94 L318.80,352.74 L318.92,353.02 L319.05,351.07 L319.18,350.79 L319.30,350.01 L319.43,350.15 L319.56,351.43 L319.69,351.06 L319.81,349.51 L319.94,350.83 L320.07,351.41 L320.19,350.75 L320.32,347.91 L320.45,346.22 L320.57,345.92 L320.70,346.16 L320.82,344.94 L320.95,345.03 L321.08,343.65 L321.20,342.57 L321.33,342.78 L321.45,341.90 L321.58,341.58 L321.70,344.05 L321.82,346.86 L321.94,347.34 L322.05,348.27 L322.17,347.75 L322.29,347.25 L322.41,348.93 L322.53,349.49 L322.65,348.99 L322.77,351.72 L322.89,352.59 L323.00,354.18 L323.12,356.76 L323.24,359.31 L323.36,361.24 L323.48,360.55 L323.61,362.60 L323.73,363.07 L323.86,362.43 L323.98,360.72 L324.11,363.79 L324.24,365.26 L324.36,366.69 L324.49,368.80 L324.61,369.97 L324.74,369.25 L324.87,368.53 L324.99,368.24 L325.12,367.30 L325.25,367.75 L325.38,368.69 L325.50,365.97 L325.63,363.73 L325.76,363.30 L325.88,361.90 L326.01,360.55 L326.14,362.79 L326.26,364.77 L326.39,365.14 L326.51,366.29 L326.64,366.30 L326.77,367.02 L326.89,366.49 L327.02,364.81 L327.14,365.12 L327.27,365.30 L327.40,365.86 L327.52,367.34 L327.65,366.73 L327.78,366.72 L327.90,365.22 L328.03,363.33 L328.16,362.30 L328.29,361.27 L328.41,361.04 L328.54,360.55 L328.67,362.42 L328.79,361.76 L328.92,359.16 L329.04,358.95 L329.17,357.69 L329.30,357.60 L329.42,358.76 L329.55,357.52 L329.67,357.06 L329.80,357.39 L329.92,355.60 L330.04,355.37 L330.16,355.60 L330.27,356.18 L330.39,357.15 L330.51,357.39 L330.63,357.41 L330.75,355.02 L330.87,353.55 L330.99,354.39 L331.11,358.45 L331.23,360.75 L331.34,359.86 L331.46,361.43 L331.58,364.07 L331.70,363.72 L331.83,364.01 L331.95,361.99 L332.08,362.91 L332.20,362.48 L332.33,366.18 L332.46,363.91 L332.58,363.82 L332.71,361.35 L332.83,362.43 L332.96,362.13 L333.09,364.31 L333.21,365.38 L333.34,364.73 L333.47,364.79 L333.60,364.06 L333.72,363.59 L333.85,364.72 L333.98,367.10 L334.10,369.20 L334.23,370.83 L334.36,368.97 L334.48,368.56 L334.61,366.31 L334.73,365.49 L334.86,365.52 L334.99,364.17 L335.11,362.44 L335.24,360.76 L335.36,360.49 L335.49,358.97 L335.62,356.52 L335.74,355.42 L335.87,353.44 L336.00,354.92 L336.12,354.40 L336.25,351.88 L336.38,351.70 L336.51,352.12 L336.63,352.09 L336.76,351.07 L336.89,351.25 L337.01,351.60 L337.14,352.93 L337.26,353.39 L337.39,356.42 L337.52,356.11 L337.64,358.14 L337.77,358.15 L337.89,355.83 L338.02,354.23 L338.15,352.60 L338.27,351.11 L338.40,353.54 L338.53,353.48 L338.65,355.11 L338.78,354.73 L338.91,355.53 L339.04,354.93 L339.16,356.91 L339.29,357.39 L339.42,357.00 L339.54,357.00 L339.67,360.14 L339.79,360.96 L339.92,362.31 L340.05,360.85 L340.17,360.20 L340.30,360.81 L340.42,358.54 L340.55,360.55 L340.67,359.29 L340.79,357.63 L340.91,355.74 L341.02,353.80 L341.14,351.49 L341.26,351.73 L341.38,351.03 L341.50,351.07 L341.63,350.54 L341.75,349.23 L341.88,350.93 L342.01,349.17 L342.13,348.22 L342.26,349.05 L342.39,350.39 L342.52,348.49 L342.64,348.00 L342.77,347.91 L342.90,347.82 L343.02,346.75 L343.15,347.75 L343.27,347.13 L343.40,346.89 L343.53,343.96 L343.65,343.90 L343.78,341.38 L343.90,342.41 L344.03,343.16 L344.16,342.10 L344.28,341.94 L344.41,341.71 L344.54,341.14 L344.66,341.25 L344.79,340.70 L344.92,339.69 L345.05,338.24 L345.17,340.12 L345.30,340.00 L345.39,332.92 L345.49,326.83 L345.62,326.66 L345.74,326.50 L345.87,327.75 L346.00,329.49 L346.12,330.74 L346.25,329.11 L346.38,329.54 L346.51,329.86 L346.63,330.82 L346.76,329.99 L346.88,329.84 L347.00,330.94 L347.12,331.01 L347.24,330.84 L347.35,332.00 L347.47,334.50 L347.59,335.94 L347.71,338.69 L347.84,338.72 L347.96,341.03 L348.09,342.38 L348.21,342.57 L348.34,343.38 L348.47,343.59 L348.59,344.67 L348.72,345.03 L348.84,348.08 L348.97,348.96 L349.10,346.55 L349.22,345.77 L349.35,345.77 L349.48,344.83 L349.61,345.47 L349.73,343.73 L349.86,342.08 L349.99,343.73 L350.11,343.22 L350.24,343.43 L350.37,343.41 L350.49,343.49 L350.62,342.86 L350.74,341.92 L350.87,342.68 L351.00,341.35 L351.12,340.82 L351.25,341.04 L351.37,339.83 L351.50,337.11 L351.63,338.10 L351.75,339.92 L351.88,340.64 L352.01,338.80 L352.13,340.03 L352.26,343.03 L352.39,341.36 L352.52,338.14 L352.64,338.20 L352.77,338.69 L352.90,338.77 L353.02,338.91 L353.15,338.08 L353.27,337.84 L353.40,337.34 L353.53,336.55 L353.65,335.52 L353.78,334.37 L353.90,334.35 L354.03,333.94 L354.15,333.34 L354.27,334.75 L354.39,333.75 L354.50,333.41 L354.62,333.56 L354.74,331.01 L354.86,330.48 L354.98,331.57 L355.10,331.80 L355.22,329.38 L355.34,327.44 L355.46,325.18 L355.57,324.02 L355.69,323.09 L355.81,320.15 L355.93,319.72 L356.05,319.40 L356.17,318.89 L356.29,317.59 L356.40,316.94 L356.52,314.18 L356.64,314.08 L356.76,313.94 L356.88,313.39 L357.00,311.89 L357.12,313.62 L357.24,315.17 L357.36,312.75 L357.47,313.35 L357.59,313.61 L357.71,310.28 L357.83,311.02 L357.95,312.71 L358.06,314.48 L358.18,315.53 L358.30,315.50 L358.42,315.66 L358.53,317.16 L358.65,319.53 L358.77,319.72 L358.90,319.73 L359.02,321.03 L359.15,318.58 L359.28,319.54 L359.40,319.62 L359.53,317.12 L359.66,318.51 L359.79,317.69 L359.91,319.11 L360.04,321.30 L360.16,320.74 L360.28,320.23 L360.40,321.29 L360.51,320.07 L360.63,322.10 L360.75,323.42 L360.87,325.79 L360.99,324.46 L361.11,326.43 L361.23,328.74 L361.35,328.08 L361.47,330.96 L361.58,330.86 L361.70,332.80 L361.82,332.78 L361.94,335.53 L362.07,337.82 L362.19,337.96 L362.32,338.06 L362.44,339.83 L362.57,339.30 L362.70,339.43 L362.82,340.58 L362.95,341.21 L363.07,343.35 L363.20,345.01 L363.33,347.29 L363.45,347.02 L363.58,348.25 L363.71,346.94 L363.84,347.91 L363.96,350.00 L364.09,352.88 L364.22,351.03 L364.34,350.60 L364.47,351.34 L364.60,350.43 L364.72,351.39 L364.85,352.35 L364.97,351.96 L365.10,351.50 L365.23,350.54 L365.35,351.19 L365.48,353.11 L365.60,353.75 L365.73,357.66 L365.85,353.96 L365.97,351.45 L366.09,350.60 L366.21,347.35 L366.32,346.06 L366.44,345.40 L366.56,343.89 L366.68,341.85 L366.80,342.19 L366.92,341.85 L367.04,341.91 L367.15,341.73 L367.27,339.95 L367.39,337.59 L367.51,336.19 L367.63,335.53 L367.75,334.53 L367.87,335.04 L367.99,334.63 L368.11,335.17 L368.22,334.58 L368.34,332.88 L368.46,333.24 L368.58,333.15 L368.70,332.91 L368.82,333.23 L368.94,337.80 L369.05,334.18 L369.17,336.53 L369.29,337.47 L369.41,338.23 L369.53,338.69 L369.65,337.52 L369.76,340.17 L369.88,339.08 L370.00,338.18 L370.12,338.74 L370.24,338.75 L370.35,338.00 L370.47,337.11 L370.59,337.08 L370.71,340.26 L370.83,340.59 L370.95,339.10 L371.06,342.23 L371.18,344.96 L371.30,347.14 L371.42,348.17 L371.55,350.76 L371.67,350.32 L371.80,348.40 L371.93,349.62 L372.06,351.69 L372.18,353.52 L372.31,357.29 L372.44,359.40 L372.56,360.09 L372.69,360.82 L372.82,361.20 L372.94,360.30 L373.07,359.31 L373.19,356.13 L373.32,354.90 L373.45,352.35 L373.57,351.85 L373.70,351.21 L373.82,351.34 L373.95,352.92 L374.08,352.74 L374.20,354.74 L374.33,353.29 L374.46,353.57 L374.59,354.91 L374.71,357.60 L374.84,356.18 L374.97,355.90 L375.09,356.15 L375.22,356.08 L375.34,356.48 L375.46,355.97 L375.58,356.00 L375.70,357.58 L375.81,357.46 L375.93,361.53 L376.05,364.86 L376.17,363.98 L376.30,363.70 L376.42,365.87 L376.55,368.20 L376.67,370.09 L376.80,368.55 L376.93,368.43 L377.05,370.54 L377.18,371.06 L377.30,370.83 L377.43,371.89 L377.56,372.94 L377.68,372.85 L377.81,372.91 L377.94,374.07 L378.06,373.04 L378.19,371.53 L378.32,372.28 L378.45,370.39 L378.57,370.78 L378.70,369.52 L378.83,371.38 L378.95,370.51 L379.08,372.77 L379.20,373.88 L379.33,374.20 L379.46,373.77 L379.58,374.28 L379.71,373.76 L379.83,372.87 L379.96,375.05 L380.08,377.62 L380.20,381.06 L380.32,381.00 L380.44,380.14 L380.55,379.77 L380.67,382.42 L380.79,385.28 L380.91,384.54 L381.04,386.98 L381.16,387.45 L381.29,386.90 L381.41,387.85 L381.54,389.67 L381.67,390.44 L381.79,391.26 L381.92,391.18 L382.04,390.31 L382.17,390.86 L382.29,391.03 L382.41,394.20 L382.53,395.40 L382.65,399.53 L382.78,396.65 L382.90,397.82 L383.03,395.89 L383.15,393.95 L383.28,393.61 L383.41,394.09 L383.53,393.30 L383.66,392.08 L383.78,394.04 L383.91,393.99 L384.03,390.74 L384.15,388.76 L384.27,389.42 L384.38,388.24 L384.50,387.73 L384.62,388.85 L384.74,386.42 L384.86,385.30 L384.98,383.33 L385.10,382.26 L385.22,381.92 L385.34,379.06 L385.45,378.19 L385.57,377.32 L385.69,377.68 L385.81,375.81 L385.94,375.75 L386.06,377.94 L386.19,378.08 L386.32,379.99 L386.44,382.42 L386.57,382.89 L386.70,384.38 L386.83,384.63 L386.95,382.45 L387.08,382.13 L387.20,379.23 L387.31,379.17 L387.43,377.64 L387.55,377.37 L387.67,377.22 L387.78,378.57 L387.90,378.02 L388.02,377.39 L388.14,377.40 L388.26,378.92 L388.38,378.15 L388.50,377.94 L388.61,377.01 L388.73,375.39 L388.85,372.64 L388.97,371.86 L389.10,371.56 L389.22,371.29 L389.35,374.04 L389.48,373.65 L389.61,374.16 L389.73,373.75 L389.86,375.42 L389.99,375.09 L390.11,377.68 L390.24,377.39 L390.36,379.59 L390.48,382.12 L390.60,382.95 L390.72,385.25 L390.83,386.49 L390.95,386.62 L391.07,386.86 L391.19,388.46 L391.31,392.59 L391.43,393.65 L391.54,396.10 L391.66,396.73 L391.78,398.80 L391.89,398.75 L392.01,399.40 L392.13,401.11 L392.25,401.13 L392.37,401.81 L392.49,404.21 L392.61,405.08 L392.72,405.15 L392.84,404.51 L392.96,404.83 L393.08,407.43 L393.20,405.64 L393.32,403.77 L393.44,403.07 L393.55,402.53 L393.67,402.21 L393.79,400.05 L393.91,397.13 L394.03,393.20 L394.16,392.69 L394.28,392.61 L394.41,394.02 L394.54,394.87 L394.66,394.52 L394.79,396.14 L394.92,394.85 L395.05,393.85 L395.17,392.68 L395.30,391.62 L395.43,391.71 L395.55,390.99 L395.68,390.40 L395.80,392.64 L395.93,391.08 L396.06,390.12 L396.18,390.23 L396.31,391.25 L396.43,392.34 L396.56,392.41 L396.68,392.13 L396.80,391.99 L396.92,393.21 L397.03,392.18 L397.15,389.22 L397.27,389.69 L397.39,388.32 L397.51,388.46 L397.64,390.44 L397.76,390.67 L397.89,393.26 L398.01,391.21 L398.14,391.64 L398.27,392.27 L398.39,393.49 L398.52,392.61 L398.64,392.93 L398.77,393.20 L398.89,395.16 L399.01,395.14 L399.13,394.65 L399.25,397.22 L399.36,399.53 L399.48,401.42 L399.60,404.13 L399.72,407.43 L399.84,406.98 L399.96,409.16 L400.08,412.31 L400.20,414.82 L400.31,416.75 L400.43,418.84 L400.55,418.03 L400.67,418.50 L400.80,422.72 L400.92,427.55 L401.05,431.01 L401.17,433.23 L401.30,435.89 L401.42,435.13 L401.54,435.94 L401.66,435.10 L401.77,432.49 L401.89,431.43 L402.01,430.11 L402.13,431.45 L402.25,430.36 L402.38,434.48 L402.51,438.46 L402.63,440.87 L402.76,443.53 L402.89,446.96 L403.01,444.28 L403.12,442.94 L403.24,441.49 L403.36,441.17 L403.48,441.63 L403.59,440.25 L403.71,438.40 L403.83,434.31 L403.96,434.98 L404.08,436.03 L404.21,435.14 L404.34,434.77 L404.47,433.98 L404.59,435.57 L404.72,436.56 L404.85,438.36 L404.97,436.88 L405.10,440.63 L405.23,439.90 L405.35,438.94 L405.48,439.62 L405.60,439.29 L405.73,442.16 L405.86,442.02 L405.98,441.51 L406.11,443.24 L406.23,445.30 L406.36,444.58 L406.49,443.17 L406.61,441.92 L406.74,440.93 L406.87,442.47 L407.00,443.40 L407.12,444.07 L407.25,445.01 L407.38,444.26 L407.50,444.67 L407.63,443.79 L407.76,442.82 L407.88,445.11 L408.01,442.77 L408.13,442.81 L408.26,442.07 L408.39,439.86 L408.51,439.37 L408.64,439.49 L408.76,440.14 L408.89,439.05 L409.02,439.68 L409.14,439.71 L409.27,440.42 L409.40,437.43 L409.52,436.42 L409.65,435.20 L409.78,435.58 L409.91,434.18 L410.03,433.09 L410.16,431.15 L410.28,429.47 L410.40,428.15 L410.52,429.38 L410.63,427.88 L410.75,424.52 L410.87,424.84 L410.99,424.15 L411.11,424.82 L411.23,424.95 L411.35,423.93 L411.47,422.76 L411.59,421.42 L411.70,420.80 L411.82,419.15 L411.94,418.82 L412.06,420.08 L412.18,419.70 L412.30,419.37 L412.41,419.02 L412.53,420.37 L412.65,421.77 L412.76,424.22 L412.88,425.71 L413.00,426.40 L413.13,427.06 L413.25,425.35 L413.38,426.17 L413.51,426.45 L413.63,429.31 L413.76,431.22 L413.89,430.17 L414.02,429.46 L414.14,430.71 L414.27,427.98 L414.40,427.37 L414.52,428.50 L414.65,429.99 L414.77,430.87 L414.90,433.07 L415.03,433.33 L415.15,434.09 L415.28,434.46 L415.40,433.62 L415.53,434.31 L415.65,432.95 L415.77,432.44 L415.89,428.30 L416.00,427.83 L416.12,426.49 L416.24,425.04 L416.36,424.49 L416.48,423.24 L416.60,422.84 L416.72,422.86 L416.84,422.40 L416.96,422.05 L417.07,420.89 L417.19,419.28 L417.31,415.90 L417.43,413.75 L417.56,414.25 L417.68,414.16 L417.81,412.37 L417.94,411.39 L418.06,411.69 L418.19,410.35 L418.32,411.41 L418.45,409.26 L418.57,409.20 L418.70,409.01 L418.83,408.52 L418.95,408.21 L419.08,408.21 L419.20,404.44 L419.33,404.35 L419.46,405.17 L419.58,404.99 L419.71,405.81 L419.83,403.50 L419.96,402.69 L420.09,402.20 L420.21,400.91 L420.34,401.57 L420.47,401.29 L420.60,399.66 L420.72,399.82 L420.85,399.99 L420.98,398.46 L421.10,398.37 L421.23,397.94 L421.36,397.67 L421.48,395.23 L421.61,396.19 L421.73,396.32 L421.86,395.53 L421.99,395.25 L422.11,394.94 L422.24,393.78 L422.36,392.24 L422.49,391.62 L422.62,392.40 L422.74,393.32 L422.87,393.33 L422.99,394.54 L423.12,397.47 L423.25,399.34 L423.37,400.98 L423.50,402.13 L423.62,403.13 L423.75,402.69 L423.88,404.62 L424.00,403.33 L424.13,401.00 L424.26,401.24 L424.38,401.27 L424.51,400.27 L424.64,397.97 L424.77,395.81 L424.89,397.62 L425.02,397.15 L425.15,396.61 L425.27,399.46 L425.40,399.06 L425.52,398.15 L425.65,399.23 L425.78,400.06 L425.90,402.51 L426.03,400.75 L426.15,401.48 L426.28,399.53 L426.40,400.33 L426.52,399.62 L426.64,399.17 L426.75,398.35 L426.87,399.65 L426.99,402.02 L427.11,402.07 L427.23,401.90 L427.35,399.76 L427.47,399.01 L427.59,396.16 L427.71,399.48 L427.82,397.71 L427.94,398.56 L428.06,397.30 L428.18,393.99 L428.31,391.77 L428.43,391.09 L428.56,390.02 L428.69,389.57 L428.81,387.90 L428.94,390.96 L429.07,393.72 L429.20,391.16 L429.32,391.70 L429.45,393.20 L429.57,391.74 L429.69,390.43 L429.81,390.90 L429.92,390.63 L430.04,387.98 L430.16,388.63 L430.28,386.96 L430.40,388.46 L430.52,386.20 L430.63,382.12 L430.75,381.29 L430.87,381.96 L430.99,381.69 L431.10,380.93 L431.22,378.70 L431.34,378.97 L431.46,376.49 L431.58,377.60 L431.70,375.98 L431.81,375.19 L431.93,373.43 L432.05,372.20 L432.17,374.24 L432.29,372.65 L432.41,372.34 L432.53,370.69 L432.65,371.51 L432.76,369.09 L432.88,368.52 L433.00,369.18 L433.12,371.68 L433.24,369.49 L433.36,368.40 L433.48,368.43 L433.60,370.55 L433.72,369.26 L433.83,370.47 L433.95,369.72 L434.07,368.40 L434.19,366.32 L434.32,366.97 L434.44,368.78 L434.57,369.11 L434.69,366.68 L434.82,366.38 L434.95,368.16 L435.07,369.82 L435.20,370.66 L435.32,373.13 L435.45,371.86 L435.58,370.74 L435.70,374.57 L435.83,376.05 L435.96,376.34 L436.09,376.23 L436.21,373.27 L436.34,374.98 L436.47,372.71 L436.59,370.58 L436.72,371.07 L436.85,373.61 L436.97,373.54 L437.10,374.52 L437.22,374.40 L437.35,375.42 L437.48,373.60 L437.60,376.96 L437.73,376.11 L437.85,377.36 L437.98,375.02 L438.11,376.30 L438.23,375.74 L438.36,377.34 L438.49,375.28 L438.62,375.55 L438.74,374.16 L438.87,372.95 L439.00,373.59 L439.12,371.20 L439.25,371.07 L439.38,372.78 L439.50,374.23 L439.63,374.74 L439.75,374.24 L439.88,371.96 L440.01,372.98 L440.13,371.10 L440.26,371.81 L440.38,370.41 L440.51,369.49 L440.64,368.93 L440.76,369.22 L440.89,368.06 L441.02,367.76 L441.14,366.49 L441.27,366.67 L441.40,366.51 L441.53,366.55 L441.65,364.84 L441.78,364.74 L441.91,364.68 L442.03,365.37 L442.16,365.32 L442.28,363.87 L442.41,364.75 L442.54,363.71 L442.66,363.98 L442.79,361.01 L442.91,361.58 L443.04,362.37 L443.17,361.73 L443.29,363.16 L443.42,363.27 L443.55,365.79 L443.68,367.32 L443.80,366.23 L443.93,366.57 L444.06,364.77 L444.18,364.95 L444.31,366.32 L444.44,367.84 L444.56,368.08 L444.69,368.14 L444.81,368.75 L444.94,368.31 L445.07,369.15 L445.19,371.08 L445.32,371.74 L445.44,373.32 L445.57,372.65 L445.69,370.45 L445.81,369.40 L445.93,370.66 L446.04,370.53 L446.16,371.37 L446.28,369.93 L446.40,370.13 L446.52,366.32 L446.65,366.25 L446.77,362.61 L446.90,363.52 L447.03,363.41 L447.15,364.23 L447.28,364.02 L447.41,362.57 L447.54,360.79 L447.66,360.29 L447.79,361.58 L447.92,362.55 L448.04,361.92 L448.17,361.25 L448.29,360.40 L448.42,360.22 L448.55,360.21 L448.67,359.66 L448.80,359.79 L448.92,357.75 L449.05,360.00 L449.17,358.03 L449.29,357.80 L449.41,355.89 L449.54,355.31 L449.66,355.11 L449.79,355.11 L449.91,353.89 L450.04,353.07 L450.17,355.37 L450.29,356.35 L450.42,355.34 L450.54,355.75 L450.67,354.31 L450.80,356.26 L450.92,354.92 L451.05,356.18 L451.18,356.26 L451.31,356.35 L451.43,355.29 L451.56,354.98 L451.69,353.98 L451.81,352.85 L451.94,353.52 L452.06,357.28 L452.18,357.15 L452.30,358.85 L452.41,359.17 L452.53,358.53 L452.65,360.70 L452.77,361.90 L452.89,363.79 L453.01,365.55 L453.12,367.35 L453.24,367.84 L453.36,369.09 L453.48,372.98 L453.59,371.48 L453.71,373.62 L453.83,377.23 L453.95,376.01 L454.07,374.90 L454.19,372.23 L454.30,371.46 L454.42,370.73 L454.54,368.37 L454.66,368.34 L454.78,365.38 L454.91,362.17 L455.03,362.32 L455.16,362.32 L455.29,361.33 L455.41,360.87 L455.54,360.30 L455.67,357.97 L455.80,359.81 L455.92,359.98 L456.05,363.79 L456.18,363.70 L456.30,364.16 L456.43,362.03 L456.55,363.34 L456.68,361.79 L456.81,362.44 L456.93,363.62 L457.06,364.59 L457.18,363.38 L457.31,362.21 L457.44,362.37 L457.56,363.11 L457.69,364.21 L457.82,363.31 L457.94,362.30 L458.07,363.87 L458.20,362.19 L458.33,362.36 L458.45,361.06 L458.58,358.26 L458.71,356.72 L458.83,357.32 L458.96,357.60 L459.08,358.24 L459.21,357.74 L459.34,357.04 L459.46,357.40 L459.59,357.13 L459.71,354.93 L459.84,354.31 L459.97,356.02 L460.09,354.40 L460.22,354.56 L460.35,353.86 L460.48,354.26 L460.60,352.49 L460.73,350.16 L460.86,350.17 L460.98,348.63 L461.11,347.98 L461.23,347.02 L461.35,347.79 L461.47,347.60 L461.59,347.26 L461.70,345.40 L461.82,342.74 L461.94,341.07 L462.06,341.66 L462.18,341.78 L462.30,341.75 L462.41,340.38 L462.53,338.17 L462.65,338.90 L462.76,338.33 L462.88,338.23 L463.00,336.13 L463.13,334.68 L463.25,335.03 L463.38,335.50 L463.51,333.62 L463.63,333.49 L463.76,331.38 L463.89,332.50 L464.02,332.87 L464.14,335.41 L464.27,336.92 L464.40,336.52 L464.52,337.29 L464.65,337.14 L464.77,337.82 L464.90,339.37 L465.03,339.86 L465.15,340.44 L465.28,339.12 L465.40,340.40 L465.53,340.87 L465.66,342.04 L465.78,343.78 L465.91,344.15 L466.04,345.43 L466.16,344.94 L466.29,346.55 L466.42,346.85 L466.55,346.38 L466.67,346.40 L466.80,344.82 L466.92,343.24 L467.04,341.95 L467.16,341.28 L467.27,340.46 L467.39,338.88 L467.51,337.92 L467.63,334.34 L467.75,333.75 L467.87,333.50 L467.99,333.55 L468.11,333.99 L468.23,332.71 L468.34,331.59 L468.46,329.93 L468.58,328.28 L468.70,327.43 L468.83,329.57 L468.95,327.64 L469.08,327.31 L469.20,328.02 L469.33,327.01 L469.46,327.90 L469.58,326.39 L469.71,326.26 L469.83,324.37 L469.96,325.06 L470.08,324.64 L470.20,326.13 L470.32,326.37 L470.44,325.70 L470.55,325.76 L470.67,326.55 L470.79,327.16 L470.91,327.43 L471.04,327.40 L471.16,327.86 L471.29,329.43 L471.41,329.11 L471.54,330.14 L471.67,328.80 L471.79,330.48 L471.92,331.41 L472.04,331.38 L472.17,331.38 L472.30,329.51 L472.42,330.02 L472.55,330.09 L472.68,328.62 L472.81,328.42 L472.93,329.59 L473.06,330.22 L473.19,330.98 L473.31,330.64 L473.44,332.17 L473.57,332.00 L473.69,333.00 L473.82,335.83 L473.94,333.02 L474.07,332.22 L474.20,332.09 L474.32,330.98 L474.45,332.23 L474.57,331.64 L474.70,333.75 L474.83,334.40 L474.95,334.61 L475.08,334.23 L475.21,335.01 L475.34,335.32 L475.46,336.93 L475.59,337.15 L475.72,338.18 L475.84,338.39 L475.97,338.50 L476.09,339.30 L476.21,342.19 L476.33,345.59 L476.45,346.92 L476.56,347.95 L476.68,350.42 L476.80,353.70 L476.92,354.31 L477.04,354.86 L477.16,356.28 L477.28,356.09 L477.39,356.54 L477.51,357.30 L477.63,356.55 L477.75,357.52 L477.87,358.26 L478.00,356.62 L478.12,357.32 L478.25,358.50 L478.37,357.07 L478.50,358.25 L478.63,357.90 L478.75,356.12 L478.88,354.75 L479.00,353.58 L479.13,354.31 L479.26,354.03 L479.38,353.88 L479.51,352.56 L479.64,352.95 L479.76,351.65 L479.89,351.12 L480.02,352.31 L480.15,353.57 L480.27,353.22 L480.40,353.52 L480.52,353.05 L480.63,351.85 L480.75,352.27 L480.87,352.88 L480.99,351.58 L481.10,348.75 L481.22,347.36 L481.34,347.98 L481.46,346.80 L481.58,345.70 L481.70,344.51 L481.81,341.13 L481.93,338.81 L482.05,337.58 L482.17,335.25 L482.29,333.75 L482.41,330.21 L482.53,326.39 L482.65,326.90 L482.76,325.74 L482.88,324.37 L483.00,324.15 L483.12,324.96 L483.24,326.64 L483.36,324.44 L483.48,325.99 L483.60,328.41 L483.72,326.87 L483.83,325.50 L483.95,326.29 L484.07,329.87 L484.19,332.17 L484.31,335.84 L484.43,336.99 L484.55,339.21 L484.66,342.03 L484.78,343.41 L484.90,344.15 L485.02,345.08 L485.14,340.87 L485.26,341.84 L485.38,339.86 L485.50,339.29 L485.62,340.78 L485.73,341.84 L485.85,339.67 L485.97,340.91 L486.09,342.45 L486.21,342.67 L486.33,343.55 L486.45,344.27 L486.56,341.91 L486.68,341.58 L486.80,341.12 L486.92,339.42 L487.04,339.29 L487.17,337.94 L487.29,337.57 L487.42,336.15 L487.54,337.32 L487.67,340.06 L487.80,339.03 L487.92,338.83 L488.05,338.64 L488.17,338.99 L488.30,338.50 L488.42,335.65 L488.54,336.29 L488.66,336.28 L488.77,334.99 L488.89,334.88 L489.01,334.35 L489.13,334.83 L489.25,334.55 L489.37,333.26 L489.49,332.50 L489.61,331.92 L489.73,331.03 L489.84,331.70 L489.96,331.12 L490.08,329.16 L490.20,330.59 L490.33,330.60 L490.45,332.56 L490.58,330.97 L490.70,331.57 L490.83,333.75 L490.96,335.31 L491.08,335.28 L491.21,334.34 L491.33,333.37 L491.46,332.96 L491.58,332.69 L491.70,332.72 L491.82,332.41 L491.94,332.10 L492.05,333.46 L492.17,332.11 L492.29,333.37 L492.41,335.34 L492.53,335.32 L492.65,335.34 L492.77,336.63 L492.88,337.82 L493.00,340.36 L493.12,338.93 L493.24,340.09 L493.36,343.24 L493.48,343.46 L493.60,345.96 L493.72,349.02 L493.84,348.38 L493.95,350.52 L494.07,351.33 L494.19,351.42 L494.31,351.15 L494.43,349.70 L494.55,347.32 L494.67,345.94 L494.78,346.06 L494.90,346.62 L495.02,344.96 L495.14,344.53 L495.26,344.03 L495.39,341.59 L495.51,343.31 L495.64,342.40 L495.76,341.60 L495.89,343.49 L496.02,346.51 L496.14,345.76 L496.27,345.32 L496.39,344.79 L496.52,344.82 L496.64,345.80 L496.76,346.17 L496.88,345.45 L497.00,349.34 L497.11,350.15 L497.23,350.61 L497.35,353.32 L497.47,354.31 L497.59,356.72 L497.71,358.73 L497.83,361.02 L497.95,361.42 L498.06,363.23 L498.18,362.08 L498.30,361.17 L498.42,362.21 L498.54,362.96 L498.66,365.94 L498.78,366.74 L498.89,365.51 L499.01,366.76 L499.13,367.52 L499.25,368.95 L499.37,368.54 L499.49,366.34 L499.61,365.28 L499.73,365.14 L499.85,364.55 L499.96,364.43 L500.08,361.32 L500.20,359.89 L500.32,359.05 L500.45,360.56 L500.57,361.12 L500.70,361.00 L500.82,361.05 L500.95,361.14 L501.08,359.42 L501.20,359.67 L501.33,360.97 L501.45,362.14 L501.58,359.84 L501.70,360.81 L501.82,359.74 L501.94,362.19 L502.05,363.88 L502.17,365.81 L502.29,365.88 L502.41,364.23 L502.53,363.79 L502.65,364.89 L502.77,364.44 L502.89,364.66 L503.00,368.61 L503.12,368.40 L503.24,370.72 L503.36,369.78 L503.48,371.70 L503.61,372.25 L503.74,372.28 L503.87,373.33 L504.00,375.18 L504.13,372.74 L504.26,372.52 L504.39,372.65 L504.52,373.31 L504.64,375.55 L504.77,376.02 L504.89,377.74 L505.02,379.41 L505.15,379.71 L505.27,380.56 L505.40,379.64 L505.52,380.18 L505.65,380.55 L505.78,380.21 L505.90,379.45 L506.03,380.62 L506.16,380.34 L506.28,383.28 L506.41,384.92 L506.54,385.82 L506.67,384.92 L506.79,386.02 L506.92,386.09 L507.04,385.21 L507.16,382.74 L507.28,382.52 L507.39,381.87 L507.51,380.25 L507.63,378.36 L507.75,377.00 L507.87,374.23 L507.99,371.84 L508.11,372.05 L508.22,369.53 L508.34,371.00 L508.46,367.55 L508.57,367.37 L508.69,367.19 L508.81,367.11 L508.94,368.28 L509.06,366.52 L509.19,368.47 L509.32,370.31 L509.44,370.76 L509.57,367.98 L509.70,369.83 L509.83,368.98 L509.95,369.00 L510.08,371.07 L510.21,372.78 L510.33,373.21 L510.46,372.37 L510.58,374.58 L510.71,376.05 L510.84,375.75 L510.96,374.36 L511.09,374.65 L511.21,372.73 L511.34,375.02 L511.47,376.49 L511.59,376.78 L511.72,378.11 L511.85,376.63 L511.98,377.31 L512.10,377.22 L512.23,375.84 L512.36,375.75 L512.48,376.98 L512.61,375.81 L512.73,374.62 L512.85,371.73 L512.97,371.08 L513.09,367.77 L513.20,367.81 L513.32,367.78 L513.44,367.98 L513.56,369.49 L513.68,369.17 L513.80,368.78 L513.92,369.04 L514.03,367.86 L514.15,364.73 L514.27,362.51 L514.39,360.30 L514.51,360.00 L514.63,359.59 L514.75,359.51 L514.86,360.72 L514.98,361.43 L515.10,364.59 L515.22,364.98 L515.33,364.15 L515.45,366.32 L515.58,366.83 L515.70,367.81 L515.83,370.23 L515.96,371.55 L516.09,373.58 L516.21,373.82 L516.34,374.50 L516.47,376.46 L516.59,376.83 L516.72,377.39 L516.84,375.59 L516.96,376.01 L517.08,376.27 L517.19,374.86 L517.31,373.23 L517.43,370.57 L517.55,370.64 L517.67,369.49 L517.79,369.63 L517.91,366.60 L518.03,366.57 L518.14,365.65 L518.26,365.56 L518.38,365.85 L518.50,364.76 L518.62,363.16 L518.74,364.21 L518.86,362.70 L518.98,364.75 L519.10,365.34 L519.21,363.96 L519.33,365.84 L519.45,367.27 L519.57,369.49 L519.70,371.02 L519.82,371.87 L519.95,372.01 L520.07,370.76 L520.20,371.98 L520.33,372.97 L520.45,372.60 L520.58,373.60 L520.70,372.60 L520.83,374.23 L520.96,375.40 L521.08,376.70 L521.21,376.68 L521.33,378.92 L521.46,380.11 L521.59,380.29 L521.71,381.78 L521.84,382.45 L521.96,384.82 L522.09,383.72 L522.21,381.55 L522.33,383.67 L522.45,382.38 L522.57,382.43 L522.68,381.27 L522.80,380.93 L522.92,383.85 L523.04,380.55 L523.16,382.75 L523.28,384.28 L523.40,385.79 L523.51,386.18 L523.63,386.35 L523.75,389.65 L523.87,391.79 L523.99,391.62 L524.11,392.48 L524.23,391.53 L524.35,396.27 L524.47,397.63 L524.58,396.04 L524.70,398.15 L524.82,399.84 L524.94,401.11 L525.06,401.54 L525.18,400.98 L525.30,400.90 L525.41,398.35 L525.53,400.30 L525.65,403.19 L525.77,404.05 L525.89,405.06 L526.01,402.35 L526.13,400.91 L526.25,398.13 L526.37,395.49 L526.48,395.36 L526.60,396.41 L526.72,395.45 L526.84,397.94 L526.96,397.24 L527.08,392.37 L527.20,390.00 L527.32,389.94 L527.43,388.34 L527.55,387.92 L527.67,383.81 L527.79,383.72 L527.91,381.90 L528.03,382.15 L528.15,384.81 L528.26,384.70 L528.38,384.17 L528.50,384.98 L528.62,383.64 L528.74,382.13 L528.86,381.84 L528.98,378.20 L529.09,374.89 L529.21,375.66 L529.33,372.34 L529.44,371.32 L529.56,371.19 L529.68,369.49 L529.80,367.47 L529.92,368.01 L530.04,366.17 L530.16,369.34 L530.28,372.64 L530.40,371.55 L530.51,372.63 L530.63,371.98 L530.75,372.78 L530.87,372.74 L530.99,371.70 L531.11,372.21 L531.23,369.77 L531.35,370.00 L531.47,369.59 L531.58,368.33 L531.70,369.36 L531.82,369.21 L531.94,368.54 L532.06,368.90 L532.18,369.17 L532.30,371.01 L532.41,371.19 L532.53,367.84 L532.65,364.20 L532.77,363.34 L532.89,362.21 L533.02,361.92 L533.14,360.17 L533.27,359.16 L533.39,361.03 L533.52,359.31 L533.65,360.54 L533.77,360.46 L533.90,362.31 L534.02,363.62 L534.15,363.79 L534.28,364.79 L534.40,364.64 L534.53,362.66 L534.66,362.89 L534.78,363.12 L534.91,362.53 L535.04,362.44 L535.17,361.42 L535.29,361.43 L535.42,360.63 L535.55,358.45 L535.67,357.99 L535.80,360.06 L535.92,361.10 L536.05,363.05 L536.18,362.96 L536.30,362.32 L536.43,360.79 L536.55,360.91 L536.68,362.21 L536.81,363.13 L536.93,363.95 L537.06,363.08 L537.18,363.04 L537.31,361.81 L537.44,362.74 L537.56,363.37 L537.69,362.32 L537.81,362.31 L537.94,359.05 L538.06,358.78 L538.18,356.45 L538.30,354.73 L538.41,354.32 L538.53,354.01 L538.65,351.87 L538.77,352.80 L538.89,354.31 L539.01,354.44 L539.13,354.39 L539.25,352.64 L539.37,352.69 L539.48,349.67 L539.60,346.34 L539.72,344.72 L539.84,343.24 L539.96,340.94 L540.08,342.21 L540.20,339.09 L540.32,335.16 L540.43,333.47 L540.55,334.55 L540.67,334.42 L540.79,333.75 L540.91,333.06 L541.03,332.95 L541.15,332.51 L541.26,331.77 L541.38,330.72 L541.50,327.67 L541.62,328.10 L541.74,326.64 L541.86,327.70 L541.98,328.91 L542.10,330.85 L542.22,330.33 L542.33,331.99 L542.45,333.68 L542.57,334.08 L542.69,334.55 L542.81,335.56 L542.93,334.97 L543.05,335.16 L543.16,334.42 L543.28,336.83 L543.40,336.57 L543.52,335.91 L543.64,336.92 L543.76,338.49 L543.88,338.82 L543.99,338.37 L544.11,339.78 L544.23,341.76 L544.35,340.38 L544.46,342.44 L544.58,340.87 L544.70,339.61 L544.82,336.87 L544.94,334.38 L545.06,333.21 L545.17,333.01 L545.29,333.68 L545.41,333.39 L545.53,332.17 L545.65,331.59 L545.77,332.28 L545.89,333.69 L546.00,334.11 L546.12,336.13 L546.24,337.03 L546.36,340.68 L546.48,341.66 L546.60,340.97 L546.72,341.30 L546.84,341.35 L546.95,343.33 L547.07,346.25 L547.19,348.65 L547.31,351.05 L547.43,351.15 L547.55,350.09 L547.67,349.45 L547.79,349.93 L547.90,349.91 L548.02,350.74 L548.14,352.57 L548.26,353.13 L548.38,355.89 L548.50,354.18 L548.62,354.37 L548.74,353.63 L548.86,354.33 L548.97,353.63 L549.09,352.25 L549.21,351.42 L549.33,349.57 L549.46,347.76 L549.58,348.52 L549.71,347.38 L549.83,348.69 L549.96,351.76 L550.09,350.93 L550.21,351.77 L550.34,351.33 L550.46,348.44 L550.59,347.98 L550.71,348.93 L550.83,346.24 L550.95,344.97 L551.07,343.68 L551.18,340.66 L551.30,340.03 L551.42,338.78 L551.54,338.50 L551.66,338.11 L551.78,335.73 L551.90,335.44 L552.01,335.82 L552.13,335.01 L552.25,335.29 L552.37,335.56 L552.49,332.17 L552.62,332.78 L552.74,329.79 L552.87,327.80 L552.99,327.36 L553.12,325.77 L553.25,324.41 L553.37,325.64 L553.50,323.92 L553.62,325.24 L553.75,327.43 L553.88,329.70 L554.00,328.58 L554.13,326.87 L554.26,327.31 L554.38,330.54 L554.51,330.61 L554.64,330.21 L554.77,330.40 L554.89,331.78 L555.02,333.75 L555.14,333.14 L555.26,332.36 L555.38,332.44 L555.50,331.88 L555.61,330.71 L555.73,327.72 L555.85,327.27 L555.97,325.85 L556.10,325.89 L556.22,325.85 L556.35,325.01 L556.47,326.12 L556.60,327.92 L556.73,329.00 L556.85,328.47 L556.98,329.07 L557.10,330.37 L557.23,330.59 L557.36,330.90 L557.48,328.36 L557.61,327.44 L557.74,328.75 L557.87,329.48 L557.99,328.68 L558.12,328.22 L558.25,330.51 L558.37,331.37 L558.50,329.80 L558.63,329.87 L558.75,328.90 L558.88,327.76 L559.00,325.78 L559.13,326.40 L559.26,329.06 L559.38,329.88 L559.51,327.78 L559.63,328.16 L559.76,325.85 L559.89,326.03 L560.01,327.32 L560.14,329.20 L560.27,329.24 L560.39,329.56 L560.52,329.45 L560.65,329.11 L560.78,331.10 L560.90,329.70 L561.03,327.43 L561.15,328.90 L561.27,331.07 L561.39,328.02 L561.50,328.39 L561.62,328.59 L561.74,327.13 L561.86,324.95 L561.98,324.27 L562.11,324.07 L562.23,325.42 L562.36,324.81 L562.48,326.65 L562.61,326.04 L562.74,328.49 L562.86,329.93 L562.99,331.72 L563.11,331.44 L563.24,331.38 L563.37,331.01 L563.49,332.37 L563.62,331.23 L563.75,329.93 L563.88,329.39 L564.00,329.62 L564.13,329.27 L564.26,328.94 L564.38,326.93 L564.51,325.85 L564.64,324.36 L564.76,325.73 L564.89,325.63 L565.01,326.50 L565.14,324.68 L565.27,324.58 L565.39,325.04 L565.52,323.56 L565.64,322.65 L565.77,321.90 L565.90,321.68 L566.02,321.65 L566.15,319.32 L566.28,319.35 L566.40,319.22 L566.53,319.19 L566.66,317.60 L566.79,317.09 L566.91,318.40 L567.04,319.53 L567.17,318.63 L567.29,320.72 L567.42,320.08 L567.54,318.80 L567.67,320.24 L567.80,320.61 L567.92,323.63 L568.05,323.24 L568.17,323.35 L568.30,324.27 L568.43,324.70 L568.55,324.23 L568.68,324.31 L568.81,324.35 L568.93,324.40 L569.06,324.43 L569.19,322.43 L569.32,323.71 L569.44,322.95 L569.57,322.69 L569.71,322.17 L569.86,322.44 L570.00,324.31 L570.13,325.35 L570.25,325.13 L570.38,324.68 L570.50,323.31 L570.63,322.27 L570.76,321.92 L570.88,321.05 L571.01,319.05 L571.13,318.47 L571.26,316.40 L571.39,318.32 L571.51,317.86 L571.64,316.21 L571.77,315.97 L571.89,314.08 L572.02,312.86 L572.15,314.08 L572.28,314.94 L572.40,312.47 L572.53,310.08 L572.65,308.54 L572.77,310.73 L572.89,309.96 L573.00,309.46 L573.12,307.92 L573.24,308.86 L573.36,309.32 L573.48,306.13 L573.60,306.49 L573.72,305.52 L573.84,305.46 L573.95,305.86 L574.07,305.56 L574.19,306.20 L574.31,308.64 L574.43,311.66 L574.56,311.74 L574.68,312.65 L574.81,310.74 L574.93,312.66 L575.06,315.68 L575.19,315.42 L575.31,316.11 L575.44,316.52 L575.56,313.52 L575.69,314.82 L575.82,316.11 L575.94,314.57 L576.07,314.65 L576.20,316.86 L576.33,318.28 L576.45,317.06 L576.58,316.94 L576.71,316.65 L576.83,317.50 L576.96,317.19 L577.09,316.54 L577.21,315.59 L577.34,312.87 L577.46,312.71 L577.59,312.34 L577.72,310.70 L577.84,310.98 L577.97,313.36 L578.09,310.50 L578.22,310.08 L578.35,310.66 L578.47,310.16 L578.60,308.82 L578.73,311.25 L578.86,310.02 L578.98,309.29 L579.11,307.86 L579.24,308.96 L579.36,305.51 L579.49,303.75 L579.62,303.51 L579.74,304.31 L579.87,305.15 L579.99,306.87 L580.12,307.08 L580.25,306.47 L580.37,306.76 L580.50,305.96 L580.62,305.61 L580.75,305.34 L580.88,306.68 L581.00,308.74 L581.13,308.18 L581.26,308.31 L581.38,309.20 L581.51,310.15 L581.64,310.74 L581.77,312.45 L581.89,313.09 L582.02,311.66 L582.15,312.56 L582.27,310.00 L582.40,311.34 L582.52,310.82 L582.65,310.39 L582.78,307.54 L582.90,307.03 L583.03,305.88 L583.15,303.88 L583.28,303.75 L583.41,303.84 L583.53,304.52 L583.66,301.95 L583.79,299.97 L583.91,300.92 L584.04,300.71 L584.17,300.88 L584.30,299.26 L584.42,298.82 L584.55,299.01 L584.68,296.90 L584.80,295.52 L584.93,295.39 L585.05,296.77 L585.18,295.74 L585.31,296.17 L585.43,294.59 L585.56,292.54 L585.68,292.93 L585.81,291.11 L585.94,291.59 L586.06,291.27 L586.19,292.38 L586.32,291.13 L586.44,289.68 L586.57,288.21 L586.70,288.37 L586.83,290.50 L586.95,292.01 L587.08,292.69 L587.21,292.31 L587.33,293.74 L587.46,293.41 L587.58,294.60 L587.71,296.21 L587.84,296.92 L587.96,297.25 L588.09,297.57 L588.21,297.26 L588.34,297.43 L588.47,295.46 L588.59,293.54 L588.72,294.82 L588.84,293.85 L588.97,290.79 L589.10,291.79 L589.22,292.79 L589.35,292.58 L589.47,290.13 L589.60,291.90 L589.73,293.64 L589.85,295.57 L589.98,295.54 L590.11,296.39 L590.24,296.33 L590.36,296.31 L590.49,295.05 L590.62,294.31 L590.74,293.93 L590.87,294.27 L590.99,297.03 L591.11,299.22 L591.23,298.27 L591.35,301.09 L591.46,300.54 L591.58,302.63 L591.70,303.81 L591.82,305.34 L591.94,303.64 L592.06,301.18 L592.18,302.27 L592.30,297.96 L592.41,295.71 L592.53,296.40 L592.65,295.32 L592.77,294.27 L592.89,293.47 L593.01,292.31 L593.13,293.44 L593.25,293.55 L593.36,294.33 L593.48,295.69 L593.60,293.74 L593.72,292.69 L593.84,290.36 L593.96,289.22 L594.07,288.71 L594.19,285.89 L594.31,284.16 L594.42,282.57 L594.54,280.98 L594.66,281.62 L594.78,281.47 L594.90,282.53 L595.02,280.27 L595.13,280.96 L595.25,281.96 L595.37,283.74 L595.49,283.90 L595.61,283.99 L595.73,283.06 L595.85,283.08 L595.97,286.95 L596.09,285.35 L596.20,283.76 L596.32,284.58 L596.44,284.00 L596.56,286.36 L596.68,285.83 L596.80,289.54 L596.92,290.43 L597.03,289.71 L597.15,288.22 L597.27,288.51 L597.39,289.13 L597.51,291.11 L597.64,290.77 L597.76,296.26 L597.89,298.79 L598.01,299.94 L598.14,300.59 L598.26,301.44 L598.38,297.64 L598.50,295.88 L598.62,295.10 L598.73,291.08 L598.85,289.10 L598.97,285.67 L599.09,284.78 L599.21,285.33 L599.33,284.67 L599.45,283.48 L599.57,280.44 L599.68,282.35 L599.80,282.99 L599.92,282.57 L600.04,283.20 L600.16,283.44 L600.28,282.14 L600.40,283.63 L600.51,282.54 L600.63,282.04 L600.75,283.27 L600.87,281.37 L600.99,281.62 L601.11,282.17 L601.23,281.55 L601.35,280.86 L601.47,281.51 L601.58,282.05 L601.70,283.22 L601.82,282.14 L601.94,283.20 L602.06,283.06 L602.18,283.54 L602.30,286.42 L602.41,287.07 L602.53,287.97 L602.65,288.44 L602.77,289.99 L602.89,292.69 L603.02,296.18 L603.14,301.05 L603.27,303.25 L603.39,307.84 L603.52,311.66 L603.64,310.84 L603.76,308.66 L603.88,306.91 L604.00,306.40 L604.11,303.88 L604.23,304.00 L604.35,302.48 L604.47,302.17 L604.59,301.27 L604.71,299.70 L604.83,301.18 L604.94,302.73 L605.06,303.30 L605.18,304.80 L605.30,305.41 L605.42,306.92 L605.54,307.46 L605.65,306.50 L605.77,308.34 L605.89,307.39 L606.01,310.78 L606.12,310.93 L606.24,310.02 L606.36,310.08 L606.48,311.25 L606.60,312.52 L606.72,314.36 L606.84,314.65 L606.95,312.96 L607.07,312.90 L607.19,314.58 L607.31,317.19 L607.43,314.02 L607.55,313.68 L607.67,314.71 L607.78,312.33 L607.90,314.16 L608.02,312.65 L608.14,312.01 L608.26,310.87 L608.39,313.32 L608.51,314.58 L608.64,314.81 L608.77,314.37 L608.89,312.13 L609.02,311.78 L609.15,311.00 L609.28,310.87 L609.40,308.32 L609.53,310.08 L609.65,309.91 L609.76,310.68 L609.88,308.49 L610.00,307.04 L610.12,303.98 L610.24,303.79 L610.35,302.09 L610.47,302.96 L610.59,304.94 L610.71,306.97 L610.83,308.70 L610.94,307.69 L611.06,309.66 L611.18,308.47 L611.30,309.87 L611.42,311.66 L611.55,310.02 L611.67,309.10 L611.80,308.79 L611.93,309.08 L612.06,309.41 L612.18,309.38 L612.31,308.12 L612.44,308.43 L612.56,311.73 L612.69,310.87 L612.82,312.45 L612.94,310.25 L613.07,308.79 L613.19,310.01 L613.32,310.57 L613.45,312.17 L613.57,312.39 L613.70,310.98 L613.82,310.49 L613.95,309.29 L614.07,310.24 L614.19,310.61 L614.31,311.83 L614.42,310.43 L614.54,309.62 L614.66,308.57 L614.78,307.60 L614.90,306.92 L615.02,307.36 L615.14,306.27 L615.26,306.57 L615.38,305.56 L615.49,301.86 L615.61,298.68 L615.73,297.15 L615.85,297.43 L615.97,296.94 L616.09,294.44 L616.21,294.11 L616.33,293.27 L616.44,293.56 L616.56,294.18 L616.68,294.06 L616.80,292.69 L616.92,291.83 L617.04,291.89 L617.16,292.34 L617.27,293.38 L617.39,293.30 L617.51,292.99 L617.63,294.20 L617.75,295.85 L617.87,295.80 L617.99,293.98 L618.11,293.13 L618.23,295.63 L618.34,293.75 L618.46,292.82 L618.58,293.63 L618.70,291.90 L618.83,291.38 L618.95,293.02 L619.08,294.24 L619.20,291.72 L619.33,292.44 L619.46,291.91 L619.58,289.93 L619.71,291.28 L619.83,290.47 L619.96,290.32 L620.08,288.52 L620.20,288.95 L620.32,289.53 L620.43,289.97 L620.55,292.58 L620.67,292.80 L620.79,291.77 L620.91,291.90 L621.03,292.13 L621.15,292.89 L621.27,289.49 L621.38,290.46 L621.50,293.01 L621.62,294.04 L621.74,293.07 L621.86,295.85 L621.98,296.27 L622.10,298.44 L622.22,299.20 L622.34,298.23 L622.45,295.48 L622.57,295.10 L622.69,295.31 L622.81,294.27 L622.93,292.86 L623.04,294.37 L623.16,293.74 L623.28,296.01 L623.40,295.65 L623.51,296.55 L623.63,296.50 L623.75,297.43 L623.87,299.14 L623.99,297.27 L624.11,297.32 L624.23,297.52 L624.34,297.68 L624.46,298.53 L624.58,301.01 L624.70,300.59 L624.82,302.96 L624.94,304.05 L625.06,304.73 L625.17,304.33 L625.29,304.89 L625.41,305.02 L625.53,307.22 L625.65,310.87 L625.77,310.29 L625.89,309.97 L626.01,307.56 L626.12,307.19 L626.24,304.74 L626.36,302.17 L626.48,301.20 L626.60,299.01 L626.72,299.09 L626.84,298.53 L626.96,297.41 L627.08,295.87 L627.19,295.37 L627.31,294.96 L627.43,294.31 L627.55,295.06 L627.67,295.37 L627.79,294.60 L627.91,293.91 L628.02,293.68 L628.14,293.53 L628.26,294.42 L628.38,297.71 L628.50,297.43 L628.62,297.21 L628.74,297.42 L628.86,297.01 L628.98,296.90 L629.09,298.76 L629.21,301.39 L629.33,301.35 L629.45,302.17 L629.57,303.61 L629.69,304.26 L629.81,304.22 L629.92,304.91 L630.04,304.99 L630.16,304.30 L630.28,305.19 L630.40,304.55 L630.52,304.28 L630.63,305.08 L630.75,303.93 L630.87,305.26 L630.99,304.68 L631.11,303.77 L631.22,304.87 L631.34,306.13 L631.46,306.26 L631.58,306.89 L631.70,304.42 L631.82,302.93 L631.93,300.35 L632.05,298.21 L632.17,298.19 L632.29,297.43 L632.41,298.63 L632.53,300.02 L632.65,300.32 L632.76,302.83 L632.88,302.35 L633.00,304.07 L633.12,304.13 L633.24,303.75 L633.36,306.40 L633.48,305.91 L633.60,306.81 L633.72,305.75 L633.83,304.77 L633.95,306.33 L634.07,306.85 L634.19,306.92 L634.31,307.56 L634.43,308.40 L634.55,309.54 L634.66,310.20 L634.78,311.12 L634.90,311.55 L635.02,311.75 L635.14,313.24 L635.26,310.42 L635.38,311.57 L635.50,311.65 L635.62,311.95 L635.73,311.66 L635.85,310.78 L635.97,311.62 L636.09,310.08 L636.21,308.65 L636.33,307.20 L636.45,309.22 L636.57,309.06 L636.68,308.87 L636.80,306.85 L636.92,306.78 L637.04,307.71 L637.16,306.73 L637.27,307.26 L637.39,307.96 L637.51,309.21 L637.63,310.92 L637.75,313.94 L637.86,314.36 L637.98,314.82 L638.10,314.37 L638.22,316.02 L638.34,316.36 L638.45,317.35 L638.57,318.65 L638.69,318.84 L638.81,318.98 L638.93,319.57 L639.05,320.13 L639.17,320.58 L639.29,320.76 L639.40,321.08 L639.52,323.05 L639.64,322.63 L639.76,323.13 L639.88,323.52 L640.00,325.21 L640.12,324.82 L640.24,324.80 L640.36,324.43 L640.47,325.78 L640.59,326.91 L640.71,327.77 L640.83,328.26 L640.96,331.71 L641.08,332.62 L641.21,330.61 L641.33,329.22 L641.46,327.90 L641.59,327.84 L641.71,326.35 L641.84,326.86 L641.96,325.47 L642.09,325.89 L642.22,324.71 L642.34,325.02 L642.47,324.83 L642.60,323.22 L642.73,325.22 L642.85,323.38 L642.98,322.33 L643.11,320.14 L643.23,321.06 L643.36,321.94 L643.49,322.16 L643.61,319.29 L643.74,320.66 L643.86,323.35 L643.99,322.54 L644.12,323.50 L644.24,325.03 L644.37,325.43 L644.49,324.23 L644.62,324.31 L644.75,323.54 L644.87,324.33 L645.00,322.10 L645.13,322.86 L645.25,323.02 L645.38,321.03 L645.51,319.78 L645.64,320.56 L645.76,322.32 L645.89,323.52 L646.02,327.55 L646.14,328.00 L646.27,326.61 L646.39,326.84 L646.52,326.07 L646.65,323.09 L646.77,324.67 L646.90,323.56 L647.02,322.52 L647.15,325.10 L647.28,324.43 L647.40,323.50 L647.53,324.81 L647.66,327.44 L647.78,325.14 L647.91,323.88 L648.04,323.24 L648.17,324.46 L648.29,324.98 L648.42,326.68 L648.55,324.33 L648.67,323.76 L648.80,325.30 L648.92,322.45 L649.05,323.47 L649.18,321.95 L649.30,321.91 L649.43,320.09 L649.55,320.52 L649.68,321.15 L649.81,320.87 L649.93,322.98 L650.06,321.57 L650.19,322.80 L650.32,321.20 L650.44,322.40 L650.57,323.44 L650.70,322.41 L650.82,324.44 L650.95,324.31 L651.08,321.82 L651.20,320.74 L651.33,321.30 L651.45,320.71 L651.58,321.29 L651.71,322.54 L651.83,323.00 L651.96,323.09 L652.08,322.73 L652.21,322.73 L652.33,324.92 L652.45,324.39 L652.57,324.39 L652.68,325.71 L652.80,324.65 L652.92,326.25 L653.04,326.55 L653.16,327.47 L653.28,326.92 L653.40,326.91 L653.52,328.78 L653.63,327.60 L653.75,329.22 L653.87,330.99 L653.99,331.38 L654.11,329.05 L654.24,327.64 L654.36,328.23 L654.49,329.71 L654.62,327.91 L654.75,328.46 L654.87,328.85 L655.00,326.90 L655.13,327.20 L655.25,326.25 L655.38,324.31 L655.51,326.69 L655.63,325.67 L655.76,323.74 L655.88,321.83 L656.01,324.41 L656.14,325.71 L656.26,326.43 L656.39,325.31 L656.51,325.80 L656.64,325.89 L656.77,327.03 L656.89,325.23 L657.02,326.35 L657.15,327.82 L657.27,326.78 L657.40,325.67 L657.53,325.66 L657.66,324.01 L657.78,323.77 L657.91,323.52 L658.03,325.13 L658.14,323.55 L658.26,322.89 L658.38,324.42 L658.50,321.89 L658.62,323.04 L658.73,322.18 L658.85,322.73 L658.97,323.61 L659.09,325.36 L659.21,321.77 L659.33,321.71 L659.44,319.67 L659.56,320.16 L659.68,320.17 L659.80,321.15 L659.92,321.23 L660.04,319.77 L660.16,318.14 L660.27,316.84 L660.39,314.35 L660.51,314.22 L660.63,312.96 L660.75,310.87 L660.87,314.01 L660.99,315.01 L661.11,315.82 L661.23,316.14 L661.34,315.73 L661.46,315.59 L661.58,318.66 L661.70,319.57 L661.82,320.13 L661.94,321.72 L662.06,322.12 L662.17,321.41 L662.29,320.88 L662.41,320.87 L662.53,322.85 L662.65,322.73 L662.77,321.47 L662.89,321.69 L663.01,321.23 L663.12,320.82 L663.24,320.63 L663.36,322.42 L663.48,321.48 L663.60,320.36 L663.72,322.75 L663.84,321.49 L663.96,319.12 L664.08,320.24 L664.19,319.56 L664.31,319.49 L664.43,319.57 L664.55,317.98 L664.67,316.65 L664.78,313.02 L664.90,312.15 L665.02,311.68 L665.14,308.74 L665.25,308.21 L665.37,306.45 L665.49,306.92 L665.61,306.82 L665.73,304.26 L665.85,301.67 L665.97,302.73 L666.08,301.98 L666.20,302.36 L666.32,300.72 L666.44,299.80 L666.57,297.32 L666.69,298.35 L666.82,299.92 L666.95,299.39 L667.08,300.57 L667.20,300.09 L667.33,301.08 L667.46,300.96 L667.58,300.27 L667.71,301.38 L667.84,298.95 L667.96,301.51 L668.09,299.47 L668.21,296.88 L668.34,297.34 L668.47,296.02 L668.59,296.92 L668.72,295.12 L668.84,297.21 L668.97,299.01 L669.10,297.40 L669.22,299.88 L669.35,299.10 L669.48,298.92 L669.61,297.85 L669.73,298.03 L669.86,298.37 L669.99,298.01 L670.11,298.23 L670.24,298.22 L670.37,299.06 L670.49,297.47 L670.62,297.08 L670.74,295.71 L670.87,295.82 L671.00,295.92 L671.12,295.84 L671.25,295.11 L671.37,297.76 L671.50,296.64 L671.63,296.81 L671.75,295.67 L671.88,297.12 L672.01,298.22 L672.13,298.26 L672.26,298.64 L672.39,296.97 L672.52,295.05 L672.64,295.57 L672.77,295.06 L672.90,293.78 L673.02,294.35 L673.15,293.40 L673.27,292.27 L673.40,292.99 L673.53,293.87 L673.65,294.24 L673.78,294.37 L673.90,293.75 L674.03,294.27 L674.15,293.69 L674.27,292.64 L674.39,295.40 L674.50,294.60 L674.62,294.35 L674.74,292.89 L674.86,292.24 L674.98,291.90 L675.10,292.93 L675.22,289.13 L675.34,290.82 L675.45,291.82 L675.57,292.42 L675.69,291.31 L675.81,289.19 L675.93,287.94 L676.06,288.20 L676.18,288.42 L676.31,287.75 L676.43,288.06 L676.56,286.15 L676.69,284.03 L676.81,285.07 L676.94,285.91 L677.06,286.31 L677.19,287.15 L677.31,287.62 L677.43,285.05 L677.55,285.21 L677.66,287.21 L677.78,287.40 L677.90,288.86 L678.02,290.22 L678.14,289.53 L678.26,289.74 L678.38,289.37 L678.50,286.94 L678.62,287.89 L678.73,285.96 L678.85,286.10 L678.97,286.29 L679.09,284.78 L679.22,283.31 L679.34,283.68 L679.47,283.77 L679.60,285.17 L679.73,285.19 L679.85,285.65 L679.98,285.67 L680.11,286.71 L680.23,285.15 L680.36,282.41 L680.48,282.82 L680.60,282.30 L680.71,281.19 L680.83,283.18 L680.95,281.02 L681.06,280.39 L681.18,281.35 L681.30,280.83 L681.42,281.32 L681.54,282.80 L681.66,283.35 L681.77,282.12 L681.89,281.40 L682.01,283.36 L682.13,285.31 L682.25,284.78 L682.37,285.39 L682.49,286.50 L682.61,287.65 L682.73,289.84 L682.84,291.41 L682.96,291.59 L683.08,291.52 L683.20,292.69 L683.32,291.84 L683.44,290.34 L683.56,292.11 L683.67,294.30 L683.79,295.79 L683.91,296.90 L684.03,295.47 L684.15,294.27 L684.27,293.83 L684.39,296.43 L684.51,296.43 L684.62,297.04 L684.74,296.37 L684.86,298.54 L684.98,296.42 L685.10,299.01 L685.22,299.66 L685.34,296.78 L685.46,297.53 L685.58,298.96 L685.69,300.37 L685.81,301.65 L685.93,301.90 L686.05,302.17 L686.17,300.96 L686.29,298.79 L686.41,299.73 L686.52,296.79 L686.64,295.62 L686.76,293.87 L686.88,290.57 L687.00,291.11 L687.12,291.16 L687.24,289.94 L687.35,288.47 L687.47,287.81 L687.59,289.60 L687.71,289.59 L687.82,288.06 L687.94,287.94 L688.06,286.62 L688.18,286.96 L688.30,287.18 L688.41,287.82 L688.53,287.89 L688.65,287.68 L688.77,285.60 L688.89,285.57 L689.01,287.43 L689.13,285.88 L689.25,287.50 L689.37,287.07 L689.48,286.61 L689.60,286.17 L689.72,287.50 L689.84,287.94 L689.96,288.08 L690.08,286.63 L690.20,288.62 L690.32,287.24 L690.43,288.88 L690.55,290.44 L690.67,291.30 L690.79,289.53 L690.91,289.48 L691.03,288.34 L691.15,290.29 L691.26,290.53 L691.38,290.99 L691.50,291.17 L691.62,291.41 L691.74,292.69 L691.86,295.31 L691.98,296.10 L692.10,297.54 L692.22,298.22 L692.33,298.58 L692.45,296.82 L692.57,296.08 L692.69,295.06 L692.82,295.61 L692.94,291.46 L693.07,288.31 L693.19,287.41 L693.32,287.71 L693.45,287.00 L693.57,286.65 L693.70,287.39 L693.82,289.09 L693.95,291.11 L694.08,290.97 L694.20,291.51 L694.33,290.12 L694.46,288.05 L694.59,287.99 L694.71,289.20 L694.84,289.06 L694.97,285.67 L695.09,286.24 L695.22,287.94 L695.35,288.73 L695.47,288.19 L695.60,286.88 L695.72,285.22 L695.85,287.00 L695.98,286.46 L696.10,285.98 L696.23,285.58 L696.35,285.24 L696.48,285.57 L696.60,285.02 L696.72,285.46 L696.84,284.73 L696.95,283.70 L697.07,281.35 L697.19,281.49 L697.31,283.19 L697.43,283.99 L697.55,286.04 L697.67,286.13 L697.79,285.71 L697.90,285.28 L698.02,284.39 L698.14,286.04 L698.26,288.28 L698.38,287.94 L698.50,287.87 L698.62,285.36 L698.74,285.13 L698.86,285.52 L698.97,283.76 L699.09,284.75 L699.21,283.51 L699.33,283.20 L699.46,284.89 L699.58,282.33 L699.71,282.46 L699.83,281.61 L699.96,283.06 L700.09,282.51 L700.21,281.76 L700.34,281.90 L700.46,283.72 L700.59,282.41 L700.71,281.59 L700.83,280.99 L700.95,282.69 L701.07,280.73 L701.18,279.61 L701.30,279.15 L701.42,278.32 L701.54,278.46 L701.66,278.07 L701.78,275.95 L701.90,279.52 L702.01,281.45 L702.13,281.76 L702.25,281.56 L702.37,281.17 L702.49,279.25 L702.61,276.59 L702.73,275.68 L702.85,274.88 L702.97,275.60 L703.08,274.43 L703.20,272.43 L703.32,272.50 L703.44,272.13 L703.56,269.58 L703.68,267.78 L703.80,268.12 L703.91,266.25 L704.03,265.52 L704.15,263.35 L704.27,263.89 L704.39,265.81 L704.51,263.81 L704.63,263.16 L704.75,264.85 L704.87,265.99 L704.98,266.64 L705.10,265.64 L705.22,264.02 L705.34,264.23 L705.46,264.01 L705.58,263.80 L705.69,265.48 L705.81,261.62 L705.93,260.38 L706.04,259.23 L706.16,260.33 L706.28,257.91 L706.41,259.81 L706.53,257.72 L706.66,259.21 L706.79,257.99 L706.91,256.61 L707.04,257.12 L707.17,256.50 L707.30,256.84 L707.42,256.66 L707.55,255.53 L707.68,256.89 L707.80,256.80 L707.93,256.11 L708.05,255.40 L708.18,253.05 L708.31,251.50 L708.43,252.17 L708.56,252.68 L708.68,252.72 L708.81,254.74 L708.94,254.80 L709.06,254.87 L709.19,255.66 L709.32,256.20 L709.44,257.85 L709.57,257.21 L709.70,257.42 L709.83,257.51 L709.95,257.13 L710.08,257.11 L710.20,257.11 L710.32,257.90 L710.44,256.70 L710.56,255.49 L710.67,254.61 L710.79,254.91 L710.91,254.52 L711.03,255.53 L711.15,257.58 L711.27,258.66 L711.39,257.42 L711.50,256.46 L711.62,255.48 L711.74,254.39 L711.86,255.27 L711.98,253.95 L712.11,254.39 L712.23,253.59 L712.36,252.18 L712.48,253.59 L712.61,251.43 L712.74,253.02 L712.86,250.90 L712.99,251.34 L713.11,251.46 L713.24,251.58 L713.36,251.15 L713.48,249.94 L713.60,249.28 L713.72,250.81 L713.83,251.80 L713.95,254.53 L714.07,255.77 L714.19,256.32 L714.31,255.75 L714.43,254.68 L714.55,255.67 L714.66,254.37 L714.78,253.12 L714.90,251.40 L715.02,251.27 L715.14,254.74 L715.26,255.40 L715.38,254.19 L715.50,254.28 L715.62,256.49 L715.73,257.03 L715.85,257.41 L715.97,259.38 L716.09,260.28 L716.21,260.18 L716.33,261.84 L716.45,261.57 L716.57,262.47 L716.68,266.03 L716.80,264.06 L716.92,267.27 L717.04,265.81 L717.16,267.65 L717.27,266.32 L717.39,267.44 L717.51,267.94 L717.63,268.60 L717.75,268.94 L717.86,272.47 L717.98,275.30 L718.11,273.22 L718.23,270.85 L718.36,270.63 L718.49,268.73 L718.62,271.37 L718.74,273.27 L718.87,274.11 L719.00,271.76 L719.12,270.80 L719.25,272.13 L719.38,271.15 L719.50,272.42 L719.63,272.78 L719.75,274.34 L719.88,274.56 L720.01,274.76 L720.13,273.27 L720.26,273.37 L720.38,272.48 L720.51,273.72 L720.64,271.76 L720.76,272.89 L720.89,274.21 L721.02,275.05 L721.14,272.96 L721.27,271.20 L721.40,271.40 L721.53,271.48 L721.65,270.90 L721.78,270.55 L721.90,270.79 L722.02,271.11 L722.14,271.34 L722.25,272.24 L722.37,273.74 L722.49,274.95 L722.61,275.36 L722.73,278.46 L722.85,279.55 L722.97,279.02 L723.09,283.45 L723.20,280.82 L723.32,282.47 L723.44,283.74 L723.56,283.78 L723.68,283.20 L723.80,283.16 L723.91,284.66 L724.03,285.94 L724.15,286.67 L724.27,287.02 L724.38,287.16 L724.50,288.49 L724.62,288.74 L724.75,288.21 L724.87,289.22 L725.00,287.67 L725.13,287.28 L725.25,286.34 L725.38,284.37 L725.51,285.48 L725.64,283.35 L725.76,282.02 L725.89,280.04 L726.01,278.22 L726.13,276.60 L726.25,276.40 L726.37,276.21 L726.48,275.99 L726.60,274.31 L726.72,273.28 L726.84,270.55 L726.97,267.75 L727.09,267.93 L727.22,265.40 L727.34,264.85 L727.47,265.41 L727.60,263.94 L727.72,264.41 L727.85,263.08 L727.97,261.57 L728.10,261.07 L728.23,262.93 L728.35,260.66 L728.48,260.43 L728.61,258.86 L728.74,258.63 L728.86,258.71 L728.99,256.20 L729.12,254.17 L729.24,254.77 L729.37,254.74 L729.50,253.59 L729.62,253.37 L729.75,254.32 L729.87,255.23 L730.00,252.13 L730.13,251.59 L730.25,254.02 L730.38,253.69 L730.50,253.28 L730.63,253.64 L730.76,254.27 L730.88,254.77 L731.01,255.44 L731.13,254.57 L731.26,255.30 L731.39,257.67 L731.51,259.10 L731.64,260.20 L731.77,260.57 L731.89,262.10 L732.02,261.76 L732.15,262.43 L732.28,263.46 L732.40,261.65 L732.53,263.20 L732.65,263.20 L732.77,264.06 L732.89,264.90 L733.00,266.38 L733.12,268.06 L733.24,270.79 L733.36,271.30 L733.48,272.69 L733.60,274.32 L733.72,274.65 L733.84,274.78 L733.95,276.19 L734.07,278.17 L734.19,279.98 L734.31,279.33 L734.43,280.59 L734.55,280.96 L734.67,283.65 L734.79,284.02 L734.90,284.09 L735.02,286.37 L735.14,285.85 L735.26,287.96 L735.38,290.08 L735.51,290.33 L735.63,291.08 L735.76,292.31 L735.88,295.65 L736.01,296.40 L736.13,294.54 L736.25,294.13 L736.37,292.99 L736.49,290.67 L736.60,289.43 L736.72,288.68 L736.84,289.01 L736.96,288.50 L737.08,288.90 L737.20,287.85 L737.32,288.88 L737.43,287.64 L737.55,286.34 L737.67,285.37 L737.79,283.96 L737.91,283.75 L738.03,285.65 L738.14,286.74 L738.26,287.23 L738.38,288.55 L738.50,288.88 L738.62,291.18 L738.73,294.14 L738.85,294.82 L738.97,293.57 L739.09,294.06 L739.21,296.24 L739.33,295.13 L739.44,296.12 L739.56,296.01 L739.68,294.04 L739.80,293.24 L739.92,293.86 L740.04,293.44 L740.16,296.12 L740.27,293.11 L740.39,292.51 L740.51,291.88 L740.63,290.93 L740.75,290.08 L740.87,290.43 L740.99,291.39 L741.11,291.79 L741.23,292.95 L741.34,293.02 L741.46,291.95 L741.58,291.32 L741.70,293.24 L741.82,292.44 L741.94,291.85 L742.06,292.32 L742.17,293.05 L742.29,292.94 L742.41,293.99 L742.53,295.85 L742.65,297.98 L742.78,301.24 L742.90,302.46 L743.03,304.05 L743.15,305.65 L743.28,309.05 L743.40,310.72 L743.52,311.41 L743.64,312.66 L743.75,316.73 L743.87,315.21 L743.99,317.02 L744.11,317.06 L744.23,316.32 L744.35,315.57 L744.47,314.92 L744.59,317.28 L744.70,317.60 L744.82,319.24 L744.94,317.28 L745.06,319.09 L745.18,319.49 L745.30,320.75 L745.42,319.53 L745.54,320.32 L745.65,320.51 L745.77,320.25 L745.89,320.31 L746.01,320.59 L746.13,321.07 L746.25,321.34 L746.37,323.72 L746.49,323.39 L746.61,323.40 L746.72,322.47 L746.84,320.13 L746.96,323.76 L747.08,327.39 L747.20,328.08 L747.32,328.84 L747.43,328.95 L747.55,330.33 L747.67,331.61 L747.78,331.45 L747.90,332.67 L748.02,332.13 L748.14,332.61 L748.26,334.94 L748.38,336.67 L748.50,337.78 L748.61,338.22 L748.73,341.63 L748.85,342.14 L748.97,340.04 L749.09,340.39 L749.21,338.09 L749.33,338.81 L749.44,339.30 L749.56,342.03 L749.68,344.67 L749.80,345.05 L749.92,345.57 L750.04,346.76 L750.16,345.59 L750.28,344.75 L750.39,346.92 L750.51,345.78 L750.63,346.29 L750.75,349.81 L750.87,349.53 L750.99,351.41 L751.11,348.95 L751.23,347.10 L751.35,348.26 L751.46,348.56 L751.58,347.93 L751.70,347.16 L751.82,347.94 L751.94,349.64 L752.06,347.27 L752.18,345.95 L752.30,346.43 L752.41,345.24 L752.53,345.73 L752.65,343.68 L752.77,344.78 L752.89,344.81 L753.01,344.20 L753.13,343.72 L753.25,344.92 L753.36,342.41 L753.48,341.87 L753.60,339.79 L753.72,337.67 L753.85,340.70 L753.97,342.43 L754.10,343.85 L754.22,345.93 L754.35,346.36 L754.48,351.14 L754.60,353.71 L754.73,357.70 L754.85,360.95 L754.98,365.34 L755.10,367.24 L755.22,371.40 L755.34,375.60 L755.45,378.88 L755.57,381.31 L755.69,382.99 L755.81,385.50 L755.93,389.05 L756.05,388.87 L756.17,387.10 L756.29,388.41 L756.40,389.53 L756.52,389.44 L756.64,388.14 L756.76,387.74 L756.88,387.47 L757.01,385.46 L757.13,384.55 L757.26,380.74 L757.38,379.61 L757.51,377.98 L757.63,378.17 L757.75,376.00 L757.87,374.86 L757.99,373.42 L758.10,369.74 L758.22,371.80 L758.34,370.43 L758.46,370.08 L758.58,370.82 L758.70,371.22 L758.82,371.74 L758.93,369.75 L759.05,370.88 L759.17,370.78 L759.29,371.09 L759.41,373.24 L759.53,373.12 L759.65,375.60 L759.77,377.13 L759.88,377.84 L760.00,378.25 L760.12,376.81 L760.24,379.70 L760.36,381.94 L760.48,380.68 L760.60,379.73 L760.71,376.65 L760.83,377.23 L760.95,376.57 L761.06,375.92 L761.18,374.47 L761.30,373.24 L761.42,372.20 L761.54,370.97 L761.66,369.71 L761.77,368.32 L761.89,370.11 L762.01,372.62 L762.13,369.28 L762.25,368.50 L762.37,367.77 L762.49,367.04 L762.61,368.12 L762.73,363.77 L762.84,364.94 L762.96,362.41 L763.08,362.72 L763.20,362.17 L763.32,361.07 L763.44,360.80 L763.56,359.14 L763.67,361.39 L763.79,358.88 L763.91,356.48 L764.03,356.05 L764.15,355.85 L764.27,358.89 L764.39,359.93 L764.51,359.59 L764.62,360.07 L764.74,360.26 L764.86,361.00 L764.98,362.93 L765.10,363.75 L765.22,363.64 L765.34,365.28 L765.46,364.77 L765.58,365.46 L765.69,366.69 L765.81,366.58 L765.93,368.81 L766.05,369.29 L766.17,370.30 L766.29,368.57 L766.41,366.49 L766.52,363.50 L766.64,362.22 L766.76,361.69 L766.88,358.22 L767.00,354.27 L767.12,352.15 L767.24,351.76 L767.35,351.34 L767.47,349.67 L767.59,348.68 L767.71,348.21 L767.82,348.38 L767.94,346.36 L768.06,343.99 L768.18,343.46 L768.30,345.91 L768.41,345.32 L768.53,344.86 L768.65,345.16 L768.77,342.96 L768.89,343.99 L769.01,342.45 L769.13,339.55 L769.25,338.85 L769.37,338.17 L769.48,339.12 L769.60,339.44 L769.72,338.44 L769.84,339.25 L769.96,340.97 L770.08,344.04 L770.20,343.67 L770.32,344.48 L770.43,344.11 L770.55,345.06 L770.67,347.57 L770.79,349.53 L770.91,349.91 L771.03,347.49 L771.15,347.36 L771.26,347.75 L771.38,349.08 L771.50,351.52 L771.62,353.82 L771.74,355.06 L771.86,356.46 L771.98,355.40 L772.10,354.47 L772.22,356.38 L772.33,356.93 L772.45,358.31 L772.57,359.59 L772.69,360.59 L772.81,361.58 L772.93,363.91 L773.05,365.15 L773.16,367.55 L773.28,370.15 L773.40,371.21 L773.52,375.03 L773.64,376.40 L773.77,381.74 L773.89,383.68 L774.02,388.27 L774.14,390.06 L774.27,392.21 L774.40,397.80 L774.52,405.03 L774.65,412.71 L774.77,419.66 L774.90,430.32 L775.03,428.25 L775.15,423.55 L775.28,420.26 L775.40,416.64 L775.53,413.72 L775.66,415.63 L775.79,415.63 L775.91,420.07 L776.04,423.59 L776.17,426.36 L776.29,427.97 L776.40,428.55 L776.52,427.65 L776.64,426.17 L776.76,427.07 L776.88,425.95 L776.99,425.50 L777.11,423.99 L777.23,425.31 L777.35,425.23 L777.47,425.97 L777.59,425.89 L777.70,424.78 L777.82,425.92 L777.94,426.24 L778.06,425.57 L778.18,425.09 L778.30,425.19 L778.42,426.05 L778.53,425.60 L778.65,424.45 L778.77,424.21 L778.89,421.64 L779.01,420.04 L779.13,420.41 L779.25,418.39 L779.37,419.37 L779.49,420.88 L779.60,420.85 L779.72,422.67 L779.84,421.63 L779.96,423.20 L780.08,424.67 L780.20,424.04 L780.32,424.16 L780.43,423.57 L780.55,422.09 L780.67,420.26 L780.79,418.79 L780.91,419.25 L781.03,416.96 L781.15,416.63 L781.27,419.80 L781.38,420.60 L781.50,420.75 L781.62,419.97 L781.74,416.74 L781.86,417.67 L781.99,418.25 L782.11,417.32 L782.24,415.48 L782.36,414.72 L782.49,412.92 L782.61,416.00 L782.73,417.66 L782.85,420.45 L782.97,421.05 L783.08,420.91 L783.20,419.49 L783.32,421.68 L783.44,421.62 L783.56,423.34 L783.68,423.45 L783.80,423.57 L783.91,421.19 L784.03,422.25 L784.15,423.16 L784.27,425.16 L784.39,424.78 L784.51,425.23 L784.63,425.86 L784.75,426.92 L784.87,428.24 L784.98,428.72 L785.10,429.49 L785.22,430.62 L785.34,432.69 L785.46,434.84 L785.58,436.14 L785.69,436.79 L785.81,437.08 L785.93,438.98 L786.04,438.66 L786.16,438.17 L786.28,439.01 L786.41,441.55 L786.54,444.43 L786.66,448.13 L786.79,451.20 L786.92,454.82 L787.04,456.55 L787.16,457.79 L787.28,458.03 L787.39,460.14 L787.51,461.51 L787.63,462.08 L787.75,462.15 L787.87,463.52 L788.00,461.37 L788.12,456.72 L788.25,453.12 L788.37,447.87 L788.50,442.17 L788.62,441.67 L788.74,440.13 L788.86,436.70 L788.98,436.27 L789.09,434.14 L789.21,433.61 L789.33,433.22 L789.45,431.11 L789.57,429.28 L789.69,430.27 L789.81,432.36 L789.92,431.98 L790.04,429.21 L790.16,427.91 L790.28,427.94 L790.40,424.78 L790.52,423.64 L790.63,422.32 L790.75,421.51 L790.87,424.09 L790.99,424.17 L791.11,426.25 L791.22,426.43 L791.34,426.36 L791.47,429.47 L791.60,432.82 L791.72,437.99 L791.85,442.64 L791.98,446.92 L792.10,447.89 L792.22,446.02 L792.33,444.77 L792.45,442.51 L792.57,441.23 L792.68,442.27 L792.80,440.63 L792.92,439.01 L793.04,439.10 L793.16,438.22 L793.28,439.17 L793.39,440.88 L793.51,443.43 L793.63,444.56 L793.75,446.21 L793.87,448.50 L793.99,447.58 L794.11,446.64 L794.23,446.94 L794.35,446.90 L794.46,446.46 L794.58,446.24 L794.70,445.31 L794.82,443.75 L794.94,442.79 L795.06,440.88 L795.18,438.57 L795.30,438.30 L795.41,437.29 L795.53,437.57 L795.65,435.56 L795.77,435.85 L795.89,437.23 L796.01,435.44 L796.13,433.52 L796.25,431.25 L796.36,429.06 L796.48,427.53 L796.60,426.67 L796.72,424.78 L796.84,423.11 L796.96,419.45 L797.08,416.72 L797.19,415.61 L797.31,414.93 L797.43,414.84 L797.55,414.53 L797.67,413.72 L797.79,410.71 L797.91,408.93 L798.03,407.34 L798.14,406.36 L798.26,405.98 L798.38,406.98 L798.50,405.43 L798.62,401.07 L798.74,399.36 L798.86,399.85 L798.98,400.72 L799.10,399.35 L799.21,400.59 L799.33,400.95 L799.45,402.81 L799.57,399.49 L799.69,400.70 L799.81,401.52 L799.92,402.66 L800.04,403.18 L800.16,403.23 L800.27,403.80 L800.39,403.12 L800.51,401.07 L800.63,401.26 L800.75,399.92 L800.87,397.99 L800.99,399.03 L801.10,398.07 L801.22,397.23 L801.34,397.43 L801.46,396.32 L801.59,394.72 L801.71,391.80 L801.84,391.38 L801.96,389.64 L802.09,390.00 L802.21,391.41 L802.33,393.60 L802.45,393.62 L802.57,393.45 L802.68,395.18 L802.80,396.88 L802.92,397.14 L803.04,398.54 L803.16,396.86 L803.28,396.11 L803.40,393.75 L803.51,393.36 L803.63,391.39 L803.75,390.65 L803.87,388.81 L803.99,387.47 L804.11,386.54 L804.23,385.75 L804.35,386.36 L804.47,387.59 L804.58,387.21 L804.70,384.61 L804.82,383.54 L804.94,381.15 L805.06,381.49 L805.18,380.11 L805.30,378.42 L805.41,377.49 L805.53,375.51 L805.65,374.92 L805.77,373.94 L805.89,370.87 L806.01,371.32 L806.13,370.17 L806.25,370.75 L806.37,367.59 L806.48,369.33 L806.60,368.33 L806.72,367.45 L806.84,368.50 L806.96,366.73 L807.08,367.17 L807.20,364.24 L807.32,365.28 L807.43,366.48 L807.55,366.64 L807.67,363.94 L807.79,363.75 L807.91,366.59 L808.03,368.52 L808.15,369.87 L808.26,371.80 L808.38,373.43 L808.50,375.91 L808.62,379.61 L808.74,381.94 L808.86,381.87 L808.98,381.14 L809.09,379.66 L809.21,379.13 L809.33,378.12 L809.44,377.98 L809.56,379.51 L809.68,376.40 L809.80,376.74 L809.92,374.26 L810.04,373.95 L810.15,372.06 L810.27,372.58 L810.39,374.71 L810.51,373.75 L810.63,374.03 L810.75,372.91 L810.87,373.24 L810.99,375.09 L811.11,373.89 L811.22,373.22 L811.34,371.33 L811.46,371.77 L811.58,372.45 L811.70,372.53 L811.82,374.04 L811.94,372.59 L812.06,373.72 L812.17,374.14 L812.29,372.82 L812.41,371.44 L812.53,370.87 L812.65,370.72 L812.77,371.10 L812.89,370.58 L813.00,371.19 L813.12,370.24 L813.24,368.23 L813.36,368.91 L813.48,368.50 L813.60,366.45 L813.72,365.36 L813.84,365.89 L813.95,366.65 L814.07,366.59 L814.19,364.82 L814.31,364.45 L814.43,366.13 L814.55,366.76 L814.67,368.07 L814.79,366.46 L814.90,365.63 L815.02,365.81 L815.14,365.93 L815.26,365.43 L815.38,362.96 L815.50,363.55 L815.62,363.98 L815.73,363.35 L815.85,364.72 L815.97,368.08 L816.09,368.48 L816.20,368.59 L816.32,370.08 L816.44,373.05 L816.56,373.48 L816.68,373.56 L816.80,373.36 L816.91,376.32 L817.03,377.74 L817.15,379.17 L817.27,379.57 L817.39,380.44 L817.51,381.18 L817.63,384.11 L817.75,387.85 L817.86,388.32 L817.98,391.33 L818.10,390.53 L818.22,389.05 L818.34,388.12 L818.46,388.04 L818.58,388.61 L818.69,387.42 L818.81,385.78 L818.93,386.74 L819.05,382.54 L819.17,382.73 L819.29,384.46 L819.41,384.30 L819.53,384.92 L819.64,388.46 L819.76,386.12 L819.88,386.83 L820.00,386.25 L820.12,387.47 L820.24,386.92 L820.36,386.38 L820.48,386.34 L820.60,386.62 L820.71,386.44 L820.83,384.01 L820.95,382.20 L821.07,382.73 L821.19,383.17 L821.31,385.16 L821.43,387.55 L821.55,384.71 L821.66,388.37 L821.78,390.33 L821.90,392.22 L822.02,394.58 L822.14,392.64 L822.25,391.01 L822.37,387.12 L822.49,384.05 L822.61,380.46 L822.73,377.17 L822.84,374.48 L822.96,371.66 L823.08,371.57 L823.20,371.02 L823.32,370.14 L823.43,370.06 L823.55,369.11 L823.67,368.33 L823.79,369.50 L823.91,370.87 L824.03,373.87 L824.15,376.53 L824.27,377.39 L824.38,380.56 L824.50,384.34 L824.62,387.47 L824.74,390.55 L824.86,395.38 L824.98,393.60 L825.10,390.28 L825.22,389.97 L825.34,389.11 L825.45,389.47 L825.57,387.05 L825.69,383.82 L825.81,381.15 L825.93,382.17 L826.05,382.11 L826.17,384.42 L826.28,384.62 L826.40,382.87 L826.52,384.80 L826.64,385.77 L826.76,387.47 L826.88,386.03 L827.00,382.57 L827.12,384.16 L827.24,384.33 L827.35,383.54 L827.47,383.25 L827.59,384.45 L827.71,384.31 L827.83,384.60 L827.95,385.12 L828.07,383.86 L828.18,384.77 L828.30,385.16 L828.42,386.48 L828.54,386.14 L828.66,385.89 L828.78,384.42 L828.89,384.86 L829.01,385.40 L829.13,385.67 L829.25,388.06 L829.37,390.02 L829.48,391.01 L829.60,390.63 L829.72,391.68 L829.84,397.43 L829.96,397.84 L830.08,398.38 L830.19,400.14 L830.31,399.72 L830.43,401.17 L830.55,400.12 L830.68,401.96 L830.81,404.03 L830.93,406.17 L831.06,409.33 L831.19,411.19 L831.32,410.02 L831.44,410.18 L831.57,409.04 L831.69,409.03 L831.82,407.39 L831.94,409.04 L832.06,409.97 L832.18,411.44 L832.30,412.29 L832.41,413.63 L832.53,411.56 L832.65,414.56 L832.77,414.51 L832.89,412.87 L833.01,409.71 L833.13,410.51 L833.25,409.99 L833.36,410.53 L833.48,408.01 L833.60,406.33 L833.72,405.81 L833.85,401.37 L833.97,400.43 L834.10,397.65 L834.22,394.63 L834.35,390.63 L834.47,391.37 L834.59,390.33 L834.71,387.44 L834.83,386.39 L834.94,383.96 L835.06,382.93 L835.18,382.49 L835.30,381.15 L835.42,379.95 L835.54,376.83 L835.66,375.02 L835.77,376.23 L835.89,373.88 L836.01,370.32 L836.13,369.15 L836.25,370.08 L836.37,370.37 L836.49,369.54 L836.60,368.79 L836.72,367.42 L836.84,367.05 L836.96,366.46 L837.07,365.44 L837.19,362.17 L837.31,361.09 L837.43,359.76 L837.55,357.94 L837.66,357.72 L837.78,357.51 L837.90,356.12 L838.02,356.55 L838.14,355.85 L838.26,355.61 L838.38,357.14 L838.50,358.47 L838.62,362.05 L838.73,363.81 L838.85,364.89 L838.97,365.65 L839.09,365.34 L839.22,365.92 L839.34,368.40 L839.47,370.39 L839.59,373.34 L839.72,377.19 L839.85,370.19 L839.98,364.25 L840.10,360.65 L840.23,353.65 L840.36,346.36 L840.48,346.84 L840.60,347.11 L840.71,348.04 L840.83,345.66 L840.95,342.29 L841.06,343.06 L841.18,343.56 L841.30,342.41 L841.42,339.12 L841.54,341.69 L841.66,343.71 L841.77,345.19 L841.89,342.70 L842.01,342.81 L842.13,341.61 L842.25,341.62 L842.37,343.04 L842.49,342.31 L842.61,340.36 L842.73,338.16 L842.84,338.13 L842.96,336.29 L843.08,335.16 L843.20,333.72 L843.32,331.63 L843.44,329.64 L843.56,326.88 L843.67,327.88 L843.79,327.57 L843.91,326.19 L844.03,328.10 L844.15,327.39 L844.27,328.45 L844.39,328.59 L844.51,327.76 L844.62,326.44 L844.74,325.64 L844.86,327.26 L844.98,325.99 L845.10,325.81 L845.22,326.67 L845.34,328.62 L845.46,330.37 L845.58,330.86 L845.69,332.94 L845.81,333.72 L845.93,336.33 L846.05,338.46 L846.17,337.46 L846.29,336.83 L846.41,336.53 L846.52,337.00 L846.64,337.54 L846.76,338.03 L846.88,337.88 L847.00,336.88 L847.12,336.62 L847.24,335.26 L847.35,333.71 L847.47,333.04 L847.59,332.77 L847.71,330.59 L847.82,330.53 L847.94,329.76 L848.06,329.94 L848.18,330.14 L848.30,330.59 L848.41,332.84 L848.53,331.29 L848.65,332.57 L848.77,331.01 L848.89,332.13 L849.01,333.31 L849.13,333.13 L849.25,336.45 L849.37,336.06 L849.48,336.79 L849.60,337.09 L849.72,338.51 L849.84,338.46 L849.96,339.98 L850.08,342.55 L850.20,345.43 L850.32,348.03 L850.43,348.15 L850.55,348.74 L850.67,350.13 L850.79,351.11 L850.92,353.54 L851.04,353.40 L851.17,355.65 L851.29,359.27 L851.42,362.17 L851.54,364.45 L851.66,358.99 L851.78,355.84 L851.89,353.04 L852.01,353.31 L852.13,354.32 L852.25,351.99 L852.37,351.11 L852.49,352.69 L852.61,353.88 L852.73,354.94 L852.85,354.68 L852.96,354.08 L853.08,352.85 L853.20,351.84 L853.32,353.48 L853.44,352.01 L853.56,350.34 L853.68,347.75 L853.80,346.74 L853.91,347.03 L854.03,344.33 L854.15,345.20 L854.27,344.78 L854.39,341.29 L854.51,341.72 L854.63,342.26 L854.75,344.31 L854.86,344.24 L854.98,341.08 L855.10,338.85 L855.22,336.88 L855.34,336.57 L855.46,334.16 L855.58,331.37 L855.69,330.83 L855.81,330.94 L855.93,327.83 L856.05,326.87 L856.17,327.39 L856.29,326.35 L856.40,326.35 L856.52,326.26 L856.64,325.43 L856.76,322.75 L856.88,323.80 L856.99,322.93 L857.11,321.07 L857.23,319.72 L857.35,319.66 L857.47,318.09 L857.59,317.15 L857.70,317.92 L857.82,317.75 L857.94,315.29 L858.06,314.74 L858.18,313.72 L858.30,312.05 L858.42,310.17 L858.53,308.43 L858.65,308.15 L858.77,309.34 L858.89,308.55 L859.01,310.00 L859.12,304.08 L859.22,299.03 L859.33,296.40 L859.45,295.24 L859.57,294.26 L859.69,293.34 L859.81,291.19 L859.92,293.01 L860.04,291.66 L860.16,291.53 L860.28,290.87 L860.40,292.51 L860.52,294.87 L860.64,291.89 L860.75,290.09 L860.87,287.37 L860.99,286.40 L861.11,286.33 L861.23,286.92 L861.35,285.73 L861.47,286.07 L861.58,286.62 L861.70,286.33 L861.82,284.32 L861.93,283.07 L862.05,282.37 L862.17,282.96 L862.29,284.41 L862.41,286.54 L862.53,285.87 L862.64,283.58 L862.76,285.39 L862.88,287.19 L863.00,287.47 L863.12,288.50 L863.24,288.81 L863.36,289.17 L863.48,290.46 L863.60,291.04 L863.71,290.21 L863.83,290.49 L863.95,292.93 L864.07,294.82 L864.19,293.48 L864.31,293.81 L864.43,295.71 L864.55,295.75 L864.66,296.44 L864.78,298.07 L864.90,298.30 L865.02,298.77 L865.14,297.54 L865.26,295.48 L865.38,294.10 L865.50,294.33 L865.61,293.36 L865.73,292.83 L865.85,295.02 L865.97,293.24 L866.09,293.17 L866.21,291.07 L866.33,290.53 L866.44,290.35 L866.56,290.77 L866.68,288.35 L866.80,286.50 L866.92,285.34 L867.04,286.64 L867.16,284.24 L867.28,286.22 L867.39,285.97 L867.51,287.37 L867.63,286.98 L867.75,288.74 L867.87,290.08 L867.99,293.22 L868.11,293.70 L868.22,292.74 L868.34,293.38 L868.46,290.74 L868.57,291.62 L868.69,292.73 L868.81,291.66 L868.93,290.88 L869.05,287.98 L869.17,288.07 L869.28,288.80 L869.40,286.60 L869.52,287.10 L869.64,285.22 L869.76,286.92 L869.88,284.83 L870.00,285.42 L870.12,287.68 L870.24,286.93 L870.35,286.88 L870.47,287.88 L870.59,288.62 L870.71,288.50 L870.83,286.88 L870.95,285.71 L871.07,284.64 L871.18,283.35 L871.30,283.96 L871.42,283.59 L871.54,283.60 L871.66,283.75 L871.78,282.22 L871.90,280.94 L872.02,283.88 L872.13,281.23 L872.25,280.51 L872.37,281.63 L872.49,281.59 L872.61,281.38 L872.74,287.73 L872.86,290.25 L872.99,295.85 L873.11,297.81 L873.24,299.57 L873.36,297.99 L873.48,297.23 L873.60,299.38 L873.72,298.82 L873.83,298.04 L873.95,297.94 L874.07,296.85 L874.19,294.82 L874.31,295.61 L874.43,297.93 L874.55,298.84 L874.66,298.20 L874.78,298.74 L874.90,297.84 L875.02,301.26 L875.14,300.36 L875.26,300.30 L875.38,298.99 L875.50,299.85 L875.62,301.44 L875.73,300.04 L875.85,300.05 L875.97,299.46 L876.09,296.40 L876.21,298.75 L876.33,300.12 L876.45,301.21 L876.57,302.58 L876.68,303.31 L876.80,302.60 L876.92,303.31 L877.04,301.94 L877.16,304.51 L877.27,302.30 L877.39,303.27 L877.51,301.89 L877.63,301.54 L877.75,301.79 L877.86,299.94 L877.98,299.57 L878.10,297.74 L878.22,299.99 L878.34,303.84 L878.45,305.53 L878.57,306.45 L878.69,307.35 L878.81,305.83 L878.93,305.89 L879.05,303.96 L879.17,304.02 L879.29,302.62 L879.40,300.16 L879.52,297.65 L879.64,295.89 L879.76,295.90 L879.88,293.24 L880.00,291.69 L880.12,290.65 L880.24,289.87 L880.36,288.63 L880.47,285.12 L880.59,281.13 L880.71,279.46 L880.83,279.01 L880.95,282.27 L881.07,283.37 L881.19,282.30 L881.31,282.29 L881.42,280.64 L881.54,280.91 L881.66,283.00 L881.78,283.75 L881.90,286.62 L882.02,286.16 L882.14,286.15 L882.25,286.49 L882.37,286.98 L882.49,287.08 L882.61,287.38 L882.73,288.50 L882.85,286.63 L882.97,285.54 L883.09,284.98 L883.20,283.38 L883.32,280.82 L883.44,280.20 L883.56,279.58 L883.68,277.43 L883.80,276.76 L883.91,274.41 L884.03,273.30 L884.15,274.27 L884.27,271.76 L884.38,272.02 L884.50,272.79 L884.62,272.69 L884.74,270.91 L884.86,271.48 L884.98,271.33 L885.10,269.08 L885.21,269.69 L885.33,271.32 L885.45,269.35 L885.57,267.15 L885.69,265.80 L885.81,265.76 L885.93,265.15 L886.05,264.16 L886.16,262.07 L886.28,262.57 L886.40,262.00 L886.52,261.62 L886.64,262.17 L886.76,263.18 L886.88,261.62 L887.00,261.49 L887.11,262.16 L887.23,263.20 L887.35,264.45 L887.47,266.36 L887.59,265.04 L887.71,264.90 L887.83,264.57 L887.94,263.79 L888.06,262.32 L888.18,260.64 L888.30,259.43 L888.42,259.25 L888.54,258.64 L888.66,257.96 L888.78,259.04 L888.89,259.81 L889.01,261.62 L889.13,263.76 L889.25,264.85 L889.37,263.20 L889.45,260.08 L889.57,261.12 L889.69,261.37 L889.81,262.07 L889.92,262.45 L890.04,262.12 L890.16,262.39 L890.28,260.36 L890.40,258.50 L890.52,257.34 L890.63,258.20 L890.75,257.40 L890.87,257.97 L890.99,256.80 L891.11,255.87 L891.22,256.04 L891.34,256.13 L891.46,255.80 L891.58,254.99 L891.70,255.77 L891.82,255.76 L891.93,254.78 L892.05,254.08 L892.17,252.39 L892.29,252.17 L892.41,252.98 L892.53,249.62 L892.65,248.79 L892.76,246.75 L892.88,245.83 L893.00,244.81 L893.12,242.88 L893.24,242.69 L893.36,241.69 L893.48,241.21 L893.60,240.05 L893.72,239.76 L893.83,241.17 L893.95,241.38 L894.07,243.84 L894.19,244.27 L894.31,242.82 L894.43,243.79 L894.55,243.70 L894.66,244.21 L894.78,244.27 L894.90,245.65 L895.02,246.31 L895.14,247.43 L895.26,246.06 L895.38,246.67 L895.50,247.66 L895.62,247.51 L895.73,248.96 L895.85,248.96 L895.97,248.49 L896.09,249.01 L896.21,248.08 L896.33,246.75 L896.45,247.18 L896.57,244.83 L896.68,246.93 L896.80,246.87 L896.92,249.67 L897.04,250.59 L897.16,249.94 L897.27,249.46 L897.39,250.51 L897.51,252.05 L897.63,252.08 L897.75,250.60 L897.86,251.14 L897.98,252.17 L898.10,253.09 L898.22,251.36 L898.34,250.57 L898.45,251.43 L898.57,253.87 L898.69,253.84 L898.81,252.24 L898.93,252.96 L899.05,248.55 L899.17,248.52 L899.29,247.65 L899.40,249.74 L899.52,248.91 L899.64,247.07 L899.76,250.30 L899.88,250.59 L900.00,250.63 L900.12,249.77 L900.24,248.53 L900.36,246.19 L900.47,246.97 L900.59,245.82 L900.71,246.85 L900.83,247.43 L900.95,249.60 L901.07,250.09 L901.19,251.18 L901.31,251.31 L901.42,251.87 L901.54,251.57 L901.66,249.39 L901.78,250.59 L901.91,246.91 L902.03,248.03 L902.16,246.04 L902.28,241.83 L902.41,239.53 L902.53,240.08 L902.65,240.41 L902.77,239.13 L902.88,239.25 L903.00,239.24 L903.12,238.42 L903.24,237.86 L903.36,237.94 L903.48,236.83 L903.60,236.42 L903.72,236.59 L903.84,237.23 L903.95,234.66 L904.07,233.01 L904.19,232.34 L904.31,231.62 L904.43,231.50 L904.55,232.09 L904.67,232.74 L904.78,233.72 L904.90,235.29 L905.02,235.39 L905.14,233.73 L905.26,233.99 L905.38,233.31 L905.50,232.67 L905.62,233.56 L905.74,231.84 L905.85,232.21 L905.97,234.14 L906.09,232.23 L906.21,231.62 L906.33,230.73 L906.45,230.77 L906.56,230.69 L906.68,229.10 L906.80,231.88 L906.91,230.72 L907.03,230.16 L907.15,230.04 L907.28,228.75 L907.41,227.10 L907.53,224.68 L907.66,222.52 L907.79,220.55 L907.91,221.85 L908.03,219.44 L908.15,218.33 L908.26,217.31 L908.38,215.72 L908.50,216.37 L908.62,215.51 L908.74,214.23 L908.86,212.37 L908.98,212.48 L909.09,212.07 L909.21,210.28 L909.33,209.68 L909.44,208.74 L909.56,209.63 L909.68,207.11 L909.80,205.60 L909.92,206.06 L910.04,206.17 L910.15,206.07 L910.27,207.02 L910.39,208.46 L910.51,209.80 L910.63,211.07 L910.75,210.45 L910.87,213.09 L910.99,212.91 L911.11,211.90 L911.22,212.28 L911.34,213.30 L911.46,211.31 L911.58,212.65 L911.70,212.52 L911.82,212.08 L911.94,211.38 L912.06,213.07 L912.17,215.06 L912.29,212.86 L912.41,211.71 L912.53,210.28 L912.65,210.42 L912.77,209.43 L912.89,208.11 L913.00,207.87 L913.12,207.69 L913.24,209.20 L913.36,210.67 L913.48,211.86 L913.60,212.59 L913.72,214.81 L913.84,213.83 L913.95,213.51 L914.07,214.51 L914.19,213.42 L914.31,214.42 L914.43,213.44 L914.56,214.32 L914.68,214.77 L914.81,217.10 L914.93,217.47 L915.06,218.97 L915.18,218.88 L915.30,218.62 L915.42,217.60 L915.53,215.06 L915.65,214.76 L915.77,212.54 L915.89,212.51 L916.01,211.07 L916.13,211.85 L916.25,211.15 L916.37,210.63 L916.49,208.65 L916.60,208.23 L916.72,209.18 L916.84,208.79 L916.96,208.70 L917.08,208.19 L917.20,210.88 L917.32,210.01 L917.43,212.73 L917.55,212.88 L917.67,210.41 L917.79,211.37 L917.91,211.86 L918.04,214.69 L918.16,216.96 L918.29,221.40 L918.41,225.45 L918.54,229.25 L918.66,229.86 L918.78,228.67 L918.90,226.93 L919.01,223.64 L919.13,221.93 L919.25,221.48 L919.37,220.99 L919.49,220.55 L919.61,219.12 L919.73,218.68 L919.84,214.93 L919.96,213.39 L920.08,215.44 L920.19,215.27 L920.31,214.42 L920.43,214.23 L920.55,216.42 L920.67,216.24 L920.79,216.71 L920.90,217.77 L921.02,217.66 L921.14,218.58 L921.26,217.50 L921.38,220.55 L921.51,217.90 L921.64,215.91 L921.76,215.94 L921.89,216.76 L922.02,215.81 L922.14,214.89 L922.25,214.67 L922.37,209.98 L922.49,208.43 L922.61,208.69 L922.73,206.89 L922.84,207.59 L922.96,207.91 L923.08,206.64 L923.20,206.13 L923.32,205.94 L923.43,206.56 L923.55,205.10 L923.67,201.63 L923.79,200.62 L923.91,203.16 L924.03,201.34 L924.15,201.07 L924.27,200.00 L924.38,199.89 L924.50,202.22 L924.62,203.43 L924.74,200.79 L924.86,200.00 L924.98,198.73 L925.10,197.34 L925.22,195.55 L925.34,192.77 L925.45,189.56 L925.57,187.90 L925.69,187.10 L925.81,185.34 L925.93,183.92 L926.05,185.18 L926.17,183.66 L926.28,183.33 L926.40,183.05 L926.52,181.03 L926.64,181.95 L926.76,179.01 L926.88,178.05 L927.00,178.12 L927.12,179.56 L927.24,181.35 L927.35,180.02 L927.47,179.62 L927.59,177.59 L927.71,175.85 L927.83,178.09 L927.95,178.81 L928.07,179.70 L928.18,178.45 L928.30,178.71 L928.42,175.83 L928.54,176.12 L928.66,176.64 L928.78,177.60 L928.89,176.32 L929.01,175.28 L929.13,174.91 L929.25,176.75 L929.37,177.10 L929.48,177.13 L929.60,175.06 L929.72,174.86 L929.84,174.24 L929.96,172.55 L930.08,173.22 L930.19,172.29 L930.31,172.57 L930.43,171.08 L930.55,171.11 L930.67,168.60 L930.79,168.48 L930.91,170.40 L931.02,169.84 L931.14,168.79 L931.26,169.08 L931.38,168.29 L931.50,167.94 L931.62,168.87 L931.74,168.64 L931.86,168.16 L931.98,165.75 L932.09,164.01 L932.21,163.10 L932.33,163.85 L932.45,164.78 L932.58,164.71 L932.70,163.65 L932.83,163.35 L932.96,162.99 L933.09,164.65 L933.21,164.09 L933.34,162.58 L933.47,161.68 L933.59,161.95 L933.72,162.41 L933.84,161.53 L933.96,162.64 L934.07,162.07 L934.19,164.69 L934.31,164.77 L934.42,164.39 L934.54,161.82 L934.66,163.99 L934.78,164.05 L934.90,165.42 L935.02,166.06 L935.13,164.26 L935.25,165.42 L935.37,166.02 L935.49,166.84 L935.61,167.15 L935.73,166.84 L935.85,168.55 L935.97,169.10 L936.09,170.45 L936.20,170.01 L936.32,169.80 L936.44,168.88 L936.56,169.53 L936.68,169.68 L936.80,169.65 L936.92,169.77 L937.03,169.29 L937.15,171.05 L937.27,170.23 L937.39,172.63 L937.51,173.48 L937.63,173.90 L937.75,175.44 L937.87,174.76 L937.99,174.27 L938.10,173.19 L938.22,172.82 L938.34,173.09 L938.46,171.90 L938.58,172.58 L938.70,172.52 L938.82,171.59 L938.93,173.62 L939.05,175.26 L939.17,177.59 L939.29,176.50 L939.41,177.43 L939.54,178.87 L939.66,181.34 L939.79,182.55 L939.91,182.75 L940.04,183.75 L940.17,188.75 L940.29,191.59 L940.42,195.01 L940.54,198.29 L940.67,201.94 L940.80,198.77 L940.92,193.66 L941.05,192.52 L941.17,187.34 L941.30,182.17 L941.42,181.58 L941.54,182.42 L941.66,183.45 L941.77,185.59 L941.89,185.31 L942.01,183.87 L942.13,181.81 L942.25,180.59 L942.37,181.75 L942.49,182.36 L942.61,180.00 L942.73,180.52 L942.84,181.68 L942.96,181.14 L943.08,180.65 L943.20,179.80 L943.32,179.59 L943.44,180.26 L943.56,180.02 L943.67,177.61 L943.79,175.34 L943.91,176.16 L944.03,177.40 L944.15,177.43 L944.27,177.22 L944.39,174.97 L944.51,175.75 L944.62,177.64 L944.74,177.50 L944.86,176.27 L944.98,176.45 L945.10,176.64 L945.22,177.03 L945.34,177.54 L945.46,175.70 L945.58,176.38 L945.69,174.79 L945.81,174.64 L945.93,174.41 L946.05,175.06 L946.17,176.69 L946.29,175.80 L946.41,176.39 L946.52,174.94 L946.64,175.19 L946.76,175.17 L946.88,174.89 L947.00,174.27 L947.12,173.68 L947.24,171.88 L947.35,170.55 L947.47,168.77 L947.59,169.99 L947.71,169.33 L947.82,171.20 L947.94,172.69 L948.06,172.65 L948.18,174.51 L948.30,174.32 L948.41,172.04 L948.53,171.48 L948.65,171.72 L948.77,171.80 L948.89,170.32 L949.01,170.04 L949.13,167.94 L949.25,168.20 L949.37,167.29 L949.48,168.08 L949.60,168.18 L949.72,166.52 L949.84,167.15 L949.97,165.49 L950.09,164.58 L950.22,164.87 L950.34,163.86 L950.47,163.99 L950.59,166.29 L950.71,168.13 L950.83,168.50 L950.94,167.36 L951.06,167.27 L951.18,167.21 L951.30,170.00 L951.42,171.11 L951.54,170.42 L951.66,168.98 L951.78,165.82 L951.89,163.91 L952.01,163.44 L952.13,163.97 L952.25,165.25 L952.37,165.57 L952.49,167.07 L952.61,166.23 L952.73,167.24 L952.85,167.98 L952.96,166.05 L953.08,165.84 L953.20,165.49 L953.32,167.15 L953.44,166.99 L953.56,164.80 L953.68,164.56 L953.80,167.33 L953.91,165.23 L954.03,164.82 L954.15,165.06 L954.27,164.78 L954.39,166.03 L954.51,165.29 L954.63,165.33 L954.75,165.48 L954.86,166.44 L954.98,165.94 L955.10,164.53 L955.22,166.36 L955.34,167.70 L955.46,168.22 L955.58,168.06 L955.69,168.83 L955.81,168.12 L955.93,168.27 L956.05,166.35 L956.17,163.99 L956.29,163.45 L956.40,163.62 L956.52,164.20 L956.64,165.05 L956.76,163.48 L956.88,164.31 L956.99,165.91 L957.11,165.57 L957.23,164.52 L957.35,163.26 L957.47,163.61 L957.59,161.86 L957.70,163.20 L957.82,163.47 L957.94,162.69 L958.06,163.20 L958.19,165.85 L958.32,166.87 L958.44,166.76 L958.57,167.62 L958.70,167.94 L958.82,167.83 L958.94,167.69 L959.05,168.84 L959.17,168.11 L959.29,168.02 L959.40,164.81 L959.52,161.97 L959.64,159.25 L959.77,157.37 L959.90,159.91 L960.02,159.09 L960.15,163.93 L960.28,163.99" fill="none" stroke="#de8f05" stroke-width="1.45" stroke-linejoin="round" stroke-linecap="butt"/>
<line x1="72.6" y1="420.50" x2="1002.0" y2="420.50" stroke="#000" stroke-width="1.39" stroke-dasharray="5.14 2.22"/>
<rect x="72.0" y="32.0" width="930.00" height="539.00" fill="none" stroke="#cccccc" stroke-width="1.74"/>
<text class="tick" transform="translate(113.65,597) scale(0.955,1)" text-anchor="middle">2000</text>
<text class="tick" transform="translate(244.65,597) scale(0.955,1)" text-anchor="middle">2004</text>
<text class="tick" transform="translate(375.65,597) scale(0.955,1)" text-anchor="middle">2008</text>
<text class="tick" transform="translate(506.65,597) scale(0.955,1)" text-anchor="middle">2012</text>
<text class="tick" transform="translate(637.65,597) scale(0.955,1)" text-anchor="middle">2016</text>
<text class="tick" transform="translate(767.65,597) scale(0.955,1)" text-anchor="middle">2020</text>
<text class="tick" transform="translate(898.65,597) scale(0.955,1)" text-anchor="middle">2024</text>
<text class="tick" transform="translate(58.9,554) scale(0.955,1)" text-anchor="end"><tspan x="-17.6">−</tspan><tspan x="0">40</tspan></text>
<text class="tick" transform="translate(58.9,491) scale(0.955,1)" text-anchor="end"><tspan x="-17.6">−</tspan><tspan x="0">20</tspan></text>
<text class="tick" transform="translate(58.9,427) scale(0.955,1)" text-anchor="end">0</text>
<text class="tick" transform="translate(58.9,363) scale(0.955,1)" text-anchor="end">20</text>
<text class="tick" transform="translate(58.9,299) scale(0.955,1)" text-anchor="end">40</text>
<text class="tick" transform="translate(58.9,235) scale(0.955,1)" text-anchor="end">60</text>
<text class="tick" transform="translate(58.9,172) scale(0.955,1)" text-anchor="end">80</text>
<text class="tick" transform="translate(58.9,108) scale(0.955,1)" text-anchor="end">100</text>
<text class="tick" transform="translate(58.9,44) scale(0.955,1)" text-anchor="end">120</text>
<text class="ttl" x="536.8" y="24.0" text-anchor="middle">Naive PnL of relative cross-country EM foreign-currency index positions</text>
<text class="yl" transform="translate(21.3,301.50) rotate(-90)" text-anchor="middle">% of risk capital, no compounding</text>
<rect x="80.5" y="39.5" width="361" height="70.7" rx="2.9" ry="2.9" fill="#ffffff" fill-opacity="0.8" stroke="#cccccc" stroke-opacity="0.8" stroke-width="1.39"/>
<text class="legt" x="260.6" y="57.8" text-anchor="middle">PnL Category(s)</text>
<line x1="85.9" y1="74.5" x2="116.9" y2="74.5" stroke="#0173b2" stroke-width="1.39"/>
<line x1="85.9" y1="96.5" x2="116.9" y2="96.5" stroke="#de8f05" stroke-width="1.39"/>
<text class="leg" x="128.7" y="79.9">Based on relative macro risk premium scores</text>
<text class="leg" x="128.7" y="100.8">Based on relative market risk scores</text>
</svg></body></html>
